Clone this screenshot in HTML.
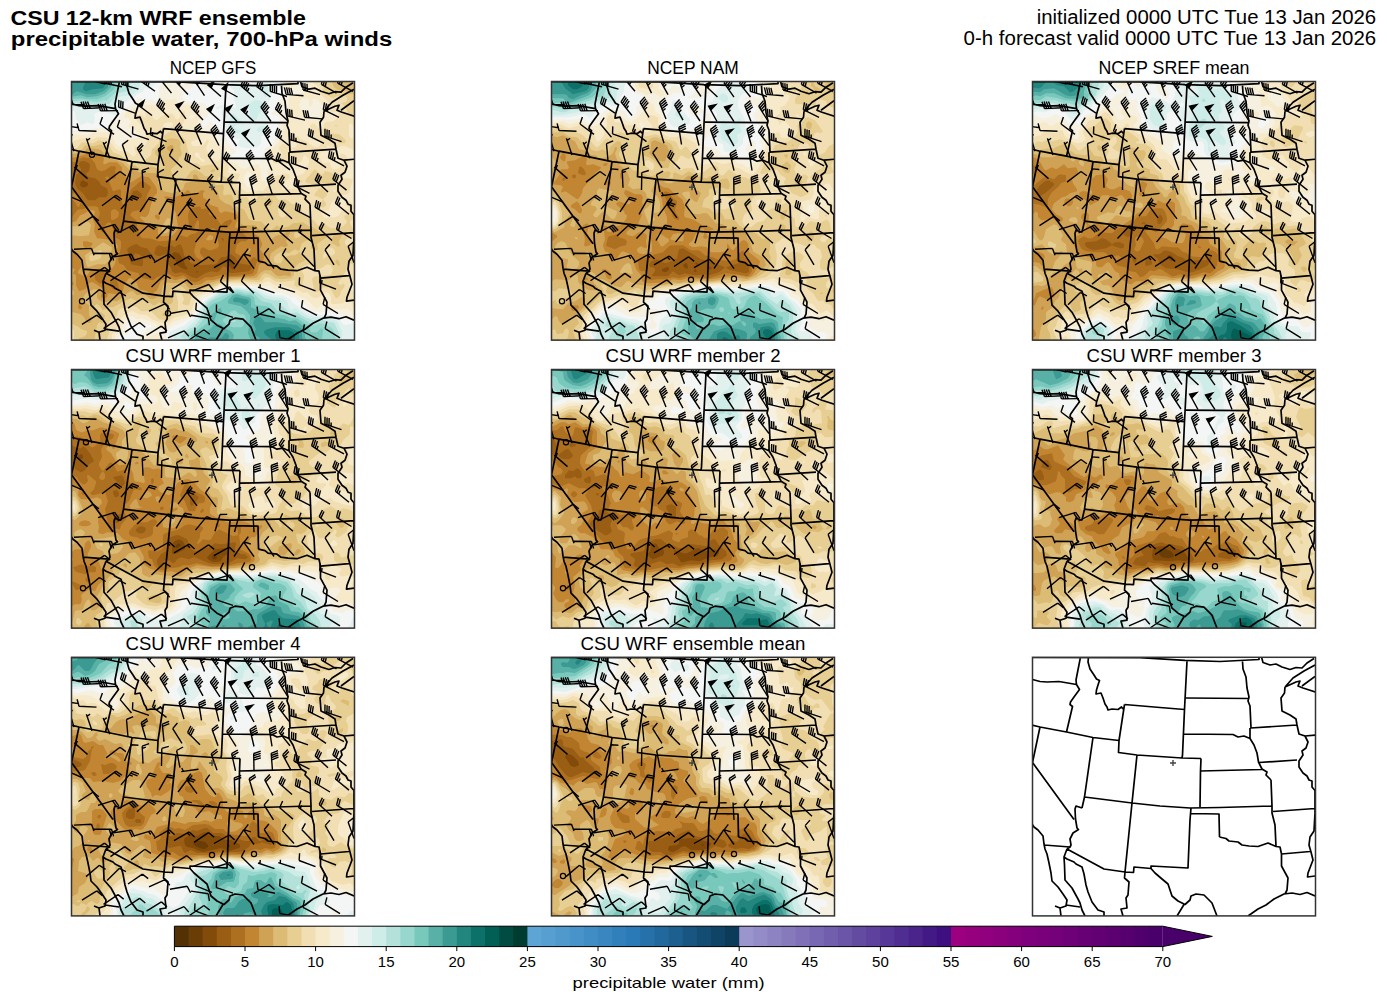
<!DOCTYPE html><html><head><meta charset="utf-8"><style>html,body{margin:0;padding:0;background:#fff;width:1387px;height:1001px;overflow:hidden}svg{position:absolute;left:0;top:0}text{font-family:"Liberation Sans",sans-serif;fill:#000}</style></head><body><svg width="1387" height="1001" viewBox="0 0 1387 1001"><defs><clipPath id="pc"><rect x="0" y="0" width="283" height="259"/></clipPath><path id="st" fill="none" stroke="#000" stroke-width="1.7" stroke-linejoin="round" d="M0.5 22.5L8 24.5L15 25L27 24.5L44.5 27.5M48.5 0L44 23L44.5 27.5M44.5 27.5L47.5 32.5L42 40L38.5 45L38 47.5L40.5 49.5L34.5 75M56.5 0L56 5L58 12L62 18L64.5 22L67.5 23.5L66 28L64.5 33L64 37L69 36L71 41L73 47L75 50L76 53L80 52L86 52.5L89.5 50L91 52M92.5 47.5L87 83.5L86.5 95.5L105 98L150 101L169 101.5M0 68L8 70L34.5 75L61 80.5L87 83.5M8 70L0.5 105.5M0.5 105.5L42 162.5M61 80.5L52.5 140L50 151M52.5 140L100 146L128 149L158 151L188 150.5L240 149M50 151L44 149L43 152L43.5 162L45 171L46.5 172.5L41 176L38 182L39 188L38 190L35 192M0 167L2 170L6 173L11 179L12 187L13 192L15 197L17 206L19 216L20 224L26 230L31 237L35 243L34 249L28 251L23 249M28 251L29 259M12 188L38 190M35 192L72 212L93 215L101.5 215.5L102 210L119 211.5M35 192L32 200L32.5 208L33 223L40 231L46 242L48 246L50 253L53 259M32 200L35 202L42 205L44 207L50 210L52 217L54 228L56 235L60 245L66 253L72 255L72 259M34 248L48 250M100 146L93 215L92.5 221L97 225L96 238L94 241L95 251L89 252L91 259M92.5 47.5L128 50.5L152.5 52.5M0 0.5L108 0.6L153 3.4L188 4.5L227 2.5L227 0M155 4L152.5 52.5L150.5 98L150 101M105 98L100 146M169 101.5L168.5 114L230 112.5M168.5 114L168 150M119 211.5L119 209L156 211L158 163L159 151M159 156.5L187 157L187.5 180M187.5 180L194 181.5L197 184L206 185L210 188L217 189L226 189.5L236 186L244 189.5L248 190M240 149L240 156L243 168L244 189.5L248 190L249.5 197L249.5 209L256 221L255 233L253 237M239 123L240 149M241 154.5L283 151.5M249.5 197L278 194.5M283 133.5L283 156L282 174L278 180L277 188L279 195L281 203L276 216L275.5 220L283 219M216 259L226 252L234 248L242 242L252 237L260 236L268 237.5L275 235.5L283 239M119 211.5L123 216L130 222L136 227L138 233L140 239L146 244L153 247.5L158 243L159 239L164 237L172 238L180 246L185 259M152 247.5L145 259M154 41L217 41.5M152 77L201 77.5L206 80L212 79L218 81.5M218 71L218 81.5L222 88L225 96L226.5 105L230 112L235 115L234 118L239 123M227 105.5L265 103M210.5 4.5L211 12L214 20L215 31L217 40L216 44L218 49L219 71M218.5 71L265 68M253 30L252.5 36L249 41L250 54L258 58L264 62L265 68M265 68L267 77L273 79L276 85L274 91L270 94L271 98L267 104L267 110L271 116L275 119L277 123L280 124L280 130L283 133.5M273 79L283.5 78M253 30L264 25L268 24L266 29L271 31L283.5 35M253 30L261 21L272 14L283 8M270 29L283 19.5M229.5 0L231 5.5L238 8L244 7L250 10L258 12.5L264 10.5L270 11L275 6L282 1.5"/><path id="bb" fill="#000" stroke="#000" stroke-width="1.4" stroke-linejoin="miter" d="M18.0 -0.3L0.8 -3.8M0.8 -3.8L0.1 -11.1M3.0 -3.4L2.2 -10.7M5.1 -2.9L4.4 -10.2M7.3 -2.5L6.5 -9.8M34.5 2.8L17.5 -1.3M17.5 -1.3L16.9 -8.6M19.6 -0.8L19.1 -8.1M21.7 -0.2L21.2 -7.6M23.9 0.3L23.3 -7.1M51.0 5.5L33.8 2.1M33.8 2.1L33.1 -5.2M36.0 2.5L35.2 -4.8M38.1 3.0L37.4 -4.3M40.3 3.4L39.5 -3.9M67.5 8.0L50.7 3.2M50.7 3.2L50.5 -4.1M52.8 3.8L52.6 -3.5M54.9 4.4L54.7 -2.9M57.0 5.0L56.8 -2.3M84.0 10.1L69.8 -0.1M69.8 -0.1L72.1 -7.0M71.6 1.2L73.9 -5.8M73.3 2.5L75.6 -4.5M75.1 3.7L77.4 -3.2M76.9 5.0L78.0 1.5M100.5 11.9L89.4 -1.6M89.4 -1.6L96.2 -4.4L92.2 1.7ZM117.0 13.4L105.0 0.6M105.0 0.6L111.6 -2.6L108.0 3.8ZM133.5 14.5L123.8 -0.0M123.8 -0.0L130.8 -2.1L126.2 3.6ZM150.0 15.3L136.9 3.8M136.9 3.8L143.2 -0.0L140.2 6.7ZM166.5 15.8L151.2 7.3M151.2 7.3L156.5 2.3L155.0 9.4ZM183.0 16.0L169.8 4.5M169.8 4.5L172.8 -2.2M171.5 5.9L174.4 -0.8M173.1 7.4L176.1 0.7M174.8 8.8L177.7 2.1M176.4 10.2L177.9 6.9M199.5 15.8L185.6 5.3M185.6 5.3L188.0 -1.6M187.3 6.6L189.8 -0.3M189.0 7.9L191.5 1.0M190.8 9.2L192.0 5.8M216.0 15.3L199.3 10.2M199.3 10.2L199.2 2.9M201.4 10.9L201.3 3.5M203.5 11.5L203.4 4.2M205.5 12.1L205.5 4.8M232.5 14.5L215.1 13.2M215.1 13.2L213.4 6.1M217.2 13.4L215.6 6.2M219.4 13.5L217.8 6.4M221.6 13.7L219.9 6.6M249.0 13.4L232.1 8.8M232.1 8.8L231.8 1.5M234.2 9.4L233.9 2.1M236.3 10.0L236.0 2.6M265.5 11.9L250.4 3.1M250.4 3.1L252.1 -4.1M252.3 4.2L253.9 -3.0M254.2 5.3L255.8 -1.9M282.0 10.1L266.6 1.9M266.6 1.9L267.9 -5.3M268.5 2.9L269.9 -4.3M270.4 3.9L271.8 -3.3M13.0 23.2L-4.5 23.5M-4.5 23.5L-6.8 16.6M-2.3 23.5L-4.6 16.5M-0.1 23.4L-2.5 16.5M2.1 23.4L-0.3 16.4M30.0 26.5L12.5 27.4M12.5 27.4L10.0 20.5M14.7 27.3L12.1 20.4M16.9 27.2L14.3 20.3M19.1 27.1L16.5 20.2M47.0 29.4L29.5 29.7M29.5 29.7L27.2 22.8M31.7 29.7L29.4 22.7M33.9 29.6L31.6 22.7M36.1 29.6L33.8 22.6M64.0 32.0L47.6 26.0M47.6 26.0L47.9 18.7M49.6 26.8L50.0 19.4M51.7 27.5L52.0 20.2M81.0 34.3L67.0 23.8M67.0 23.8L73.0 19.5L70.5 26.4ZM98.0 36.2L85.7 23.8M85.7 23.8L89.1 17.3M87.2 25.3L90.6 18.8M88.7 26.9L92.2 20.4M90.3 28.4L93.7 21.9M91.8 30.0L93.5 26.7M115.0 37.7L104.7 23.6M104.7 23.6L111.7 21.2L107.3 27.1ZM132.0 38.9L120.1 26.1M120.1 26.1L123.7 19.7M121.6 27.7L125.2 21.3M123.1 29.3L126.7 23.0M124.6 30.9L128.2 24.6M126.0 32.5L127.9 29.3M149.0 39.8L136.1 28.0M136.1 28.0L142.4 24.3L139.3 30.9ZM166.0 40.3L154.1 27.5M154.1 27.5L160.8 24.3L157.1 30.7ZM183.0 40.5L170.3 28.5M170.3 28.5L176.7 24.9L173.4 31.5ZM175.0 33.0L176.6 29.7M200.0 40.3L189.9 26.0M189.9 26.0L194.4 20.2M191.2 27.8L195.6 22.0M192.4 29.6L196.9 23.8M193.7 31.4L198.2 25.6M195.0 33.2L197.2 30.3M217.0 39.8L204.4 27.7M204.4 27.7L207.7 21.1M206.0 29.2L209.2 22.6M207.5 30.7L210.8 24.1M209.1 32.2L210.8 28.9M234.0 38.9L217.0 34.9M217.0 34.9L216.5 27.5M219.1 35.4L218.6 28.1M221.2 35.9L220.7 28.6M251.0 37.7L233.6 36.0M233.6 36.0L232.1 28.9M235.8 36.2L234.3 29.1M237.9 36.5L236.4 29.3M268.0 36.2L252.3 28.4M252.3 28.4L253.5 21.1M254.3 29.3L255.5 22.1M256.3 30.3L257.4 23.1M8.0 46.6L-9.3 44.1M-9.3 44.1L-10.5 36.9M25.5 50.1L8.0 49.3M8.0 49.3L6.1 42.2M43.0 53.2L29.0 42.8M29.0 42.8L31.4 35.9M60.5 56.0L46.3 45.7M46.3 45.7L48.7 38.8M78.0 58.4L61.5 52.6M61.5 52.6L61.8 45.2M95.5 60.4L79.4 53.7M79.4 53.7L80.0 46.4M81.4 54.5L81.7 50.9M113.0 62.1L104.1 47.0M104.1 47.0L109.0 41.5M105.2 48.9L110.1 43.4M106.3 50.8L111.2 45.3M130.5 63.3L123.7 47.2M123.7 47.2L129.3 42.5M124.5 49.2L130.1 44.5M125.4 51.3L131.0 46.5M148.0 64.3L139.9 48.8M139.9 48.8L145.0 43.6M140.9 50.7L146.1 45.5M141.9 52.6L147.1 47.5M142.9 54.6L148.1 49.4M165.5 64.8L155.6 50.4M155.6 50.4L160.2 44.6M156.9 52.2L161.4 46.4M158.1 54.0L162.7 48.2M159.3 55.8L163.9 50.0M160.6 57.6L162.8 54.7M183.0 65.0L171.1 52.2M171.1 52.2L177.7 49.0L174.1 55.4ZM200.5 64.8L191.9 49.6M191.9 49.6L196.9 44.2M193.0 51.5L198.0 46.1M194.1 53.4L199.1 48.0M195.1 55.3L200.2 49.9M196.2 57.2L198.7 54.5M218.0 64.3L204.3 53.4M204.3 53.4L206.9 46.6M206.0 54.8L208.6 47.9M207.7 56.1L210.3 49.3M209.4 57.5L210.7 54.1M235.5 63.3L218.7 58.5M218.7 58.5L218.5 51.1M220.8 59.1L220.6 51.8M222.9 59.7L222.7 52.4M225.0 60.3L224.9 56.6M253.0 62.1L237.3 54.4M237.3 54.4L238.4 47.1M239.2 55.4L240.3 48.1M241.2 56.3L242.3 49.1M270.5 60.4L253.9 54.9M253.9 54.9L254.0 47.6M256.0 55.6L256.1 48.2M258.0 56.3L258.2 48.9M260.1 57.0L260.2 53.3M3.0 70.1L-2.0 53.3M-1.3 55.4L1.7 53.3M21.0 73.8L15.4 57.2M16.1 59.3L19.1 57.1M39.0 77.1L32.1 61.0M32.9 63.0L35.7 60.6M57.0 80.0L51.3 63.4M51.3 63.4L57.2 59.1M75.0 82.5L66.2 67.3M66.2 67.3L71.2 62.0M67.3 69.2L72.3 63.8M68.4 71.1L70.9 68.4M93.0 84.6L87.2 68.1M87.2 68.1L93.0 63.7M87.9 70.2L93.8 65.8M111.0 86.4L98.4 74.3M98.4 74.3L101.6 67.7M129.0 87.8L113.9 78.8M113.9 78.8L115.6 71.7M115.8 79.9L117.5 72.8M117.7 81.1L119.4 73.9M147.0 88.7L137.2 74.2M137.2 74.2L141.8 68.5M138.4 76.0L143.0 70.3M165.0 89.3L152.4 77.1M152.4 77.1L155.7 70.6M154.0 78.7L157.3 72.1M155.6 80.2L158.8 73.6M183.0 89.5L175.0 73.9M175.0 73.9L180.2 68.8M176.0 75.9L181.2 70.7M177.0 77.8L182.2 72.7M178.0 79.8L183.2 74.6M201.0 89.3L194.2 73.2M194.2 73.2L199.8 68.4M195.1 75.2L200.7 70.5M195.9 77.2L201.5 72.5M196.8 79.2L202.4 74.5M219.0 88.7L205.0 78.2M205.0 78.2L207.5 71.3M206.8 79.5L209.3 72.6M208.5 80.8L209.8 77.4M237.0 87.8L220.5 82.0M220.5 82.0L220.7 74.7M222.5 82.7L222.7 75.4M224.6 83.5L224.8 76.1M255.0 86.4L240.6 76.5M240.6 76.5L242.8 69.5M242.4 77.7L244.6 70.7M244.2 78.9L246.4 71.9M246.0 80.2L247.1 76.7M273.0 84.6L257.5 76.5M257.5 76.5L258.8 69.3M259.5 77.5L260.8 70.3M261.4 78.5L262.7 71.3M263.3 79.5L264.0 75.9M16.5 97.4L3.3 85.9M5.0 87.3L6.4 83.9M35.0 100.9L49.0 90.3M49.0 90.3L54.9 94.6M53.5 103.9L60.1 87.7M60.1 87.7L67.4 88.3M72.0 106.6L71.2 89.1M71.2 89.1L78.1 86.6M71.3 91.3L74.8 90.1M90.5 108.9L86.6 91.8M86.6 91.8L92.9 88.1M109.0 110.7L101.6 94.9M101.6 94.9L107.0 89.9M127.5 112.2L110.2 114.6M112.3 114.3L110.8 111.0M146.0 113.2L136.4 98.5M136.4 98.5L141.1 92.9M137.6 100.4L142.3 94.7M164.5 113.8L156.6 98.2M156.6 98.2L161.8 93.1M157.6 100.2L162.8 95.0M158.5 102.1L161.2 99.5M183.0 114.0L178.5 97.1M178.5 97.1L184.7 93.2M179.0 99.2L185.2 95.3M179.6 101.3L185.8 97.4M180.2 103.4L186.4 99.5M201.5 113.8L196.0 97.2M196.0 97.2L201.9 92.9M196.7 99.3L202.6 95.0M197.4 101.3L203.3 97.1M198.0 103.4L204.0 99.1M220.0 113.2L208.2 100.3M208.2 100.3L211.9 93.9M209.7 101.9L213.4 95.5M211.2 103.5L213.0 100.3M238.5 112.2L222.9 104.2M222.9 104.2L224.2 97.0M224.9 105.2L226.1 98.0M226.8 106.2L228.1 98.9M257.0 110.7L244.1 98.9M244.1 98.9L247.2 92.2M245.7 100.4L248.8 93.7M247.3 101.8L250.5 95.2M275.5 108.9L261.8 98.0M261.8 98.0L264.4 91.2M263.5 99.4L266.1 92.5M265.2 100.7L267.8 93.9M12.0 121.0L-4.1 114.1M-4.1 114.1L-3.4 106.8M31.0 124.6L44.9 114.1M44.9 114.1L50.9 118.3M43.2 115.4L49.2 119.6M50.0 127.9L61.1 114.4M61.1 114.4L67.9 117.1M59.7 116.1L66.5 118.8M58.3 117.8L61.7 119.1M69.0 130.7L78.6 116.1M78.6 116.1L85.6 118.1M77.4 117.9L84.4 119.9M88.0 133.1L96.6 117.9M96.6 117.9L103.8 119.4M95.5 119.8L102.7 121.3M107.0 135.0L117.5 121.0M117.5 121.0L124.4 123.4M116.2 122.8L123.1 125.2M126.0 136.6L115.6 122.5M115.6 122.5L119.9 116.6M116.9 124.3L121.2 118.3M145.0 137.6L134.5 123.7M134.5 123.7L138.7 117.7M164.0 138.3L163.3 120.8M163.3 120.8L170.2 118.3M163.4 123.0L170.3 120.5M183.0 138.5L178.1 121.7M178.1 121.7L184.3 117.6M178.7 123.8L184.9 119.7M202.0 138.3L193.7 122.9M193.7 122.9L198.8 117.6M194.7 124.8L199.8 119.6M221.0 137.6L208.0 125.9M208.0 125.9L211.1 119.3M209.6 127.4L212.7 120.7M211.3 128.8L214.3 122.2M240.0 136.6L224.4 128.7M224.4 128.7L225.5 121.5M226.3 129.7L227.5 122.5M228.3 130.7L229.4 123.4M259.0 135.0L244.0 126.0M244.0 126.0L245.7 118.9M245.9 127.2L247.6 120.0M247.7 128.3L249.5 121.2M278.0 133.1L264.4 122.0M264.4 122.0L267.2 115.2M266.1 123.4L268.9 116.6M267.8 124.8L269.2 121.4M7.5 144.5L22.2 135.0M22.2 135.0L27.8 139.7M27.0 148.4L43.7 143.1M43.7 143.1L47.9 149.1M41.6 143.8L45.8 149.8M46.5 151.8L62.1 143.9M62.1 143.9L67.2 149.2M60.2 144.9L65.3 150.2M58.2 145.9L63.3 151.1M66.0 154.8L78.9 142.9M78.9 142.9L85.2 146.6M77.3 144.4L83.6 148.1M85.5 157.3L97.5 144.6M97.5 144.6L104.1 147.8M96.0 146.2L102.6 149.4M105.0 159.3L113.6 144.1M113.6 144.1L120.8 145.6M112.5 146.0L116.1 146.8M124.5 160.9L135.6 147.4M135.6 147.4L142.4 150.2M144.0 162.1L149.0 145.3M149.0 145.3L156.3 145.2M163.5 162.8L168.2 145.9M168.2 145.9L175.6 145.7M183.0 163.0L182.0 145.5M182.2 147.7L185.6 146.4M202.5 162.8L193.1 148.0M193.1 148.0L197.8 142.4M222.0 162.1L208.7 150.7M208.7 150.7L211.6 144.0M241.5 160.9L227.5 150.4M227.5 150.4L230.0 143.5M229.3 151.7L230.5 148.3M261.0 159.3L248.2 147.4M248.2 147.4L251.4 140.8M249.8 148.9L253.0 142.3M280.5 157.3L265.6 148.1M265.6 148.1L267.4 141.0M267.5 149.3L269.3 142.2M3.0 168.1L20.5 167.2M20.5 167.2L23.0 174.1M23.0 172.1L40.5 172.3M40.5 172.3L42.6 179.3M38.3 172.3L40.4 179.3M43.0 175.7L60.3 173.1M60.3 173.1L63.5 179.7M58.1 173.4L61.4 180.0M63.0 178.9L79.8 173.9M79.8 173.9L83.9 179.9M77.7 174.5L79.7 177.5M83.0 181.5L98.2 172.8M98.2 172.8L103.6 177.8M96.3 173.9L99.0 176.4M103.0 183.7L118.2 174.9M118.2 174.9L123.6 179.9M116.3 176.0L119.0 178.5M123.0 185.3L137.5 175.6M137.5 175.6L143.2 180.2M143.0 186.5L158.3 178.0M158.3 178.0L163.6 183.1M163.0 187.3L172.8 172.7M172.8 172.7L179.8 174.8M183.0 187.5L172.9 173.2M172.9 173.2L177.3 167.4M203.0 187.3L193.2 172.7M193.2 172.7L197.8 167.0M223.0 186.5L211.3 173.6M211.3 173.6L215.0 167.2M243.0 185.3L230.9 172.7M230.9 172.7L234.4 166.3M263.0 183.7L254.1 168.6M254.1 168.6L259.0 163.1M283.0 181.5L277.1 165.0M277.1 165.0L282.9 160.6M19.0 195.9L33.5 186.1M33.5 186.1L39.2 190.7M39.5 199.6L53.8 189.6M53.8 189.6L59.6 194.1M60.0 202.9L73.9 192.2M73.9 192.2L79.9 196.4M80.5 205.7L93.2 193.7M93.2 193.7L99.6 197.3M101.0 208.0L115.8 198.7M115.8 198.7L121.4 203.5M121.5 209.7L137.8 203.3M137.8 203.3L142.4 209.1M142.0 211.0L158.7 205.6M158.7 205.6L162.9 211.6M162.5 211.7L149.4 200.2M149.4 200.2L152.4 193.5M183.0 212.0L170.4 199.8M170.4 199.8L173.7 193.3M203.5 211.7L187.0 206.0M189.0 206.7L189.2 203.0M224.0 211.0L207.3 205.7M209.4 206.4L209.4 202.7M244.5 209.7L228.1 203.5M228.1 203.5L228.6 196.2M265.0 208.0L248.7 201.6M248.7 201.6L249.2 194.3M250.7 202.4L251.0 198.8M15.0 219.6L28.4 208.3M28.4 208.3L34.6 212.3M36.0 223.5L48.5 211.3M48.5 211.3L54.9 214.7M57.0 227.0L71.4 217.1M71.4 217.1L77.2 221.6M78.0 229.9L94.0 222.7M94.0 222.7L98.8 228.2M99.0 232.3L116.2 229.2M116.2 229.2L119.6 235.7M120.0 234.1L137.3 236.8M137.3 236.8L138.4 244.0M141.0 235.4L124.8 228.9M124.8 228.9L125.4 221.6M162.0 236.2L145.4 230.7M145.4 230.7L145.5 223.4M183.0 236.5L198.0 227.5M198.0 227.5L203.5 232.4M204.0 236.2L186.9 232.7M186.9 232.7L186.1 225.4M225.0 235.4L208.7 229.1M208.7 229.1L209.2 221.8M246.0 234.1L230.5 226.1M230.5 226.1L231.7 218.9M267.0 232.3L252.1 223.2M252.1 223.2L253.8 216.0M11.0 243.2L25.8 233.9M25.8 233.9L31.4 238.6M32.5 247.4L47.0 237.6M47.0 237.6L52.7 242.1M54.0 251.0L68.6 241.3M68.6 241.3L74.3 246.0M75.5 254.1L90.4 244.9M90.4 244.9L95.9 249.7M97.0 256.6L113.0 249.6M113.0 249.6L117.8 255.1M118.5 258.5L132.9 248.5M132.9 248.5L138.7 253.1M140.0 259.9L123.6 253.7M123.6 253.7L124.0 246.4M226.0 259.9L208.8 256.4M208.8 256.4L208.1 249.1M247.5 258.5L232.0 250.3M232.0 250.3L233.4 243.1M269.0 256.6L254.1 247.4M254.1 247.4L255.9 240.3"/><path id="bn" fill="#000" stroke="#000" stroke-width="1.4" stroke-linejoin="miter" d="M18.0 -0.3L0.8 -3.8M0.8 -3.8L0.1 -11.1M3.0 -3.4L2.2 -10.7M5.1 -2.9L4.4 -10.2M7.3 -2.5L6.5 -9.8M34.5 2.8L17.5 -1.3M17.5 -1.3L16.9 -8.6M19.6 -0.8L19.1 -8.1M21.7 -0.2L21.2 -7.6M23.9 0.3L23.3 -7.1M51.0 5.5L33.8 2.1M33.8 2.1L33.1 -5.2M36.0 2.5L35.2 -4.8M38.1 3.0L37.4 -4.3M40.3 3.4L39.5 -3.9M67.5 8.0L50.7 3.2M50.7 3.2L50.5 -4.1M52.8 3.8L52.6 -3.5M54.9 4.4L54.7 -2.9M57.0 5.0L56.8 -2.3M84.0 10.1L72.7 -3.2M72.7 -3.2L76.6 -9.4M74.1 -1.5L78.0 -7.7M75.5 0.1L79.4 -6.1M76.9 1.8L80.8 -4.4M78.3 3.5L80.3 0.4M100.5 11.9L93.0 -3.9M93.0 -3.9L98.4 -8.9M94.0 -1.9L99.4 -6.9M94.9 0.0L100.3 -4.9M95.8 2.0L101.2 -2.9M96.8 4.0L99.5 1.5M117.0 13.4L108.5 -1.9M108.5 -1.9L113.5 -7.2M109.5 0.0L114.6 -5.3M110.6 1.9L115.7 -3.4M111.7 3.8L116.7 -1.5M112.7 5.7L115.3 3.1M133.5 14.5L127.6 -1.9M127.6 -1.9L133.5 -6.4M128.3 0.1L134.2 -4.3M129.1 2.2L134.9 -2.2M129.8 4.2L135.7 -0.2M130.6 6.3L133.5 4.1M150.0 15.3L140.1 0.9M140.1 0.9L144.6 -4.8M141.3 2.7L145.8 -3.0M142.6 4.5L147.1 -1.2M143.8 6.3L148.3 0.6M145.0 8.1L147.3 5.3M166.5 15.8L153.7 3.9M153.7 3.9L160.1 0.3L156.9 6.9ZM183.0 16.0L173.0 1.6M173.0 1.6L177.5 -4.2M174.2 3.4L178.7 -2.4M175.5 5.2L180.0 -0.6M176.7 7.0L181.2 1.2M178.0 8.8L180.2 5.9M199.5 15.8L188.5 2.2M188.5 2.2L192.6 -3.9M189.9 3.9L194.0 -2.2M191.3 5.6L195.4 -0.5M192.6 7.3L194.7 4.3M216.0 15.3L199.3 10.2M199.3 10.2L199.2 2.9M201.4 10.9L201.3 3.5M203.5 11.5L203.4 4.2M205.5 12.1L205.5 4.8M232.5 14.5L215.1 13.2M215.1 13.2L213.4 6.1M217.2 13.4L215.6 6.2M219.4 13.5L217.8 6.4M221.6 13.7L219.9 6.6M249.0 13.4L232.1 8.8M232.1 8.8L231.8 1.5M234.2 9.4L233.9 2.1M236.3 10.0L236.0 2.6M265.5 11.9L250.4 3.1M250.4 3.1L252.1 -4.1M252.3 4.2L253.9 -3.0M254.2 5.3L255.8 -1.9M282.0 10.1L266.6 1.9M266.6 1.9L267.9 -5.3M268.5 2.9L269.9 -4.3M270.4 3.9L271.8 -3.3M13.0 23.2L-4.5 23.5M-4.5 23.5L-6.8 16.6M-2.3 23.5L-4.6 16.5M-0.1 23.4L-2.5 16.5M2.1 23.4L-0.3 16.4M30.0 26.5L12.5 27.4M12.5 27.4L10.0 20.5M14.7 27.3L12.1 20.4M16.9 27.2L14.3 20.3M19.1 27.1L16.5 20.2M47.0 29.4L29.5 29.7M29.5 29.7L27.2 22.8M31.7 29.7L29.4 22.7M33.9 29.6L31.6 22.7M36.1 29.6L33.8 22.6M64.0 32.0L49.5 22.2M49.5 22.2L51.6 15.2M51.3 23.4L53.4 16.4M53.1 24.7L55.2 17.6M81.0 34.3L70.0 20.7M70.0 20.7L74.0 14.6M71.3 22.4L75.4 16.3M72.7 24.1L76.8 18.0M74.1 25.8L78.2 19.7M75.5 27.5L77.5 24.4M98.0 36.2L89.0 21.1M89.0 21.1L93.9 15.7M90.2 23.0L95.0 17.6M91.3 24.9L96.2 19.4M92.4 26.8L97.3 21.3M93.5 28.7L96.0 25.9M115.0 37.7L108.5 21.5M108.5 21.5L114.1 16.8M109.3 23.5L114.9 18.9M110.1 25.6L115.8 20.9M110.9 27.6L116.6 22.9M111.7 29.6L114.6 27.3M132.0 38.9L123.6 23.6M123.6 23.6L128.6 18.3M124.6 25.5L129.7 20.2M125.7 27.4L130.7 22.1M126.7 29.4L131.8 24.1M127.8 31.3L130.3 28.6M149.0 39.8L139.3 25.2M139.3 25.2L144.0 19.5M140.5 27.0L145.2 21.4M141.7 28.9L146.4 23.2M143.0 30.7L147.6 25.0M144.2 32.5L146.5 29.7M166.0 40.3L157.6 25.0M157.6 25.0L164.8 23.5L159.7 28.8ZM183.0 40.5L173.5 25.8M173.5 25.8L180.6 23.8L175.9 29.5ZM177.1 31.3L179.4 28.5M200.0 40.3L193.7 24.0M193.7 24.0L199.4 19.4M194.5 26.0L200.2 21.5M195.3 28.1L201.0 23.5M196.1 30.1L201.8 25.6M196.8 32.2L199.7 29.9M217.0 39.8L207.7 25.0M207.7 25.0L212.5 19.4M208.9 26.8L213.6 21.3M210.0 28.7L214.8 23.1M211.2 30.5L213.6 27.8M234.0 38.9L217.0 34.9M217.0 34.9L216.5 27.5M219.1 35.4L218.6 28.1M221.2 35.9L220.7 28.6M251.0 37.7L233.6 36.0M233.6 36.0L232.1 28.9M235.8 36.2L234.3 29.1M237.9 36.5L236.4 29.3M268.0 36.2L252.3 28.4M252.3 28.4L253.5 21.1M254.3 29.3L255.5 22.1M256.3 30.3L257.4 23.1M8.0 46.6L-9.3 44.1M-9.3 44.1L-10.5 36.9M25.5 50.1L8.0 49.3M8.0 49.3L6.1 42.2M43.0 53.2L29.0 42.8M29.0 42.8L31.4 35.9M60.5 56.0L49.2 42.6M49.2 42.6L53.2 36.4M78.0 58.4L61.5 52.6M61.5 52.6L61.8 45.2M95.5 60.4L81.5 50.0M81.5 50.0L83.9 43.0M83.2 51.3L84.4 47.8M113.0 62.1L108.0 45.3M108.0 45.3L114.1 41.2M108.6 47.4L114.7 43.3M109.3 49.5L115.3 45.4M130.5 63.3L127.8 46.1M127.8 46.1L134.4 42.8M128.1 48.2L134.7 45.0M128.5 50.4L135.0 47.1M148.0 64.3L143.8 47.3M143.8 47.3L150.1 43.5M144.4 49.4L150.6 45.6M144.9 51.5L151.2 47.7M145.4 53.6L151.7 49.9M165.5 64.8L159.4 48.4M159.4 48.4L165.2 43.9M160.2 50.5L166.0 46.0M160.9 52.5L166.8 48.0M161.7 54.6L167.5 50.1M162.5 56.6L165.4 54.4M183.0 65.0L174.6 49.7M174.6 49.7L181.8 48.2L176.7 53.5ZM200.5 64.8L195.9 47.9M195.9 47.9L202.0 44.0M196.4 50.1L202.6 46.1M197.0 52.2L203.2 48.2M197.6 54.3L203.8 50.3M198.2 56.4L201.3 54.4M218.0 64.3L207.3 50.4M207.3 50.4L211.5 44.4M208.7 52.1L212.9 46.1M210.0 53.9L214.2 47.9M211.3 55.6L213.4 52.6M235.5 63.3L218.7 58.5M218.7 58.5L218.5 51.1M220.8 59.1L220.6 51.8M222.9 59.7L222.7 52.4M225.0 60.3L224.9 56.6M253.0 62.1L237.3 54.4M237.3 54.4L238.4 47.1M239.2 55.4L240.3 48.1M241.2 56.3L242.3 49.1M270.5 60.4L253.9 54.9M253.9 54.9L254.0 47.6M256.0 55.6L256.1 48.2M258.0 56.3L258.2 48.9M260.1 57.0L260.2 53.3M3.0 70.1L-2.0 53.3M-1.3 55.4L1.7 53.3M21.0 73.8L15.4 57.2M16.1 59.3L19.1 57.1M39.0 77.1L32.1 61.0M32.9 63.0L35.7 60.6M57.0 80.0L55.5 62.5M55.5 62.5L62.2 59.7M75.0 82.5L70.2 65.7M70.2 65.7L76.3 61.6M70.8 67.8L76.9 63.7M71.4 69.9L74.4 67.9M93.0 84.6L91.3 67.2M91.3 67.2L98.1 64.4M91.5 69.4L98.3 66.6M111.0 86.4L101.7 71.6M101.7 71.6L106.4 66.0M129.0 87.8L116.6 75.5M116.6 75.5L119.9 68.9M118.1 77.0L121.5 70.5M119.7 78.5L123.0 72.0M147.0 88.7L141.0 72.3M141.0 72.3L146.8 67.8M141.7 74.3L147.6 69.9M165.0 89.3L155.7 74.5M155.7 74.5L160.5 68.9M156.9 76.3L161.7 70.8M158.0 78.2L162.8 72.6M183.0 89.5L179.0 72.5M179.0 72.5L185.3 68.7M179.5 74.6L185.8 70.9M180.0 76.7L186.3 73.0M180.5 78.9L186.8 75.1M201.0 89.3L198.3 72.0M198.3 72.0L204.9 68.8M198.7 74.2L205.2 70.9M199.0 76.3L205.6 73.1M199.3 78.5L205.9 75.3M219.0 88.7L208.0 75.1M208.0 75.1L212.1 69.0M209.4 76.8L213.5 70.7M210.8 78.5L212.8 75.5M237.0 87.8L220.5 82.0M220.5 82.0L220.7 74.7M222.5 82.7L222.7 75.4M224.6 83.5L224.8 76.1M255.0 86.4L240.6 76.5M240.6 76.5L242.8 69.5M242.4 77.7L244.6 70.7M244.2 78.9L246.4 71.9M246.0 80.2L247.1 76.7M273.0 84.6L257.5 76.5M257.5 76.5L258.8 69.3M259.5 77.5L260.8 70.3M261.4 78.5L262.7 71.3M263.3 79.5L264.0 75.9M16.5 97.4L3.3 85.9M5.0 87.3L6.4 83.9M35.0 100.9L49.0 90.3M49.0 90.3L54.9 94.6M53.5 103.9L60.1 87.7M60.1 87.7L67.4 88.3M72.0 106.6L71.2 89.1M71.2 89.1L78.1 86.6M71.3 91.3L74.8 90.1M90.5 108.9L90.8 91.4M90.8 91.4L97.8 89.3M109.0 110.7L105.6 93.5M105.6 93.5L112.1 90.0M127.5 112.2L110.2 114.6M112.3 114.3L110.8 111.0M146.0 113.2L140.2 96.7M140.2 96.7L146.1 92.3M141.0 98.7L146.8 94.3M164.5 113.8L160.6 96.7M160.6 96.7L166.9 93.0M161.1 98.9L167.4 95.2M161.5 101.0L164.7 99.2M183.0 114.0L182.7 96.5M182.7 96.5L189.7 94.2M182.7 98.7L189.7 96.4M182.8 100.9L189.7 98.6M182.8 103.1L189.8 100.8M201.5 113.8L200.2 96.3M200.2 96.3L207.0 93.6M200.3 98.5L207.1 95.8M200.5 100.7L207.3 98.0M200.7 102.9L207.5 100.2M220.0 113.2L211.7 97.8M211.7 97.8L216.8 92.5M212.7 99.7L217.8 94.5M213.8 101.6L216.3 99.0M238.5 112.2L222.9 104.2M222.9 104.2L224.2 97.0M224.9 105.2L226.1 98.0M226.8 106.2L228.1 98.9M257.0 110.7L244.1 98.9M244.1 98.9L247.2 92.2M245.7 100.4L248.8 93.7M247.3 101.8L250.5 95.2M275.5 108.9L261.8 98.0M261.8 98.0L264.4 91.2M263.5 99.4L266.1 92.5M265.2 100.7L267.8 93.9M12.0 121.0L-4.1 114.1M-4.1 114.1L-3.4 106.8M31.0 124.6L44.9 114.1M44.9 114.1L50.9 118.3M43.2 115.4L49.2 119.6M50.0 127.9L61.1 114.4M61.1 114.4L67.9 117.1M59.7 116.1L66.5 118.8M58.3 117.8L61.7 119.1M69.0 130.7L78.6 116.1M78.6 116.1L85.6 118.1M77.4 117.9L84.4 119.9M88.0 133.1L96.6 117.9M96.6 117.9L103.8 119.4M95.5 119.8L102.7 121.3M107.0 135.0L117.5 121.0M117.5 121.0L124.4 123.4M116.2 122.8L123.1 125.2M126.0 136.6L115.6 122.5M115.6 122.5L119.9 116.6M116.9 124.3L121.2 118.3M145.0 137.6L134.5 123.7M134.5 123.7L138.7 117.7M164.0 138.3L163.3 120.8M163.3 120.8L170.2 118.3M163.4 123.0L170.3 120.5M183.0 138.5L178.1 121.7M178.1 121.7L184.3 117.6M178.7 123.8L184.9 119.7M202.0 138.3L193.7 122.9M193.7 122.9L198.8 117.6M194.7 124.8L199.8 119.6M221.0 137.6L208.0 125.9M208.0 125.9L211.1 119.3M209.6 127.4L212.7 120.7M211.3 128.8L214.3 122.2M240.0 136.6L224.4 128.7M224.4 128.7L225.5 121.5M226.3 129.7L227.5 122.5M228.3 130.7L229.4 123.4M259.0 135.0L244.0 126.0M244.0 126.0L245.7 118.9M245.9 127.2L247.6 120.0M247.7 128.3L249.5 121.2M278.0 133.1L264.4 122.0M264.4 122.0L267.2 115.2M266.1 123.4L268.9 116.6M267.8 124.8L269.2 121.4M7.5 144.5L22.2 135.0M22.2 135.0L27.8 139.7M27.0 148.4L43.7 143.1M43.7 143.1L47.9 149.1M41.6 143.8L45.8 149.8M46.5 151.8L62.1 143.9M62.1 143.9L67.2 149.2M60.2 144.9L65.3 150.2M58.2 145.9L63.3 151.1M66.0 154.8L78.9 142.9M78.9 142.9L85.2 146.6M77.3 144.4L83.6 148.1M85.5 157.3L97.5 144.6M97.5 144.6L104.1 147.8M96.0 146.2L102.6 149.4M105.0 159.3L113.6 144.1M113.6 144.1L120.8 145.6M112.5 146.0L116.1 146.8M124.5 160.9L135.6 147.4M135.6 147.4L142.4 150.2M144.0 162.1L149.0 145.3M149.0 145.3L156.3 145.2M163.5 162.8L168.2 145.9M168.2 145.9L175.6 145.7M183.0 163.0L182.0 145.5M182.2 147.7L185.6 146.4M202.5 162.8L193.1 148.0M193.1 148.0L197.8 142.4M222.0 162.1L208.7 150.7M208.7 150.7L211.6 144.0M241.5 160.9L227.5 150.4M227.5 150.4L230.0 143.5M229.3 151.7L230.5 148.3M261.0 159.3L248.2 147.4M248.2 147.4L251.4 140.8M249.8 148.9L253.0 142.3M280.5 157.3L265.6 148.1M265.6 148.1L267.4 141.0M267.5 149.3L269.3 142.2M3.0 168.1L20.5 167.2M20.5 167.2L23.0 174.1M23.0 172.1L40.5 172.3M40.5 172.3L42.6 179.3M38.3 172.3L40.4 179.3M43.0 175.7L60.3 173.1M60.3 173.1L63.5 179.7M58.1 173.4L61.4 180.0M63.0 178.9L79.8 173.9M79.8 173.9L83.9 179.9M77.7 174.5L79.7 177.5M83.0 181.5L98.2 172.8M98.2 172.8L103.6 177.8M96.3 173.9L99.0 176.4M103.0 183.7L118.2 174.9M118.2 174.9L123.6 179.9M116.3 176.0L119.0 178.5M123.0 185.3L137.5 175.6M137.5 175.6L143.2 180.2M143.0 186.5L158.3 178.0M158.3 178.0L163.6 183.1M163.0 187.3L172.8 172.7M172.8 172.7L179.8 174.8M183.0 187.5L172.9 173.2M172.9 173.2L177.3 167.4M203.0 187.3L193.2 172.7M193.2 172.7L197.8 167.0M223.0 186.5L211.3 173.6M211.3 173.6L215.0 167.2M243.0 185.3L230.9 172.7M230.9 172.7L234.4 166.3M263.0 183.7L254.1 168.6M254.1 168.6L259.0 163.1M283.0 181.5L277.1 165.0M277.1 165.0L282.9 160.6M19.0 195.9L33.5 186.1M33.5 186.1L39.2 190.7M39.5 199.6L53.8 189.6M53.8 189.6L59.6 194.1M60.0 202.9L73.9 192.2M73.9 192.2L79.9 196.4M80.5 205.7L93.2 193.7M93.2 193.7L99.6 197.3M101.0 208.0L115.8 198.7M115.8 198.7L121.4 203.5M121.5 209.7L137.8 203.3M137.8 203.3L142.4 209.1M142.0 211.0L158.7 205.6M158.7 205.6L162.9 211.6M162.5 211.7L149.4 200.2M149.4 200.2L152.4 193.5M183.0 212.0L170.4 199.8M170.4 199.8L173.7 193.3M203.5 211.7L187.0 206.0M189.0 206.7L189.2 203.0M224.0 211.0L207.3 205.7M209.4 206.4L209.4 202.7M244.5 209.7L228.1 203.5M228.1 203.5L228.6 196.2M265.0 208.0L248.7 201.6M248.7 201.6L249.2 194.3M250.7 202.4L251.0 198.8M15.0 219.6L28.4 208.3M28.4 208.3L34.6 212.3M36.0 223.5L48.5 211.3M48.5 211.3L54.9 214.7M57.0 227.0L71.4 217.1M71.4 217.1L77.2 221.6M78.0 229.9L94.0 222.7M94.0 222.7L98.8 228.2M99.0 232.3L116.2 229.2M116.2 229.2L119.6 235.7M120.0 234.1L137.3 236.8M137.3 236.8L138.4 244.0M141.0 235.4L124.8 228.9M124.8 228.9L125.4 221.6M162.0 236.2L145.4 230.7M145.4 230.7L145.5 223.4M183.0 236.5L198.0 227.5M198.0 227.5L203.5 232.4M204.0 236.2L186.9 232.7M186.9 232.7L186.1 225.4M225.0 235.4L208.7 229.1M208.7 229.1L209.2 221.8M246.0 234.1L230.5 226.1M230.5 226.1L231.7 218.9M267.0 232.3L252.1 223.2M252.1 223.2L253.8 216.0M11.0 243.2L25.8 233.9M25.8 233.9L31.4 238.6M32.5 247.4L47.0 237.6M47.0 237.6L52.7 242.1M54.0 251.0L68.6 241.3M68.6 241.3L74.3 246.0M75.5 254.1L90.4 244.9M90.4 244.9L95.9 249.7M97.0 256.6L113.0 249.6M113.0 249.6L117.8 255.1M118.5 258.5L132.9 248.5M132.9 248.5L138.7 253.1M140.0 259.9L123.6 253.7M123.6 253.7L124.0 246.4M226.0 259.9L208.8 256.4M208.8 256.4L208.1 249.1M247.5 258.5L232.0 250.3M232.0 250.3L233.4 243.1M269.0 256.6L254.1 247.4M254.1 247.4L255.9 240.3"/></defs><text x="10.4" y="24.8" font-size="20" font-weight="bold" textLength="295.5" lengthAdjust="spacingAndGlyphs">CSU 12-km WRF ensemble</text><text x="10.8" y="46.3" font-size="20" font-weight="bold" textLength="381.5" lengthAdjust="spacingAndGlyphs">precipitable water, 700-hPa winds</text><text x="1036.7" y="23.6" font-size="19.4" textLength="339.5" lengthAdjust="spacingAndGlyphs">initialized 0000 UTC Tue 13 Jan 2026</text><text x="963.6" y="44.7" font-size="19.4" textLength="412.6" lengthAdjust="spacingAndGlyphs">0-h forecast valid 0000 UTC Tue 13 Jan 2026</text><g transform="translate(71 81.2)"><g clip-path="url(#pc)" fill-rule="evenodd"><rect x="-2" y="-2" width="287" height="263" fill="#824b09"/><path fill="#995d13" d="M-2-2l288 0 0 264-288 0zM10 100l-1 4 2 2 3 0 3-2 0-2-3-2-2-1zM101 172l1 4 3 4 1 4 7 4 4 0-1-2-2-2-1-4-5-8-4-1zM159 178l-3 2 0 2 5 6 3 0-2-8zM125 190l1 2 1-2z"/><path fill="#ad7021" d="M-2-2l288 0 0 264-288 0 0-137 2 0 0-1-2-1 0-35 2-2 0-2-2-1zM10 80l-2 2 0 2 2 4 0 2-5 4 0 2-1 6 2 5 6 5 4 6 2 1 6 0 4-3 6 0 2-1 1-3-1-5-6-3-2-4-4-3-6-1-2-2-1-2 3-2 1-6-1-2-4-2zM62 110l-2 6 2 1 4-1 4 1 1-3-1-2-4-3zM150 157l2 3 0 1 1-3-1-1zM64 163l-6 3-2 2 3 12 1 3 10 2 2-1 0-6 2-1 4 0 3-1 1-2-4-4-2-3-6-1-4-3zM108 163l-4 3-4-2-6 2-6-2-3 2-1 4-1 2 2 2 3 1 6-2 2 1 0 2-1 4 0 2 5 4 1 4 3 2 6-1 4 1 7 4 5 1 8-5 6-2 6 1 2-1 4-5 3 1 3 5 2 1 18-2 2-2 0-4-12-2-4-6-4-3-2 1-4 2-4 0-4 6-2 1-14 1-10-2-7-8-1-6-2-4zM64 172l4 1 4 3-6 3-3-3 0-2z"/><path fill="#c28633" d="M-2-2l288 0 0 264-288 0 0-125 3-1 5-7 2-1 4 0 6-3 6 0 3 1 2 6-2 6 2 10 1 2 4 2 1-2-2-4 3-4 2-1 2 1 2 6 1 8 5 2 2 2 0 6-3 12 1 4 5 2 3 5 12 3 0 2 4 3 10 2 4-3 10-4 8 4 2 0 6-2 2 1 6 5 4 1 4-1 6-4 7 0 11-3 8 2 20-2 2-1 1-2 3-10 0-2-2-2-2 0-4 4-2 0-4-4-7-4-1-2 2-7 4-3 5 0 2-2-1-2-4-4-6-2-10 1-4-1-3-2 1-4-5-8-1-1-5-1-1-2 1-4-3-1-6 1 0-2-2-1-8 2-2 3-1 4 1 12 2 3 3-3 3-7 2 1 0 8-3 4-5 1-4 3-6-2-6 5-16 1-10-3-6 0-2-1-4-10 0-6-7-6 1-2 2-2 6-1 4 0 2-2 2-13 3-6 1-2-2-2-4-3-4-1-2 1-3 3-5 4-6 14-2 2-2-6 0-9-2-1-6 2-4-10-2-1-2-3 2-1 4 3 4-1 1-1-1-6 1-4-1-1-4 0-6 4-4 1-4-2-2-6-4-5-8-1-2 1-6 4-6-1zM154 140l-4 4 4 3 2 0 4-5 1-2-1-2zM29 190l-3 2-2 2 0 4 4 4 4 0 2-2 0-8-2-2zM42 195l-3 5 0 4 3 4 4 1 2-1-1-6-3-7zM-1 98l2 8-1 2-2-1 0-10zM-2 113l6-1 4 4 2 4-2 6-2-1-1-3-5-5-2-1zM34 121l0 1-1 0zM40 130l2-2 2 0 3 2 1 2-1 4-5 3-2-1zM142 147l2 1 1 2 3 14-1 2-1 1-6 2-2 0-6-3-2 1-1 3 0 2 5 6-2 1-2 0-5-3-2-6 3-11 2-4 4-3 2-3z"/><path fill="#cfa256" d="M-2-2l288 0 0 264-288 0 0-56 4-2 1-2-3-3-2 0 0-12 4 0 2 1-2 4 3 2 0 10 3 6 6-2 2-2 2-4 2-1 2 0 11 7-1 2-2 4 0 2 2 1 2 0 2-1 1-4 9 1 4-1 2-2 1-6 5-7 2 0 5 3 3 8 8 2 4 4 6-5 4-9 6-4 8 3 8-2 2 1 6 6 2 0 8-1 6-4 6 0 10-3 8 0 22-1 2-1 2-2 2-8 4-4 1-4-1-4-3-4 2-4 0-2-3-7-12-6-12-3 3-10-1-3-2-1-10-2-4 2-2-2-1-4-7-2-2-2-2-3-4-3 0-4 2-2-2-1-2 0-4 3-4 1-2 0-2-4-2 0-2 2-10 5-2 0-8-1-1 1 8 8 4 8 2 14 0 2-5 6-12 1-2-1-1-2 0-4-1-3-9-1-8-8 1-1 4 1 2-1 2-3 2-9 2-4 0-3 4-4 0-4-2-4-6-8-8-1-10 6-2-1-7-10 0-4-3-3-2-2-4 0-4 0-4 2-2-1 1-4-1-3-2-1-8-3-18 5-6 1zM137 108l1 1 0-1zM84 134l0 2 2 2 2 1 1-3-1-2-2-1zM8 222l-1 4 1 2 2 0 1-2zM18 129l4 0 2 1-2 8 2 6-1 6 3 7 9 1 9 3 2 2 1 3-3 6 1 6-1 4-2 4-4 2-8-1-8 2-3 1-3 4-2 1-7-3 0-2 3-4 0-4 0-2-4-5-2-5-2-1-4 1 0-28 7-2 4-6 5-2zM12 160l0 4 2 3 6-2 2-3-6-2zM138 154l2 0 2 1 0 3-2 1-4 0-1-1zM178 167l2 1-2 4-2 1-2-1 0-2z"/><path fill="#dcbc75" d="M-2-2l288 0 0 264-288 0 0-30 4-1 8 2 3 3 2 4 3 2 2-1 1-3-3-4 0-10-4-3-2-5 3-4 8-4 3 0 0 8 1 2 5 3 2 0 6-2 6 1 6-4 4-4 4-2 2 0 4 4 8-1 4 4 4 1 8-4 2-10 2-2 2-1 6 1 10-1 2 1 4 5 4 0 8-1 8-4 14-4 20-1 12 0 2-1 4-5 4-2 6 0 5 5 3 1 6-1 4 1 2-1 0-2-2-3-4 0-6-3-6-1-2-1-1-2 0-6 1-4 4-3 6-4 4 1 2-1 1-1-2-4 4-8 0-2-3 0-4 3-2 1-4 0-6 4-2 0-5-8-5-2-4-4-2 0-10 0-2-2 0-6-1-4-7-5-2-3-6-2-5-4-3-8-4-4-4-6-8-1-2-1-2-4-2-1-2 1 0 4-2 2-6 2-2 6-10 4-9-2-2-2-4-6 0-6-2-4-17-1-4-2-6-1-6-6-6-3-8-2-8-8-2-1-10-1-2 0-2 3-5 2-11 1zM99 64l-3 2 0 2 4 3 2 0 1-3-1-4zM126 102l0 1-1-1zM96 137l2 0 2 2 2 5-4 6-3 2-3 0-1-2 0-4zM13 140l5 1 2 3-2 10-10 1-6-1-4 4 0-13 12 0zM32 161l9 5-1 6 0 6-6 5-8 0-6 2-2 1-2-1-1-3-1-8zM-2 209l4 0 1 3-1 2-4 0z"/><path fill="#e7cf94" d="M-2-2l262 0 2 6 2 3 4 2 6 1 6 3 2 0 2-1 0-8 2-4 0-2 0 174-2 2 0 2 2 1 0 85-263 0 3-18 2-3 4 1 2-8-4-3-6-1-1-4 1-2 2-1 2 1 4 5 6-3 4 0 11-6 7-3 6 3 2 0 4-2 2 0 8 6 2 0 4-3 4 2 6 0 2 0 2-3 0-2-4-6 1-2 3-4 4-1 4 0 2 1 4 4 2 1 12-3 22-8 20-2 14 1 3-1 2-4 3-2 4 1 6 4 6 1 10-1 3-3 0-6 1-2 4-4 5-2 1-2-5-6-1-2 3-8 5-3 4 0 2 3-2 3 0 2 2 2 2 0 3-1-1-4 1-2 9-6 0-2-8-4-6-4-6-2-4-3-10 1-4 3-8 2-4-3-6 5-2-1-8-8-6 0-6-2-5-10-5-1-4-3-3-10-3-1-5 1-1-2 1-6-1-3-6 1-2-1-2-6-2-2-6 0-3-3-5-3-2-1-4 2-6 8-4 3-2-1-3-2-5-8 0-2 7-6 1-6 2-1 0-1 1-2-2-6 1-4-1-2-2-2-7-1-4 1-2 4-8 6-2 2 0 2 2 3 4 0 1 1 0 4 3 6-2 3-6-2-6-2-4 3-4 1-3-1-5-4-4 1-2-1-4-4-8-4-7-2-5-8-4-3-8 2-8-1-3 4-3 2-4 1-6-1zM141 88l-2 2 3 1 2-1 0-2zM199 118l-2 4 0 2 1 1 2-1 2-4-1-2zM174 126l0 1 1-1zM265 152l-4 4-1 4 1 2 7 4 1-2-1-4 3-6-2-2zM266 178l-2 2 1 2 3 3 1-1-1-4zM92 232l-1 2 3 1 2-3-2-1zM265-2l3 0 6 0-6 2zM224 151l2 0 4 1 1 0-1 2-2 2-4 1-1-3zM26 170l4-1 1 1-1 6-2 2-8 2-2-2 0-2 1-2zM218 172l6-4 2 1 2 1-1 2-3 2-4 0-7 2-3 6-4 0-3-2 0-4 3-3 4-2zM-2 241l10 5 2 2 4 1 2 1 0 2-2 3-6 2-1 5-9 0z"/><path fill="#f1dfb3" d="M-2-2l252 0 2 1 1 3-1 8 1 2 9 5 4-2 8 0 2 1 0 3-2 2-4 1 4 3 2 5 2 3 2 1 6-1 0 98-12 3-1 2 3 4-1 2-3 3-6 2-6 0-6-4-7 1-2-2-1-2-13-8-1-6-2-3-6 0-2-1-2-2-4-2-6 1-6-7-2 0-6 4-4-2-2 0-3 4-3 2-3 0-3-4-6 0-2-6-8-4 2-3 0-4-1-1-5-1-6-4-2-7-2-1-6-2-10 2-4-3-6 0-2-3 0-7-2-6-1-6-3-4-6-2-2-4-2 0-4 1-10 7 0 4-7 6-1 6-6 5-2 4-5-3-7-1-4-2-4-1-4-3-6-2-4-7-8-5-2 0-6 3-10-1-2 1-4 5-2 0-6-2zM263 44l1 1 2 0 1-1zM259 52l-1 2 2 2 6 1 1 3 2 2 5 0 1-2-1-2-6-5zM244 88l-9 10-1 2 2 2 6 1 4 2 4-3 4 1 8 0 3-3-1-6-2-2-6-2-2 0-2 3-2 0zM229 100l1 1 2-1-2-1zM206 101l0 1 1 0zM248 107l-4 5-1 2 9 4 4-4 0-2-4-5zM232 116l0 2 2-2zM252 118l-4 6 1 2 1 0 3 0 2-2 0-2zM148 95l2 1 0 2-2 1-1-1zM208 126l4 2 3 4 0 2-2 2-3 0-2-2-1-6zM279 140l3-2 4 1 0 8-4 0-1-1-2-4zM276 150l2 0 0 1-2 0zM276 157l2 0 4 0 0 1 0 4-4 3-2 0-2-3 0-2zM284 166l2-2 0 3zM256 167l2-1 4 1 2 3 0 2-2 2-6 1-4 3 0-4zM278 182l4 1 2 5 2 1 0 73-258 0 2-2 4 0 2-2 2-6-1-6 1-5 2-3 6-3 1-5 3-3 6 0 4-3 6 2 4 4 10 0 8 8 8 1 2-1 4-6 4-2 1-2 0-8-2-8 1-2 2 0 2 1 3 7-2 4 3 2 2 0 2 0 3-10 3-2 14-4 14-7 20-1 16 1 3-1 3-4 2 0 2 0 6 4 6 1 14-2-1 5 3 2 2 0 3-2 2-8 0-2-3-6 2-3 6-2 8 5 4-1 6-4 4 1 2 4-2 5-2 1-14 1-2 1-1 2 2 10 1 2 2 1 6-5 6 0 2 2 4 8 2 1 3-3 1-4 3-4 1-2-2-2-2 2-3-2 8-12 1-6zM-2 246l4 2 1 2 0 12-2 0-3-2z"/><path fill="#f6eacb" d="M-2-2l219 0 3 2 2 0 1-2 18 0 1 3 6 5 0 2 0 4 7 6 4 8 0 4 3 1 5-1 1 2-3 6-3 2-8 1-2 7-4-1-4-4-2-1-3 2 1 8-1 4 1 2 8 2 2 2-1 2-1 1-2 1-4-1-4-3-2-2-6-2-4-4-1 4 1 6-2 2-4 1-8-5-4 4 0 2 3 4 0 2-1 1-6-1-2 4 0 3 1 1 7 0 8 1 10-1 3-2 1-5 2-1 4 4 0 4-3 4-1 4-1 2-7 3-3 3 2 4 4 6-1 1-6-2-8 2-3-1 0-2 1-4 2-2 4-2 1-2-1-3-4-1-10 3-4 9-4 1-4 5-4-1-6 2-6 0-2-1-7-6-1-4 3-6-1-2-10 0-1-2 1-4-3-6-5-2-4 2-2-1-4-3-5-8 1-4 2-4-2-2-2 4-2 2-8 1-3-1-1-2 1-2 3-1 5-3 0-2-5-4-6 1-7-5 0-2 3-6 0-8-2 0-2 2-2 6-3 0-3-5-2-1-10 3-4 4-3-1-2-4-3-3-2 0-2 1 1 2-1 2-4-3-4 1-1 2 1 4 2 2 4 2 2 4 2 12-1 2-1 2-4 2-6-1-1 1 2 6-1 3-2 0-6-5-6 0-5-2-9-11-2-1-8 0-4 2-10-1-10 3-4-1zM76 36l0 1-2-1zM285 38l1 0 0 3-1-1zM94 42l2-1 4 0 2 1 0 2-2 2-6 2-4 4-1-2 3-2 0-4zM278 43l2-1 2 2 2 4 0 4-2 5-2 0-2-3zM256 64l10 3 4-2 4 0 7 3 5 3 0 37-3 2 3 3 0 14-2-1-4-5-2-2-2 1-2 4 3 2 1 2-6 0-2 2-2 4-4 2-4 0-6 1-2-2-1-3 3-2 4-1 2-7 2-2 10-6 4-1 2-1 4-14-4-1-6 0-2-3 6-4 1-2 0-10-2-4-5-2-1 2 3 8-4 5-3 1-3 0-2-2-1-4-1-1-6 1-2-3-2-5 2-3 6-2zM126 71l2 1 1 4 4 2 1 2-2 1-2-1-2-3-4-2 0-3zM262 109l2-1 1 2-1 1-2-1zM283 194l3-1 0 19-6-4-2-4 2-3 3-1 1-2zM196 200l2 0 6 4 8 0 17 6 3 2 4-1 4 4 4 2 4-1 5-4 3-1 2 1 2 4 0 6 2 1 10-1 4-3 4 0 1 1 1 6 2 2 2-1 0 35-245 0 0-4 0-4 2-4 4-4 1-6 5-6 7-4 2 0 6 3 8 1 5 4 7 3 8 1 3-2 5-4 6-1 6-2 5-5 4-12 2-2 13-5 8-5 6-2 16 0 20 1z"/><path fill="#f5f0e0" d="M-2-2l116 0 0 2 2 1 2-1 1-2 93 0 2 7 2 2 2 0 4-2 2-1 3-6 10 0-1 12-18 6-1 16-2 4 0 4-3 4 0 8-3 4-2 6-10 8-1 2 2 8-2 12 3 4 0 2-1 1-4 1-2 0-2-2 0-8-2-6-2-1-6 1-6 4-4-1-5-5-5-2-6-6 0-2 2-4-2-3-6-1-2-1-6-11-4-2-6-1-4-3 0-2 4-10 0-2-4-6-4-2-14-1-4-6-4 2-6-1-4 4-4 2-14 0-16 6-3 6 1 1 2-1 2 1 2 3-3 6 5 1 7 7-1 3-12 1-3 2 0 4-3 2-4-2-2-2-2-8-2-3-16 0-6 3-8 0-6-1-6 2zM232 17l4 0 2 1 0 7 2 0 1-1 1-2-1-4 3-1 2 1 6 6 0 2-3 6-1 6-10 0-2-2-2-6-4-2-2-4 2-6zM120 33l2 0 2 1-1 2-3 2-2-2zM286 86l0-2 0 3zM176 90l4 2 2 4 0 8-2 3-4-1-3-6 0-4zM154 204l26 0 12 1 6-1 6 4 8 0 14 5 4 3 4 1 10 9 2 1 2-1 2-3 2 0 3 3 3 1 14 1 4-1 4 3 1 4 5 1 0 27-206 0 2-2 6 0 2-1 0-3-2-3-2-1-14 6 0 4-29 0 1-4 1-4 6-6 1-7 6-6 2 0 2 0 4 3 6-1 12 5 4 5 6-1 10-6 10-3 6-3 10-19 2-1 8-2 8-6z"/><path fill="#f4f5f5" d="M-2-2l4 0 95 0-9 8 0 8-2 6-2 0-4-2-6 2-4-3-3-1-4 6-9 5-8 12-4-1-2 1-2 7-2 2-6-2-20 4-6-1-6 2 0-10 2-3 0-2-2-2zM123-2l4 0 5 2 2 8 4-2 3-8 9 0 0 8 2 1 4-5 0-4 54 0 0 7 3 5 0 4-6 6 0 6-3 3-4 3 2 2 4 0 2 1 1 3-2 6 1 4-4 5 0 7-4 4-6 3-2 7-2 2-14 0-6 3-8-1-1-2 0-2 5-4-6-4-3-6-7-4-2-6-2-2-4-2 0-4-2-2-2 1-4 5-2 0-1-2 1-4 6-8 0-2-4-8-18-2-5-4 3-7 8-3zM152 206l14-1 14 0 12 3 6 0 4 3 10 1 8 4 4 0 6 6 5 2 3 4 3 2 7 1 12-1 6 3 4 1 6 5 10-1 0 24-190 0 0-4-2-6 1-2 7-5 10-4 9-5 3-4 3-6 5-8 10-5 6-6zM56 243l4-1 12 2 4-1 5 1-1 2-4 1-2 4-6 3-1 2 0 6-21 0 2-6 1-2 3-1 4 1 2-2-3-6z"/><path fill="#e2f0ee" d="M-2-2l4 0 86 0-1 2-5 4-2 4-6-1-2 3-6 3-4 4-9 5-5 10-2 2-2 0-12-4-6 1-2 1-1 2 1 4-1 4-1 1-6-2-6 3-5-6-1-8-6 0zM162-2l6 0 6 4 8 1 2-1 2-4 21 0-1 8-4 4-2 6-3 6-2 8 0 2 3 6-2 12-2 3-4 2 0 7-1 2-3 2-10 1-6-1-4-2 3-6-9-2-4-4-1-6-2-4 2-4-1-2-3-2-1-2 2-4-2-2-4 2-1-2 7-2 8 0 4 3 1-1-2-8 0-8-1-2-3-2 0-4zM170 30l0 2 2 0 0-2zM118 13l2 0 0 1-2 1zM164 206l20 1 18 7 10 0 7 4 3 4 16 10 8 2 14 0 8 4 4 5 2 1 12-3 0 21-185 0-3-8 0-2 2-2 14-6 4-4 4-2 2-2 5-10 5-7 8-5 8-6 4-1zM62 260l0 1-2-1z"/><path fill="#ceece8" d="M-2-2l71 0 0 2-1 8-2 2-6 4-10 1-6 5-4 7-2 1-6-2-4 1-8 1-6-2-4 1-6-2-6 2zM193-2l3 0 1 0-3 1zM189 4l5-3 3 3 0 8-1 3-2 1-5-10zM168 6l2 1 0 1-2 1zM184 19l4 0 4 3 1 2-1 3-5 7-2 6-1 1-2 1-2-4-2-12 1-4zM162 32l11 10-1 1-4 0-4 1-1 2 5 3 6 0 0 3-4-1-6 1-3-2-3-8 2-8zM188 46l4-2 1 2-1 3-4 2-2-1 0-2zM176 58l2 1 1 1-3 1zM160 208l6-1 18 2 4 1 6 4 8 2 10 1 4 3 2 7 2 2 4-2 14 8 6 1 8 0 10 2 4 2 5 10 0 4 0 8-165 0-3-4 0-4 2-2 9-4 10-8 3-4 5-12 3-4 13-9zM284 245l2 0 0 6-3-1-1-2zM284 262l2-2 0 2z"/><path fill="#b4e2db" d="M-2-2l62 0-1 6 3 4-14 4-10 11-6-1-6 3-22-3-6 1zM158 210l8-2 10 2 8 0 10 7 8 2 6 0 2 1-2 4 4 1 6 6 2 1 6-1 8 5 8 3 8-1 8 3 4 0 2 2 4 9 0 10-151 0-3-4-5-2 8-8 5-2 4-4 3-4 5-14 2-3 12-8z"/><path fill="#98d7cd" d="M-2-2l56 0 0 4-1 2-5 4-12 11-4 0-6 2-16-2-12 2zM164 210l4 0 6 2 8 0 9 8 9 2 6 7 6 1 8 4 6 0 12 7 4 3 2 0 4-2 2 0 10 4 2 2 4 14-147 0-2-6 0-4 3-2 4-2 7-8 4-8 1-8 4-4 8-4zM162 237l-2 3 2 1 3-1-1-2z"/><path fill="#79c8bc" d="M-2-2l40 0 5 4 1 4-1 2-9 7-8 3-10 0-6-1-12 1zM164 212l4 0 6 2 6 0 3 2 1 7 2 1 10 1 10 8 8 1 6 3 6 0 6 4 5 3 3 7 6 0 4-4 2 1 0 2-1 8-3 1-6 0-1 3-119 0-2-8 16-12 0-4 2-6 0-6 2-2 3-2 6-2 11-7zM160 230l-5 6-3 2 0 2 4 4 6 2 8 0 2-1 3-7-1-4-2-1-4 0-4-4zM238 252l0 1 1-1z"/><path fill="#58b0a7" d="M-2-2l38 0 4 6 0 2-6 6-8 3-10 1-6-2-12 2zM162 214l4-1 6 2 6 1 2 2 0 8 20 9 8 2 6 1 4 2 6-1 2 1 8 6 0 10 4 6-57 0-4-10 1-8 1-6 0-4-3-4-6-5-13-3 0-2 1-2zM148 227l2 0 1 5-5 0-3 8 1 2 6 1 4 4 6 3 3 4-1 4-3 4-35 0 0-4 0-2 6-5 6-1 5-4 3-4-2 0-2-2-1-4 3-4 4-2z"/><path fill="#3b9b93" d="M-2-2l36 0 3 6 0 2-5 4-8 3-8 0-10-3-2 1-2 2-4 1zM164 216l2 0 4 1 6 1 2 2-1 2-3 2-6-3-4 0-2-1 0-2zM186 235l4 1 4 5 4 0 8 0 20 3 5 4 0 8 3 6-44 0-2-6-4-2-1-2 2-4-3-6 2-5zM154 252l2 0 2 2 0 2-3 6-17 0-2-2 0-2 3-2 3 0 6 1 3-1zM130 257l3 1 0 2-3 0-1-2z"/><path fill="#23867e" d="M4-2l1 2-1 0zM9-2l22 0 3 6-2 3-10 1-7 2-3-2 0-2 2-4zM-2 8l1 2-1 2zM204 246l6 0 8 0 9 4 1 2 0 4 1 6-27 0-2-4-5-4-2-2 0-2 3-2z"/><path fill="#0c7169" d="M24-2l2 1 2 3-2 0-2-2zM208 249l10 0 4 2 2 3 0 8-16 0-3-4-1-4 2-4z"/><path fill="#015f56" d="M216 256l4-1 1 1-1 6-7 0 0-4z"/><use href="#st"/><use href="#bb"/><circle cx="21" cy="73.5" r="2.6" fill="none" stroke="#000" stroke-width="1.2"/><circle cx="11" cy="220" r="2.6" fill="none" stroke="#000" stroke-width="1.2"/><circle cx="97" cy="232" r="2.6" fill="none" stroke="#000" stroke-width="1.2"/></g><rect x="0.5" y="0.3" width="283" height="258.6" fill="none" stroke="#333" stroke-width="1.5"/><path d="M138 106h6M141 103v6" stroke="#444" stroke-width="1.4"/></g><text x="213" y="74.2" font-size="18.4" text-anchor="middle" textLength="86.5" lengthAdjust="spacingAndGlyphs">NCEP GFS</text><g transform="translate(551 81.2)"><g clip-path="url(#pc)" fill-rule="evenodd"><rect x="-2" y="-2" width="287" height="263" fill="#824b09"/><path fill="#995d13" d="M-2-2l288 0 0 264-288 0zM134 182l-2 2 1 2 3 2 1-2-1-4zM146 181l-2 1 2 2 1-2zM115 186l-4 2 0 2 3 1 3-1 1-2 0-2zM156 186l2 2 3 0-1-2-2-1-2 0zM144 187l-1 3 1 1 2-1z"/><path fill="#ad7021" d="M-2-2l288 0 0 264-288 0zM128 168l-2 9-8 4-4 1-8-4-6 2-2 4 1 2 3 0 2 2 0 2-3 4 1 1 14 0 2-1 4-4 6 4 6-2 10 2 10-1 4 1 10-3 6-5-12-5-12-3-18-11zM187 182l-12 4 2 2 3 1 14 3 2 0 2-2 0-4-2-3-4-2z"/><path fill="#c28633" d="M-2-2l288 0 0 264-288 0zM28 86l-1 6 5 2 2 0 1-2-2-4-3-3zM14 94l-3 4 1 2 2-1 2-3zM21 94l0 2 1 1 2 0 1-1 0-2-1-1zM114 110l-2 2 1 2 3 6 0 6 5 6 1 4 2 2 4 1 0-3-3-4-1-4 2-6 0-2-4-3-4-6zM63 154l-5 1-1 1-2 8 1 1 8 3 6-3 5-1 1-4-2-2-6-2-2-3zM120 164l-2 1-6 6-8 2-4 2-4 1-8 3-1 1 1 8 2 2 4 0 2 1 0 7 4 1 6-1 8 0 8-2 6 1 8-2 8 1 14 1 16-5 12 1 10 2 2-1 3-4-1-10-2-2-5-2 1-4-2-3-4 3-3 6-7 2-12-2-4-2-8-2-6-5-8 0-8-5z"/><path fill="#cfa256" d="M-2-2l288 0 0 264-288 0 0-65 1-1-1-1 0-30 2-1 1-4 5-4 0-2-8-4 0-47 12 1 2 2-2 4 0 1 2 0 2-1 2 1 10 7 0 2 0-2 2-1 3-5 1-5 6-7 4-3 2-5 5-4 1-2-8-3-6 1-1-2 1-4-2-3-2 0-8 4-8 1 0 2 2 4-1 2-7 0-2 6-4 6-2 1-4-5zM12 71l-3 5 1 2 2 2 2 0 1-4-1-4zM53 82l-1 2 2 1 2-1 1-2zM69 92l0 4 1 2 2-1 0-3 0-2-2-1zM58 99l-5 3 1 1 2 1 3 0 1-2 0-2zM108 103l-1 5 4 10 1 8 4 10 0 6-1 2-1 1-8 0-5 3-2 8 2 6 0 8-3 2-6 1-4-1-2-2 0-2 2-2 2-1 4 2 2-1-1-6 1-6-2-2-6-1-6 4-5-1-2-2 1-2 4-3 7-3 1-4 2-4 1-2-2-4 3-6-1-4 1-4-2-3-6 0-8-4-2 0-1 3 3 4 4 2 1 2-1 1-2 2-2 0-8-3-3 2 1 2 7 6 1 3 2 1-1 4-5 6-9 2 0 2-1 3-4-1 0-2 1-2-1-1-4-1-2 2 0 2 3 2 1 8-2 6 1 4 1 2 5 2 3 5 2 1 2-1 4-6 2-1 10 4 0 4 3 10 5 6 1 6 7 2 18-1 6-3 8 1 6-2 24 1 18-3 8-1 10 2 4-1 3-3 5-8 1-4-2-2-9-7-1-9-3-3-2 0-2 1-8 9-2-1-2-4-2-2 0 6-2 2-4 1-10 0-4-5-6-1-8 1-4-2 0-2 4-3 2-5 4-5 4-2 2 3-2 6 2 2 3-2-2-4 2-2 6-2-5-3-6 1-2-3-8-5-8-2-1-2 1-8-2-6-1-2-8-6-5-5-6-1zM26 120l-6 4 0 2 4 2 4 4 2 0 1-2 0-2-3-6zM32 144l-1 2 3 12-1 6 1 1 2 0 3-1 1-2-1-4-3-6 2-8-2-2zM176 155l0 3 0 1 1-1zM51 188l0 2 3 2 2 5 2 1 2 0 1-2-1-4-5-4zM33 196l0 2 1 1 2 0 1-1-1-2zM23 224l-3 2 0 2 2 2 4-1 2-3-1-2zM126 152l4 0 3 2-1 6-6 0-7-2 3-5zM106 154l2-2 2 1 8 5 0 2-6 5-2 0-3-5-1-4z"/><path fill="#dcbc75" d="M-2-2l288 0 0 6-2 0-1 2 1 2 2 0 0 254-288 0 0-17 2-3 1-4 3-3 2 0 2 5 2 2 7-2 2-4 5-2 9-8 1-8-1-2-3 0-6 4-7 2-5 6-2 0-8-1-4-2 0-23 6-4 14 1 6-6 2 0 1 3 0 4 1 2 3 2 3 3 4 2 8 0 1-1 0-2-4-4-2-6-4-4 0-2 1-1 2 1 4 3 4 5 4 0 12 7 6 1 6-6 2 0 6 3 16 2 16-2 6-2 6 1 8-2 14-1 10 1 24-4 12 2 9-4 10-10-1-4-2-4-10-6-3-10-3-4-1-4-3-2-10-4-4 2-2 0-4-5-7-1-9-10-4 0-4 1-8-1-2-2-1-10-5-6-1-2 1-1 6-1 1 2 0 4 4 4 3 1 4-9-2-2-6-2 1-4 2-4 0-2-3-2-4-2-8 6-4 0-6 2-4 0-2-1-2-3-6 0-6 12 2 2 4 3 2 3 1 4 0 6-1 3-6 1-1 2 3 4-4 4-2 1-5-13 1-2 6-5 0-3-4-4-1-4-3-3-4-2-6 1-5-4 2-6-3-8-7-6-4-8-1-4 2-4 0-2-2 0-2 6-4 3-10 3-3-4-5 0-6-5-6-1-4-8-12-6-6 2-4-1-4 2zM101 60l-1 2 0 6-2 4 4 4 8 4 4 0 4-10-2-6-12-5zM-2 73l5 5 2 4-3 5-4 1zM48 107l14 3-6 7 0 7 1 2 9 4 0 2-2 5-2 1-2-1-6-6-2-1-6 6-2 0-2-2 1-2 3-4-1-2-1-1-4-1 0-2 2-3 4-3 0-6zM-2 109l6 2 6 5 2 8 3 4 5 4-5 6-2 8-9 5-4-2-2-2zM22 137l2 0 1 3-1 5-2 1-3-2zM23 156l3 0 1 2-2 0zM10 160l4 1 7 13 7 6 0 4-2 3-6 1-4-1 0-3 1-4 0-2-9-2-1-2-3-6 0-2 2-4zM36 170l2 1 2 3-2 1-3-1-1-2zM78 182l2 2 1 6 1 2-2 1-4-2-7 1 0-2 4-6 3-2z"/><path fill="#e7cf94" d="M-2-2l269 0 1 3 4 2-1-5 8 0-1 2-5 4 1 2 2 3 9 5 1 1-4 5 1 2 3 2 0 180-3 2-2 4 1 1 4 1 0 50-260 0-4-12 2-4 4-4-2-6 4-4 22-20 1-2-3-6 2-1 3 1 1 2-1 4 1 2 2 1 2 0 6-3 8 1 10-4 4 0 4 3 16-5 42-5 10 1 24-3 8 2 6-1 8-3 12-8 1-4 0-4 1-4-2-4 1-6 0-6-1-4-2 0-4 2-7-6-13-5-4-3-4-5-2-1-8 0-3-6-3-1-4 1-6-5-7-1 2-8 5-4 0-6 4-1 8-1 6 2 2 0 1-4-1-4-2-3-6 1-4 3-6-6-2 0-2 2-10-2-8-5-2 1-4 3-2 0-6-3-2 1 0 4-2 1-2-1 2-4-2-2-2 0-16 5-8-3-4-2-6-1-2-2-2-3-6-3-4-7 0-2 3-6-1-5-2-1-2 0-5 4-2 2-1 4-2 1-4-3-6 2-4-1-2-1-2-5-6-1-6-6-8-1-6-4-14 0zM260 0l0 5 2 1 1 4 4 2 3 0 1-2-3-3-4-2-2-5zM256 9l-2 3 2 2 2-2zM255 42l0 2 0 2 3 2 2 0 1-4 0-2-3-2zM103 56l-3 1-3 3-2 8-4 4 0 2 7 2 6 4 6 7 6 0 2-1 2-10 3-4 0-2-2-6-2-2-7-3-6-3zM240 64l2 1 1-1-1-1zM233 74l1 2 2 1 1-3-1-1-2 0zM236 80l-5 4 0 4 3 3 4 1 1-2 1-6zM245 100l-1 2 4 2 2 0 1-2 0-2-1-1zM236 128l-4 2-3 4 1 4 2 1 2-3 2-6zM228 144l-1 4 3 2 2 0 3-4-1-2-2-1-2-1zM257 152l-1 6 2 2 4-2 1-2 0-2-1-3-2-1zM241 178l-5 1-2 3 1 6-1 4 2 2 2 0 3-2-2-6 4-6zM269 212l1 1 2-1-2-1zM-2 78l1 2-1 3zM0 116l2-1 5 3 4 14 0 6-1 4-3 4-3 2-2 0-4-5 0-23zM8 207l11 1 2 4 1 2-1 2-7 1-4 5-2 1-2-1-2-4-2 2-4 2 0-13 6 1zM4 248l2 5 6-1 2-4 2-1 2 3-1 6-6 6-13 0 0-12z"/><path fill="#f1dfb3" d="M-2-2l257 0-11 20 0 2 0 2 2 1 12 0 6 2 1-1 0-6 5 0 5 2 1 4 10 4 0 34-7 2-2 2-3 5-6 3 0 2 4 4 1 4-3 4-4 1-7 7 7 4 2-1 4-6 6 0 6-2 2 1 0 34-3 2-1 4 1 2 3 1 0 11-2-1-1 1 0 2 3 1 0 9-8-1-2 1-2 3-2 0-2-1-1-2 1-2 6-3 4-3-1-8-3-4-8 4-8-2-2 1-4 4-8 1-2-2 0-6-4-4 0-2 2-6-1-2-5-2-3 0-3 2-4 0-4 3-8 3 2 6-4 4-6 1-6 5-6-1-3-5 2-6 3-3 5-1-1-8 1-4 7-6 2-2-1-6-3-5-2-1-6 0-4-2-6-1-10-7-6 6-2 0-2-2-1-6-3-2-5 2-7 5-4 1-2 0-4-5-2 0-6 0-4 2-2-1-4-2-1-2 1-3 2-1 4-6 8 4 3-4-1-3-4-5-2-1-4 4-2-2-2-5-2-2-10-2-6-4-4-1-8 2-6 0-4-5-2-1-4 4-2 1-8-3-8 2-2 6-4-2-2 1-5 6-3 2-2-1-4-5-4-2-4-4-8-4-6 0-10-4-10 2zM242 8l2 3 1-1-1-3zM255 36l-3 4-6 4 1 6-2 4-7 6-14 4-3 6-1 6-1 2-5 3-5 11 3 1 14-5 4 6 4 2 1 2-2 2 0 2 8 10 9 4 8-4-2-4-1-4 1-6 2-2-4-3-6 2-2-1-3-6 2-4 0-2-3-2-1-2 1-2 3-2 1-6 4-6 4 0 2 0 4 5 2-1 1-4-1-6 2-4 2-1 4 1 2-2-8-11-6-3zM226 118l-1 2 1 4 2 0 3-4-1-2zM274 134l2 2 0 1 0-3-2-1zM84 59l1 1-1 0zM286 73l0 17-2 0-2-1-2-5zM94 80l2-1 2 0 4 3 1 2 0 2-1 3-2 0-6-5-1-2zM84 82l2 1 1 1-3 1-1-1zM164 112l7 0 5 4 4 1 3 7-1 6 0-2-2-2-6 2-10 0-1-2-1-8 1-4zM2 121l2-1 2 3 3 9-1 8-2 4-2 2-2 0-2-2-2-6 0-12 1-2zM223 140l1 0 0 1zM230 158l2-1 4 0 6 4 8 2 4 2 2 0 6-2 2 1 2 3 3 1 1 2 1 6-2 4 0 6 1 2 2 1 4 0 10-6 0 8-7 3-3 3-6-1-8 1-2-1-4-5-4-2-3-3 0-4 4-6-1-2-2-2-8-2-6 3-4 5-1 4 0 6-3 6 4 3 8 1 6 3 4-1 2-3 2-1 2 2-1 6 2 4 5 4 4 6 2 2 4-1 2 3 4 1 2 1 4 6 2 1 0 31-255 0-4-8-1-4 4-3 1-3 1-4 0-4 1-2 4-4 5-3 6-6 6-4 6 0 8-3 8 0 6-3 2-1 4 3 4 0 16-6 14-2 14-1 14-3 10 1 8-1 8 1 8-2 6 1 14-2 6-2 5-1 5-4 5-8 1-10-2-10 1-2 3-2zM262 182l0 2 1-2zM276 164l4 0 3 4-1 1-5-1-1-2zM283 170l3-1 0 4zM276 200l2-1 2 1 1 2-3 5-2 0-1-3z"/><path fill="#f6eacb" d="M-2-2l88 0 2 8 10 2 4-2 0-4-6 0-1-4 133 0 0 2 2 2 6 4 0 3-2 0-1 1 0 2 0 2 3-1 2 1 1 2-5 8-5 2 1 4-1 2-3 2-1 2 3 6 0 3 1-3 3-2 2 0 7 8 1 2-1 2-4 4-3 1-4-1-2-5-2 0-2 2-3 9-5 7-9 19-5 5-2 0-7-3-3-2-6-2-4-5-8 2-8-3-8 3-6 0-4-4-2-3 2-10 0-2-1-2-13-7-10 1-4 0-4-2-5-4-1-2-1-6 0-6-5-2-4 0-2 2 0 2 5 6 0 4-1 2-6 1-4-2-6-5-8 0-8-3-4 0-2-6-2-2-2 1-2 4 0 6-2 4-1 6-5 6-2 0-4-9-4 1-3-4-7-4-10 3-8-4-12 1zM258 28l2 0 1 2 0 2-3 0-1-2zM270 32l1 2-1 1-1-1zM246 33l2 1-1 2-1 0-1-2zM284 34l2-1 0 5-2 0-1-2zM254 70l1 2 0 2-1 1-2-3zM258 78l2-1 4 3 0 2-4 4-3-6zM286 81l0 1 0 1 0-1zM216 101l2 3-2 2-2-1 0-1 0-2zM222 101l4 0 2 2 0 3-2 3-6-5zM274 103l4-1 5 8 3 3 0 11-4 0-4-4-1 2 1 6-2 1-6-1-2 1 0 3 0 4 0 2-4 0-6-2-2 0-4 4-2-1-1-3 3-8 0-2-2-3-6-3 8 0 8-2 3-6-1-6 2-1 8 0zM218 110l6 1 1 1-1 2-2 1-4-1-1-2zM206 119l2-1 2 1 0 3-2 2-2-1-1-1zM2 124l2 0 3 6 0 10-3 4-2 0-3-6 1-11zM200 136l3 0 0 2-3 1zM216 199l6-2 10 4 10 2 8 7 2 8 2 2 8 3 6 8 2 1 6-3 6 6 4 1 0 26-251 0-1-3-3-5-1-2 8-20 6-3 4-5 6-3 10-3 5 0 7 3 4 5 2 0 4-1 4-8 10-4 8-4 28-3 16-4 8 1 8-1 8 2 6-1 8 0 16-2 4-2z"/><path fill="#f5f0e0" d="M-2-2l86 0 0 8 2 3 10 5 4-2 4 0 6 4 2-1 2-3-2-2-4-2-1-2 1-2 6-6 36 0 2 1 3-1 56 0 0 4 1 2 6 4 3 0-3 2-4 8-3 4 2 4 0 4-1 3-2 1-1 2 1 3 9 9 1 4-2 3-3 3-1 2 1 4-1 2-2 5-3 3-2 6-5 3-2 3-4 0-4-3-6-1-4-7-2 0-8 3-6-3-6-2-2 1-3 4-3 1-3-3 0-12-1-5-6-3-3-2-5-2-14 0-6-3-4-5 0-8-1-2-5-4-1-6-7-5-3 3 0 6-1 2-6 7-6 4-4-1-6-6-4 0-6-3-2 0-2 1-4 10-10 3-6-1-6-4-12 3-6-3-10 1-4 0zM155 6l1 2 1-2-1-1zM214 33l4 2 1 3 0 2-5-1-2-1 0-4zM90 41l3 3 1 2-2 1-3-3-1-2zM270 120l0 2-2 0 1-2zM258 124l4-1 2 1-1 6-1 2-4-1-1-1-1-4zM2 127l2 0 2 5-1 6-1 3-2 0-1-3zM188 205l34-5 6 4 10 2 2 1 2 6 6 1 2 6 1 2 12 10 5 6 4 2 2-1 2-3 2 0 4 4 4 0 0 17-4-3-2 1-4 7-239 0 0-4-2-6 0-2 4-14 2-2 3-1 4-6 4-2 10-3 4 0 4 3 4 2 4 4 2 1 9-2 2-2 0-6 1-2 8-3 6-5 2-1 28-4 16-4 8 1 8-1 10 2z"/><path fill="#f4f5f5" d="M-2-2l82 0-1 4 1 4 4 6 6 2 1 2 0 2-3 6-3 2 1 4-1 2-5 5-2 0-1-1-3-6-2-1-14-1-5 2-3 4-6 6-4 2-2 0-5-4-3-1-12 2-6-1-14 1zM121-2l22 0 3 2 2 2 1 2-1 2-4 4-4 5-2 0-2 1 2 1 8-1 4 1 3-3 5-2 10-14 28 0 2 1 2-1 7 0-3 8 0 4 6 3-1 3-3 1-4-2-8 1 0 2 4 5 5 1 3 2 0 3-3 3 0 4 6 10 1 4 4 0 2 1 0 1-8 8 3 4-1 3-2 2-4-1 0-2 1-4-2-2-3-2-6 10 2 3 3 1 0 2-11 3-2-3-4-2-10 2-3-2-2-4-13-3-1-5 5-6 2-4 0-16-2-2-2 0-2 4-4 4-2 4-4 4-8 1-6-1-6 1-8-3-2-2-2-14-3-4 0-4 13-10 2 0 4 0 4-2 0-2-3-2-5-2-2 0-4 4-3-2 1-2 4-1zM142 24l-5 4 1 2 4 5 6-1 5-4-4-4-5-3zM188 207l24-4 6 0 8 4 7 1 3 2 4 6 6 3 2 3 4 4 1 2 0 6 0 2 4 2 1 2-1 4 1 2 10 5 4 0 2 0 2 3 0 2-2 3-4 1-4-2-2 1-1 3-224 0 1-6-2-6 0-4 4-7 4-4 3-5 3-2 10-1 16 8 18 1 3 2 1 2-2 6 2 2 2 0 2-1 2-3-1-2-3-4 1-2 2-2 6-2 0-2-5-2-8-1-2-3 0-2 8-4 4-4 12-2 5-2 21-3 6-2 8 0 8 0 10 2z"/><path fill="#e2f0ee" d="M-2-2l76 0 1 4-2 4 0 4-4 6-1 6-2 2-4 1-6-2-2 1-8 4-6 8-2 0-4-3-2 0-14 3-4 0-14 0-2 0zM128-2l4 0 0 2-2 1zM171-2l13 0 2 2 1-2 5 0 1 2 3 3 3 1-1 4-8 6-3 6 0 6 7 12 0 6 2 8-4 5 0 5-2 2-6 5-8 2-3-1-1-7-7-3 0-8-1-6 2-12 0-2-2-2-8-6 1-2 5-2 3-10 4-4zM86 18l0 1-1-1zM122 19l2 0 2 1 6 10 7 8 0 2-1 3-4 1-10 2-4-2-1-2-3-8 4-6 1-6zM202 46l0-2 2 2zM152 206l10 1 6-1 14 2 8 0 12-2 12-1 4 1 6 5 4-1 4 0 6 7 6 4 6 7-1 8 2 6-3 6 0 1 2 1 6 0 3 2 2 2 0 8-159 0 0-3-2 0-2 3-57 0 2-6-3-6 1-4 7-8 4-7 6 1 20 6 6 0 8 3 1 1 0 6 5 5 4 2 5-3 1-1 0-7 2-6 9-6-1-4-4-6 0-4 2-2 6-1 4-2 8-3 12-2z"/><path fill="#ceece8" d="M-2-2l64 0 4 12-1 8-1 2-2 1-9-1-5 2-6 4-10 2-6 3-10 2-8 1-10-1zM174-2l4 0 2 4-2 2-4-3zM170 13l2-1 4 2 1 2 0 2-1 3-4 0-4-3 0-3zM124 32l2-2 2 2 5 4 0 2-1 1-8-5zM188 37l2 1 0 2-2 4 3 6-5 4 1 6-1 2-4 2-2 0-9-6-1-2-1-10 1-4 2-3 2 1 2 3 4 1 6-4zM152 208l18 0 12 2 26-3 8 1 2 2 2 4 2 2 2 0 6-3 2 1 4 4 5 4 5 8-1 4 0 8-1 8 5 6 2 6-143 0 1-2 4-2 1-2 0-4-3-6 1-2 7-2 4-8 0-4-4-6 0-4 2-2 13-6 12-2zM54 236l4-1 6 2 6 1 8 3 8 1 2 2 1 6 3 4-1 8-49 0 4-8-1-6 0-2 3-4z"/><path fill="#b4e2db" d="M-2-2l60 0 1 4 0 6 2 6-1 2-12 3-6 3-12 3-16 6-4 0-6-2-6 0zM176 48l2 2 0 6-2-1-2-3 0-2zM152 209l16 1 14 2 26-2 2 0 6 6 10 7 4-5 2 1 7 5 3 6 0 8-2 12 1 4 5 4 0 2-5 2-118 0-4-6 0-6 4-6 5-12-4-8-1-2 11-8zM58 240l4 2 8-2 8 4 4 0 2 2 4 10 0 6-22 0-6-2-2-2 0-2 3-6 0-2-1-2-4 0-2-2 2-4z"/><path fill="#98d7cd" d="M-2-2l58 0 0 6-3 10-1 1-6 1-6 3-10 3-14 6-4 0-6-2-4 0-4-2zM150 212l10-1 16 2 7 3 3 6 2 1 2-1-1-4 0-2 13-4 6 0 18 17 4 2 6-1 2 2 0 6-4 6 2 10-1 8-105 0-4-6-1-6 4-12 4-4-1-4-2-4 0-4 3-4 3-3zM68 244l2-1 2 1 3 6-3 4-4 2-2 0-1-2 2-8z"/><path fill="#79c8bc" d="M-2-2l4 0 51 0-1 8-4 4-7 6-25 9-2 0-4-4-8 1-4-2zM142 216l18-4 6 1 10 3 2 2 2 8 2 2 6 0 2 0 3-2 3-7 3-3 5-2 2 1 9 7 11 11 6 3-1 10 2 10-1 6-94 0 0-4-4-4-4-2 0-2 6-14-2-12 2-4zM169 226l-1 2 1 2 1 1 3-1 0-2-1-2zM207 230l1 0 2 0-2-1zM177 232l1 1 1-1-1-1zM168 236l0 2 2 2 2-2-2-3z"/><path fill="#58b0a7" d="M0-2l43 0 3 8-8 8-20 8-2-1-4-4-14 0 0-18zM160 214l4 0 3 2 1 2-1 4-3 5-2 1-6-1-8 3 0 2 4 4 1 2-1 3-6 0-2 3 2 4 16-5 6 2 8-2 6 1 6-4 2 0 2 4 2 1 1-1 0-2-3-2-2 0-1-4 3-4 6-2 4 4 8 4 10-1 6 3 1 2 1 10 2 4-1 6-85 0-1-4-4-4-2-4 0-4 2-8-1-8 3-4 0-4 3-4 4-1 6 0z"/><path fill="#3b9b93" d="M3-2l36 0 2 8-2 4-3 2-6 2-8 4-4-1-2-3-2-1-6 0-10 0 0-5 2-2zM160 216l3 0 2 2-1 4-2 2-2 0-3-2 0-4zM148 220l2 2 0 1-2 0-1-1zM202 242l2-1 4 2 12-2 3 1 1 2 2 6 1 8-1 4-27 0 0-6 5-4 1-2-1-3-2-1zM163 250l13-4 12 2 6 2 2 2 0 4-4 6-35 0 1-4z"/><path fill="#23867e" d="M9-2l26 0 3 6 0 2-2 3-2 1-12 3-8-6zM210 246l8-1 4 2 2 5 0 6-1 4-14 0-2-4 1-2 1-8zM172 250l4 1 6 5 4-2 2 0 1 2-1 6-22 0 0-9 2-2z"/><path fill="#0c7169" d="M17 2l2-4 4 0 3 3 4 1 2 2-2 2-4 2-4 0-5-4zM214 248l4 0 3 2 1 4-2 4-2 2-2-1-4-7 0-2zM174 256l8 4 2 2-14 0 2-6z"/><use href="#st"/><use href="#bn"/><circle cx="140" cy="198.5" r="2.6" fill="none" stroke="#000" stroke-width="1.2"/><circle cx="183" cy="197.5" r="2.6" fill="none" stroke="#000" stroke-width="1.2"/><circle cx="11" cy="220" r="2.6" fill="none" stroke="#000" stroke-width="1.2"/></g><rect x="0.5" y="0.3" width="283" height="258.6" fill="none" stroke="#333" stroke-width="1.5"/><path d="M138 106h6M141 103v6" stroke="#444" stroke-width="1.4"/></g><text x="693" y="74.2" font-size="18.4" text-anchor="middle" textLength="91.5" lengthAdjust="spacingAndGlyphs">NCEP NAM</text><g transform="translate(1032 81.2)"><g clip-path="url(#pc)" fill-rule="evenodd"><rect x="-2" y="-2" width="287" height="263" fill="#824b09"/><path fill="#995d13" d="M-2-2l288 0 0 264-288 0zM136 174l-1 2 3 3 2 1 2-2-1-2-2-2z"/><path fill="#ad7021" d="M-2-2l288 0 0 264-288 0zM13 100l-5 4-3 4 0 4 1 2 2 1 5-3 9-8 0-2-4-2-2-1zM128 133l-3 5 1 5 3-1 2-4-1-3zM109 142l3 1 2-1-2-1zM99 146l-5 2-2 4 0 2 4 2 2-1 3-5 0-2zM70 157l-6 3-10 1-1 1 0 2 3 3 6 2 12-2 6-3 8 3 2 0 2-1 0-3-4-2-4 0-3 1-1 2-1-2-5-4zM131 170l-3 3-6 0-1 1 5 4 3 6 5 3 12 1 10 3 4 0 6-2 10-5 4-8-2 0-4 3-10 0-6 1-2 0-6-4-4-1-6-4-6-2zM101 176l-1 2 2 4 2-1 1-3-1-2zM114 178l-1 4 1 3 6-2 0-3-2-2z"/><path fill="#c28633" d="M-2-2l288 0 0 264-288 0 0-146 2 0 1 2 1 5 4 0 8 3 2-2 0-6 2-4 2-3 6-5 3-4 5-2 0-4 0-2-6-1-2 1-2 2-2 2-6-2-4 0-10 8-4-1 0-15 0 2 2 3 3-1 3-4 0-2-2-2-4 0-2-6zM119 128l-5 7-8 0-6 7-8 4-6 1-6 5-12-1-8 6-4 0-4-2-2 1-3 2-1 2 2 5 2 3 4 2 8 1 10 0 2 1 4 4 8-2 3 2 0 2-5 4 1 2 8 2 5 4 6 1 4 5 4-1 6-6 4 1 4-2 3 0 11 7 2 0 6-2 6 2 4 0 14-4 6 1 4-3 3-5 1-10-2-3-4-2-4 0-2 1-1 4-1 2-2 0-12-1-3-3-5-2-4-4-6 0-10-1-4 3-2 0-1-2-1-4-9-12 3-2 2 0 6 3 2-1 9-10 0-4-2-6-3-3-6 0zM166 164l0 2 2 1 2 0zM104 156l2-1 4 1 2 4-4 9-2 1-2 0-2-2 2-4-1-6z"/><path fill="#cfa256" d="M-2-2l288 0 0 264-288 0 0-7 4 1 2-2 0-2-2-4-4-2 0-21 5-1 3-7 2-2 2 1 4 2 4 0 4-2 1-2-3-8-2 0-14 6-2 6-4 4 0-42 10 2 2 3 1-1-1-2 0-2 3-4-1-3-6-3-4 1-4 3 0-30 2-1 0-3-2-1 0-6 2 1 4-4 2 2 0 4 4 3 2 0 8-2 6 4 2 0 2-1 1-2-1-2-6-3-4-5 1-4 1-2 8-6 4-1 4-3 7-2 0-2-4-6-1-4 2-2 3-2 1-4-2-4-8 1-4-4-6 4-2 1-4-2-6 3-2-1-3-6-5-5-6-2zM64 94l-7 6 0 6 1 2 2 2 0 3-2 0-2-2-2-1-4 0-3 2 1 4 8 4 2 4 8-4 4-6 6 0 6 3 6-3 2 0 4 5 2 0 3-1 1-1 0-3-2-4-6-2-2-2-2-1-6 3-4 0-3-2-1-2 2-6-3-4-1-1zM110 100l-3 2 2 6-2 4 1 3 2 0 3-3 0-4 2-4 0-2zM33 118l-1 4 4 3 2 0 3-3 0-2-1-2-4-1zM126 119l-2 3-8 4-4 4-7 2-5 6-8 5-2 1-4-2-2 0-4 2-2 3-4-1-4-3-4-1-2 0-4 3-2-1-2-2 1-8-1-2-4 0-2 1-1 3 2 4 4 4-2 4-3 4-7 4-2 6 2 4 2 4 5 4 6 2 6 0 2 1 0 7 2 2 4 0 4-4 2-1 2 1 5 8 4 2 1 5 10 6 2 0 2-2 2-1 6 0 4-1 4-4 2-1 14 1 6 2 8-1 12 1 10-3 6 2 5-2 5-4 6-3 1-3-3-6 0-8-12-7-2-6-6-2-6-5-4-6-9-2-5 4 7 6 1 2-2 6-2 2-10-1-6-4-5-1 0-2 3-4 4 0 6-6 0-4 1-4 0-12 0-2-3-2-8 2-4-2zM10 225l-1 3 1 1 2-3zM95 194l5 1 0 3-5-2z"/><path fill="#dcbc75" d="M-2-2l288 0 0 264-280 0 3-16 5-8 0-6 1-2 6-4 2-6 4-4 1-5 5-7 2-6 1-1 2 1 4 2 3-2-5-4 0-2 2-2 2-2 2 1 2 4 2-1 1-2-1-3-4 1-2-4 0-4-2-2-10 6-6 7-4 0-6 7-1 4-2 2-3 1-4-1-8 1 0-21 6 1 8 6 8-2 3-9 3-3 5-7-3 0-1 2-3 1-4 0-4-3-4-5-2-2-12 4 0-19 4 2 4 7 2 2 2 0 2-3 2-8 8-5 3 1 5 8 1 2-2 4 1 2 4 3 1 9 1 1 6 0 6 5 10 2 2 2-1 12 3 5 2 1 2-1 0-5 2-1 4-1 4-3 3 7-1 1-10 3 1 2 2 2 5 0 2 1 7 13 3 2 6-5 7-1 2-4 5-6 8-1 4-5 2-1 12 1 6 1 6-1 16 0 6-2 8 2 8-3 14-8 8 1 3-2 0-2-1-2-2-1-2 0-6 3-2-2-2-6 2-4 0-4-6-9-2-2-6 0-8-11-6-1-3-3-9-4-2-3-5-1 1-4-3-10-3-4 0-6-2-1-5 3-2 4-3 0-2-4-6-6-4-7-8-4-4 1-5 4-1 6-6-2-4-4-6-2-1-2 2-4-1-2-4-2-2-4-2 0-2 2-8 2-1 0 2-4-1-2-2-2-14-1-1 1 1 1 0 3-2 1-3-3 0-2 3-2-6-1-2 3-2 0-3-4-7-4-2 0-3 2-5 2-6 0-4 0-6-3-6 0zM256 158l-3 2 1 2 4 2 4 0 4-4-4 0zM104 122l4-1 2 1 1 2 0 2-3 1-8-2 0-1zM88 124l6 6 4 0 2 2 0 2-2 2-4 0-10-2-6 6-4 2-6-2-3-2 0-2 1-1 10-4 6 1 3-6zM44 126l3 0-1 2-1 0zM40 136l4 0 2 4-2 2-4-1-3-1 0-2zM-2 229l4 1-4 3zM-1 238l-1 2 0-4zM-2 260l1 2-1 0z"/><path fill="#e7cf94" d="M-2-2l288 0 0 9-2 1-1 2 0 2 3 2 0 164-2 2 0 2 2 2 0 78-267 0-1-10-3-6 2-4 1-2 4-2 3-6 7-7 6-2 2 5 2 3 4-1 3-2-1-6 1-2 4-2 1-2 0-2-2-2-2-2-6 1-2-5 2-2 8-4 2 0 3 4 2 6 5 4 4 0 3-4 3-1 2 1 3 6 5 6 4 2 4-1 6-4 6-1 6-8 10-3 6-5 8-2 28 0 6-2 8 1 13-3 11-5 9-1 6-6 1-6 1-2 3-1 8 1 2-2 4-10 0-2-2-1-5 1-5-3-4 0-7 7 0 10-1 2-3 0-5-2 0-4 2-3 1-7 0-2-3-2-6 1-2-1-2-2 0-6-2-2-2-1-4 3-2 0-3-6-3-3-6-2-7-1-3-2-2-8-4-6-2-6-4-4 0-8-2-2-4 1-5 5-3 1-6-5-2-4 1-4-2-2-7-2 0-4-6-2-4 2-2-2-2-4 2-2 4 0 2-2 2-6-1-2-1-1-4 0-8-3-2 1-1 3 1 14-2 2-2 1-2-1-6-4-4-1-8 0-2-1-2-4-2-1-4 0-2-1-4-6-2 2 0 2-2 2-10-1-6-4-4-5-2-1-2 0-8 4-6 0-18 4zM69 54l-1 2 0 2 2 2 2-1 1-3-1-2zM65 66l1 3 2 1 1 0 1-2-2-4-2 0zM228 146l-1 2 1 1 2-1 2 2 0 4 2 1 4-2 1 1 1 8 8 1 9 7 4 6-1 6 2 2 2 0 2-2 3-6 1-2-3-6 1-2 4-2 2-2-2-4-8-11-2 0-4 1-6 1-8-2-4 3-2 0-4-5zM269 186l0 2 2 2 1 1 2-1 1-2-1-2-2-1zM-2 152l6 8-1 2-5 2zM18 160l6 3 0 2-2 3-2 0-4-4 0-3zM-2 191l8 0 5 5 0 4-13 2z"/><path fill="#f1dfb3" d="M-2-2l256 0 0 6 6 2 2-2 3-6 18 0-1 3-6 1-1 2 1 2 2 2 0 3-9 7-3 4 1 2 5 4 2 4 4 3 1 7 3 1 4-2 0 19-1 0 0 2 1 1 0 95-2 2-2 1-2-1-2-2 0-2 3-2 0-2-1-1-2-1-4 2-2 0-3-2-5-6-8 1-4-5-10 3-8-3-4 0-4 2-5 4-1 6-8 5-2 0-3-3 1-7-2-1-2 1-4 4-2 0-5-7-5-3-4-3-4 0-6-2-10-1-1-1 0-2 1-6-6-4-1-2-2-6-3-4 0-6-3-6-3-2-8 4-4 0-2-1-2-7-6-4-5-8-1-4 2-4 0-5-6-4-10-1 0-1 3-1 0-2-5-4-6-4-2 0-4 3-8-2-3-3 0-6-5-5-4 1-8 7-6 2-1 3 4 4 1 6-12 9-2 0-4-5-10-5-4-1-8 2-6-1-4 2-4-1-2 1-2 3-4 2zM262 44l-4 4-2 6-8 4 0 2 5 6 1 0 4-2 4-1 2-1 4-9 3-5 0-2-1-1-6-1zM238 60l0 3 2 3 2 0 1-2-1-4-2-1zM271 60l1 2 3 0 0-2zM259 74l1 2 2 0 1-2-1-1-2 0zM226 116l-2 2 1 6 1 1 2-1 0-4 4-2 1-2-3-1zM282 18l4 0 0 14-4 1-2-1-1-6 1-6zM82 55l2 1 1 4-1 2-4 4 2 2 4 2 3 4-2 2-3 2-8 0-2-2 3-6-1-4 0-2 2-5zM282 170l2-2 2 2 0 4-3-2zM240 172l12 0 4 3 1 3-1 6 6 4 1 2 0 4-3 2-2 4 2 2 4 3 4-6 4 0 4 2 5-1 2-4-2-6 1-2 4-1 0 75-256 0-4-3-4-7-1-4 3-3 2-7 8-8 2 0 4 4 16-2 5-6 1-5 2-1 8 6 22 3 6-6 6-2 6-7 10-4 8-7 16-2 8 0 14-1 8 1 14-3 12-5 10 0 9-3 2-2 0-4 2-2 3-2 4 0 2-2 2-4zM232 186l-4 1-2 1 4 1 1-1zM266 205l-1 3 1 3 3-1 0-2-1-1zM-1 198l3-1 2 1z"/><path fill="#f6eacb" d="M-2-2l235 0 1 5 2 0 2-1 3-4 8 0-1 4 1 4 9 12 5 12 1 1 1-1 3 0 2 4-2 1-3-1-3-2-4 0-2 1-2 3-5 2-2 8-7 4-4 5-5 3-1 2-1 4 2 4-1 6 6 4 4 1 4-1 4-4 3 0 2 4 4 4 0 4 7 5 2-1 2-2 2-7 2-1 10 13 4 1 0 49-2-1-4-6-2-1-8 2-4 4-7-1-1-2 2-5 1-9-5-4-4 1-4-1-4 1-4-1-1-2 0-2 3-4 0-2-2-2-2 0-4 2-3 0-2-2 0-4-3-1-9 3 0 2 3 2 0 1-2 4-2 1-4-4 0-2-3 0 3 6 4 1 4 5 0 6 4 6 0 2-2 2-4-1-6 4-12 1-10-5-8-8-2 0-2 4-2 0-4-1-2-2 1-6-2-4-3-2-6-1-4-8-4-17-2-2-7-2-9-10-6 0-2-1-2-3 0-6-2-4-9-8-15-8-2-6-2 1-4 4-2 0-7-7-3-7-4-2-2 0-8 7-6 1-2 1-5 10 0 2 3 6-4 3-4 1-4-1-8-5-2-2-1-4-1-1-2 0-4 3-12-2-3 4-5 1-4 2-2 4zM196 96l0 3 2-1zM242 96l-2 2 0 2 8 2 1 2-3 6 0 4 2 3 4 0 1-3 1-6 2-4 4-4 0-2-2-2-4 2-4-1-4-2zM188 108l-4 2 1 2 3 2 2 0 0-5zM269 132l1 1 0-1 0-1zM278 50l5 0 2 2-1 2-6 2-4-2 0-2zM234 128l2 0 7 8-1 2-10-3-6-3 2-2zM222 194l4-1 12 3 4 0 6 2 3 0 3-2-1 4 0 6 0 4 0 4 5 2 4 6 4 0 6 3 2-2 2-3 0-2-4-4 2-3 8-3 4-1 0 55-250 0-1-6-1-1-4 1-2-2 2-14 6-2 14 1 8-4 4-6 4-2 11 5 5 4 4-1 4 3 8-3 4-7 6-5 4-5 12-7 8-6 14-3 8 1 14-1 8 1 14-2 14-5 8 1z"/><path fill="#f5f0e0" d="M-2-2l89 0 1 4 4 2 2 0 2-2 1-4 133 0-2 10-2 2 3 8 0 6 1 2 4-2 4 1 6 7 0 2-2 4 1 4-1 2-8 8-6 0-2 2-4 6-2 7-6 0-2 2-1 3 2 6-3 6 1 4 5 6 4 0 6 0 2 2-1 2-7 2-2 0-4-5-8 1-5-4-1-2-2-2-4 0-3 2-1 10-1 2-5 3-2 0-4-4-2-1-2 2-2 4 6 6 0 1-5 3-3 0-4-4-2-5-4-3-4-6 0-8 4-3 2-3-3-8-5-1-4 5-2 0-8-3-10-9 0-4 3-4-1-2-6 1-4-3-14-6-6-4 0-2 3-4 0-4-1-1-6-2-1-1-2-8-1-2 0 2-4 4-1 2 0 2 4 4-1 2-4 1-2 0-2-3-1-4-3-4-4-2-4 1-8 7-8 2-2 1-3 9-4 4 0 6-2 2-3-1-6-5-2-6-4-4-4-1-2 1-2 2-4 1-4-4-2 0-9 3-1 2 0-6-1-2-3-2zM221 6l-2 2 1 1 4 0 1-1-1-2zM218 32l0 3 4 2 3-1 2-2 0-2-3-2zM238 8l4-1 4 1 4 8 4 4-2 4-2 1-4 1-10-8-1-2 0-2zM238 85l4 1 1 2-3 2-2-1-1-1zM276 92l1 2-1 2-2-2zM204 101l2-1 2 2 0 2-4 2-2-2zM276 102l4 1 6-1 0 32-6-2-3-2 1-8-2-3-14-1-2-2-2-4 1-2 1-1 6 2 4 0 4 2 2 0 2-5-2-4zM196 109l4 0 7 7 0 2 1 6 4 8-2 5-4 0-6-1-2-2 0-2-8-1-1-1 0-2 5 0 2-2 5-4 1-2-2-3-4-1-1-4zM180 114l4 2 2 2 0 2-2 3-3-1-2-8zM212 199l8-1 8 5 8 0 6-2 3 1 2 2-2 4 0 2 6 10 1 5 6 4 4-2 4 0 4 5 2 1 7-3 0-6 2-6 1-6 4-2 0 52-248 0 1-6-3-8 2-4 6 1 4 0 5-5 7-3 6-5 2 0 4 3 4 1 8 8 16-4 6-6 1-6 5-5 21-17 13-3 8 1 14-1 8 1 12-1 16-5z"/><path fill="#f4f5f5" d="M-2-2l85 0-1 6 1 2 10 4-3 2-6 2-4 4-8 0-7 6-1 6-2 2-6 1-4 2-4 9-6-2-4 1-6-6-8-4-4 1-2 2-8 1-2-1-4-2-6-1zM112-2l12 0 0 6 3 8 2 2 5 3 2-1 1-2-1-4-4-6-3-6 72 0-1 4 4 0 6 8 4 6 1 8 1 2-6 6 0 2 1 4-1 2-4 2-5 6 0 2 1 2 8-2 2 2 3 6-1 3-6 7-1 6-3 8-10 2-8 0-6-4-18-9-8-1-4-1-4 5-2 0-2-1-1-3 0-8 1-2 2-1 4 4 2-1 0-4-1-2-3 0-2 1-6-6-2 0-10 2-6-1-4-2-2-2-1-4-4-4 0-6-4-6 1-8-2-2-6 1-3-3 1-8 4-5 2 0 4 3 2-1zM220-2l4 0 4 0-2 3-2 0-2-1zM230 37l6-1 1 2 0 4-7 5-2 0-2-3 1-4zM284 111l2 4 0 12-3-1-1-4 0-8zM194 202l12-1 12 0 4 2 4 3 4 1 9 3 8 10 4 16 1 1 4-2 6 0 2 3 8 8 2 0 2 0 4-4 2 0 4 2 0 8-2 2-1 2 3 6-195 0-1-7-2-3-2 1-7 9-34 0-2-10 2-2 5-3 6-6 10-5 10 5 6 7 4 3 6 1 4 0 4-4 1-4 7-8 4-8 4-3 8-9 10-9 12-3 22 0 8 2 12-1z"/><path fill="#e2f0ee" d="M-2-2l76 0 3 4 1 4-10 11-5 3-5 7-6 2-5 9-3 1-6-1-6-8-2-1-8-1-10 3-6-1-4 1-4-1zM116-2l5 0-1 5-2 1-2-2zM144-2l41 0 1 2 4-2 2 1 2 1 2 8 2 2 6 1 1 1 1 2 0 4 5 6-1 2-6 4-3 4-1 4 0 4-3 8 1 4 6 6-1 2-3 2-2 2 0 6 1 4 0 2-2 2-5 1-4 0-6-4-6-2-2-1-2-4 0-6-2-4-6 1-8-2-4-7-2-1-4-1-1-2 0-2 3-2-1-6-5-8-4 0-3 2-1 12-1 2-2 2-3 1-8-1-2-2-5-8-3-14 2-2 4-2 4-4 4 1 6 1 8 5 2-1 3-8 0-4 3-1 1-3-1-2-2-1-4 1-1-2zM148 22l-2 2 2 2 2 0 2-2 0-2-2-1zM116 9l2 0 1 1-1 4-2-2zM194 204l14-1 10 1 2 1 4 4 13 3 7 10 1 6 0 8 2 4 5 3 8 2 6 0 4 6 8 0 1 1-1 4-6 6-176 0 0-4 8-6 6-6 3-14 12-14 9-9 12-4 22 1 8 1 12-1zM56 243l10-4 4 1 8 6 3 6-1 4-5 6-27 0 0-6 2-6z"/><path fill="#ceece8" d="M-2-2l73 0 1 6-6 11-8 8-6 1-2 2-4 6-2 1-5-1-7-5-8-2-22 3-4-1zM151 2l2-4 12 0 1 4 2 1 2-1 1-4 7 0 1 8 1 1 4 1 6-2 2 2 2 4 4 2 2 3 1 5-3 2-4-1-2-4-3-1-1 2 2 10-1 2-3 2 1 4 6 8-1 2-4 2 0 2 5 6 1 2 0 2-2 2-2 0-6-4-4 0-3 4 2 4 0 2-1 1-2-2 0-7-2-4-6-2-8 0-3-2 0-10 5-12 0-2-3-4 0-6-3-6 6 1 4-3 1-2-3-5-2-1-4 0-4 6-2-2-1-4zM130 22l3 2 1 2-3 4 1 6-2 8-2 2-2-1-4-1-4-6 0-10 2-4 6-1zM186 69l1 1-2 0zM196 206l12-1 10 3 6 3 10 3 2 2 0 8 5 6 1 8 4 5 8 5 1 2-2 4 1 4 4 3 3 1-156 0-1-4 8-8 4-8-1-6 1-4 10-12 10-10 10-3 22 0 8 2 14-1zM66 242l4 1 6 4 1 3 0 4-5 8-21 0 0-8 1-4 6-5z"/><path fill="#b4e2db" d="M-2-2l69 0 0 4-3 12-6 6-8 3-4 4-2 1-6-3-16-3-6 0-6 2-6 1-6-2zM170 18l2-1 2 3-2 1-2-1zM163 42l9-5 2 1 0 4-6 5-2-1-3-2zM146 208l16 0 14 2 8 0 6 1 6-3 10-1 4 1 8 4 8 3 5 3 1 6 5 8 2 8 9 12 4 10-137 0-2-6 0-2 3-7 4-3 1-2-3-6 1-4 7-9 6-5 4-6zM62 245l6 0 4 3 0 2-4 12-15 0 0-6 1-4 3-4z"/><path fill="#98d7cd" d="M-2-2l4 0 61 0-3 5-1 5 2 4-3 6-2 1-12 5-6-2-6 0-8-3-8 0-10 3-4 0-4-1zM144 210l4-1 8 1 6 0 14 2 6 0 6 2 4-1 6-4 4 0 10 3 6 4 6 1 2 1 2 2 1 6 4 6 5 11 4 5 0 4 3 2 1 4-1 2-3 2-119 0 0-4-2-6 1-2 5-8 1-4-1-4-2-4 0-2 2-2 5-3 5-9zM64 248l3 0 1 2-2 3-2 1-4-2 0-2zM58 259l3 1 1 2-6 0z"/><path fill="#79c8bc" d="M-2-2l58 0 0 6-1 6 2 4-1 2-2 2-10 2-12-1-6-2-12-2-6 4-10-1zM144 211l4-1 8 2 8 0 10 3 6-1 3 2 1 4-4 4-12 6-3 2-1 2 1 2 3 2 4 5 2-2 1-5 1-2 11-8 0-2-1-2-2-2 3-2 11-5 2 0 2 2 6-1 4 1 6 8 1 5 5 3 6 2 2 2 5 13 1 14-109 0-3-10 0-2 4-6 1-10 4-4 4-14zM213 228l1 2 2-2-2-1z"/><path fill="#58b0a7" d="M-2-2l55 0 1 6-2 6 0 4-1 2-1 1-6 1-10-1-12-5-8 0-6 3-4-1-6 2zM144 214l2-2 4 0 8 3 7-1 3 2 2 8-2 2-7 2-6 4 0 2 3 12 2-2 4 1 4 5 2 0 2 0 13-18 3-3 6-3 2-3 2-1 4 2 2 2 0 4 4 2 5 4 7 1 4 2 4-2 1 1 3 4 2 6 0 2-4 6 4 6-65 0-1-6-2-1-4 1-1 6-23 0-1-6-3-4 1-4-2-4 0-4 1-3 4-5 1-8 2-6z"/><path fill="#3b9b93" d="M-2-2l53 0 0 6-5 10-8 1-4-1-12-7-10 1-4 3-10-1zM146 215l2 0 4 1 1 2-1 4 0 2-8 3-1-3 0-2 1-4zM158 219l4 0 2 1 0 2-8 2-4 0 2 0zM192 232l6-1 14 8 8 2 2 1 7 8-3 6 1 2 3 4-59 0 1-6 4-5 2-6 6-6 6-3 0-2zM144 234l2 1 2 3-1 4-3 2-2 0-2-2-1-2 1-4zM141 250l9-3 3 7 3 2 0 6-15 0 0-10z"/><path fill="#23867e" d="M-2-2l30 0 2 2 2-2 17 0 0 2-2 6-7 5-2 0-6-6-6-1-6-3-6 0-6 6-2 0-8-1zM196 237l2-1 4 1 8 4 8 3 2 2 3 6 0 6 2 4-52 0 3-4 5-4 0-2 0-4 1-2 2-1 4 1 1 0 2-4zM146 260l2 1 0 1-3 0z"/><path fill="#0c7169" d="M0-2l0 1-2 1 0-2zM198 240l2 0 8 4 12 8 1 4-2 6-27 0 2-2 1-2-1-2-2 0-2 4-3-2-1-2 2-2 4-1 2-2 1-3 0-6zM178 262l2-2 2 1 0 1z"/><path fill="#015f56" d="M202 247l16 7 0 2-1 6-12 0-4-2-1-1-1-5 1-4z"/><use href="#st"/><use href="#bn"/></g><rect x="0.5" y="0.3" width="283" height="258.6" fill="none" stroke="#333" stroke-width="1.5"/><path d="M138 106h6M141 103v6" stroke="#444" stroke-width="1.4"/></g><text x="1174" y="74.2" font-size="18.4" text-anchor="middle" textLength="151" lengthAdjust="spacingAndGlyphs">NCEP SREF mean</text><g transform="translate(71 369.2)"><g clip-path="url(#pc)" fill-rule="evenodd"><rect x="-2" y="-2" width="287" height="263" fill="#6a3d07"/><path fill="#824b09" d="M-2-2l288 0 0 264-288 0zM105 176l-1 2 2 1 4-3-2-2zM142 186l-1 2 1 2 3 0 1-2-1-2-1-1z"/><path fill="#995d13" d="M-2-2l288 0 0 264-288 0 0-173 3-3-3-6zM7 86l0 2 2 2 2 0 1-2 0-2-2-1zM103 172l-1 2-1 6 0 4 1 1 4-1 8-4 0-4-2-4-4-2zM144 180l-8 8 1 2 5 3 8-1 2-4 4-3 0-3-2-3z"/><path fill="#ad7021" d="M-2-2l288 0 0 264-288 0 0-166 4-1 2 5 6 3 4-2 4-6 5-3-4-8-5-6-2-1-2 2-4 0-8-5zM50 106l-8 2 7 8 3 1 2-3-2-7zM42 122l0 2 2 4 2 0 2-2 0-2-2-3-2 0zM119 126l0 8 1 3 2-1 3-4 2-2 1-2-4-3-2 0zM48 145l-6 5 0 3 4 1 3-2 2-2 1-2-2-3zM67 158l-2 2 0 2 3 2 4 0 2-2 1-2-1-2-4-1zM105 166l-6 2-2 2-1 4 1 6-2 2-5 3-4 6 0 3 2 4 3 0 2-6 1-1 4 0 4 3 2-1 2-3 4-2 8 2 4-2 2 0 14 6 6 1 14-1 8-5 8 1 2-1 1-1-3-3-4 0-5-3-1-2 1-6-1-1-14 2-6-1-6 4-14 4-2-1-4-5-1-4-1-2-8-4z"/><path fill="#c28633" d="M-2-2l288 0 0 264-288 0 0-28 2-2-2-3 0-121 6-1 2 1 2 4 4 3 2 0 3-3-1-6 2 0 7 6 0 2-2 6-4 4 1 1 2 1 8-2 4-2 1 4 2 6-3 8 2 10 2 7 2 2 2 0 7 1 1-4 5-6 1-2-3-6 0-6 5-4 4-10 2-2 6 1 1-1-1-2-8-2-3-2-3-5-2-9-6 2-2 0-3-6-3-3-2 1-6 8-2-2-2-4 0-2 3-6-1-8 4-6 8-5 1-3-1-1-8-2-4 1-1 2 0 6-1 2-6 4-2 0-2-2 0-4-2-2-10-3-4 1-4-3zM84 106l2 1 0-1zM84 108l0 1 0-3zM80 110l0 4 2 1 1-3 0-2-1-1zM114 114l-5 12 1 2 4 4 2 6 2 4 6 0 2-6 2-2 4 0 2-2 0-4-2-2-12-6-3-6zM10 124l2 2 3-2-3-2zM89 138l0 2 1 1 3-1-1-3zM132 139l-3 3 1 2 3-2zM81 150l-5 3-8 0-5 3-5 6 0 3 2 2 6 1 4 2 10-3 2-3 0-6 4-4 0-2-2-2zM145 154l-1 2 2 2 2 0 1-2-1-2-2-1zM114 156l-6 4-14 4-2 2 0 12-1 2-5 2-8-1-1 1 1 7 3 1 2 6 4 4 5 1 6-2 10-1 4-2 6 0 8-2 14 3 19-1 7-2 10-1 3-1 1-2-1-4-2-2-8-4 0-8-1-6 2-3 0-5-1-2-2 0-1 2 1 6 0 2-5 1-14-7-4 3-4 7-2 1-6-1-4 4-2 1 0-1 3-6 0-4 3-4 0-2-2-1-4 0-8-2zM10 195l-8 3 2 4 2 1 8 2 4-2 6 0 1-1 0-4-3-2-6 1zM16 208l-2 2 1 2 1 1 2-1 1-2zM1 214l3 6 2 1 5-3-1-2-6-3-2-1zM30 104l2-2 2 3 0 4-2 2-3-1-1-2z"/><path fill="#cfa256" d="M-2-2l288 0 0 264-288 0 0-13 2-3 0-3-2-3 1-2 5-3 4 0 2-1 1-4-1-4 2-2 6-4 6 2 3-6 4-4 1-8-6-16-8 2-2 0 1-6 3-6 0-3-2-4-2 1-2 2-1 6-9 0-5 4 3 6-1 2-3 3 0-73 4-5 6 1-1 8 3 4 2 0 6 0 8-2 4 2 1 4-4 4 2 6-2 8 1 6-1 4 1 2 4 1 4-2 11 1 5 6 5 2 2 6 1 1 6-2 2 1 5 10-1 6 2 2 4 3 12 4 10-1 8 2 5-4 5-1 8-3 16 2 20-1 18-3 3-2 1-2-1-4-7-10-2-1 0-2 2 0 2-1 2-4 4 0 2-3 1-3 4-4 0-2-1 0-8 3-4-5-8-2-14 1-15-7-2-2 0-2 0-4 2-4-3-3-3-7-6-4-5-6-6-4-4 0-8 4-2 4-3 6-3 2-8-3-3-3 1-3 5-3-3-6 0-7-2-2-6 1-4-2-4 0-2 2 0 2 2 11-2 1-2-1-6-1-1-2-1-6-3-6-3-3-8 1-2-2-6-10-5-4 1-2 2-1 2 0 1 1 1 2 2-1 0-3 4-10 0-2-6-3-12-3-8 3-6 0-4 2-2 0-4-2-1-1-1-4-1-2-5-1zM102 66l-1 2 1 2 6 4 2 0 5-4 1-2-10-2zM64 94l0 1 2 0 2-1-2-2zM10 152l-2 2 0 2 4 1 4 0 3-1 1-2-2-2-4-1zM0 114l0 1-2 1 0-4zM76 122l2 0 2 2 1 2-1 1-4 2-5-1 0-2zM84 128l2-1 2 0 2 3 0 2-2 1-2 0zM62 132l2-2 2 0 2 7 4 1-10 2-2 0-1-2 0-2zM100 134l4-1 3 1 1 3 4 2 1 5-2 8-3 4-6 3-4 0-6-1-1-10 9-5 4-1 3-2-1-2-6 2-1-4zM-1 204l1 2-2 1 0-4zM-2 217l2 3-1 2-1 1z"/><path fill="#dcbc75" d="M-2-2l288 0 0 264-260 0-5-2-3-6-2 0-4 5-4 2-6-3-1-4 3-12 2-1 4 0 2-1 2-6 2-3 2-1 1 2 1 2-1 4 1 3 4 0 4-3 0-2-3-6 0-2 3-4 8-14 5-6 1-2-1-4 1-2 10-6 6-6 6-1 4 5 1 2 0 4 2 6 0 4 2 2 5 2 2 0 1-2 3-1 6 1 20 1 6-5 10-3 6 1 8 0 22-1 18-3 4-1 4-3 1-2-2-4 2-6-1-8 0-2 4-7 4-3 4-4 0-2-2-1-6-2-8 2-12-6-8 2-6-1-2-1-8-1-2-2 0-2 1-12-1-2-4 0-2-1-5-9 4-6 0-2-6-6-1-4-3-4 0-4-1-3-2-1-2 2-6 1 0 3 2 5 4 1 1 2 1 4-2 2-4-4-2-1-10 6-13-1-1-2 0-8-1-2-10 0-10-12-11-5-2-1-3 2 0 6-1 4-3 2-5 0-2-2-1-4 0-2 5-4 1-2 0-6 4-6-3-5-8-4-12-4-8-5-2 0-6 5-4 1-6-4-8-1zM99 60l-3 2-1 2 1 6-2 4 4 8 2 1 4 0 5-5 9-4 4 0 4-2 0-2-1-2-9-6-8-1-4-2zM134 72l1 2 2 0 0-2zM114 86l0 2 2 1 2-1-2-4zM105 90l1 5 4 0 2-1 0-2-1-2-5-1zM218 174l-10 3-1 3 1 5 2 1 4 0 3-4 3-2 1-4-1-2zM226 180l-3 4 1 2 2 0 4-4-1-2zM53 194l-1 2 2 2 2 0 0-3-2-1zM2 122l2 0 8 18-1 4-7 7-2-1-4-2 0-17 2-7zM100 148l2 0 2 2 0 2-2 2-2 1-2-1 0-4zM6 161l4-1 3 2 1 2-4 5-12 9 0-9 4 2 1-1 1-2-1-4zM38 168l6-1 2 1 2 4 4 4 0 2-3 4-3 2-6 1-2 1-1 4-3 0-2-2 1-4-1-2-6-3-3-7 1-2 10-1z"/><path fill="#e7cf94" d="M-2-2l279 0-1 6-2 1-4 1-2 2 0 6 0 2 10-6 8-3 0 255-258 0-4-14 2-3 4-2 2-3 0-4-2-6 0-2 4-6 4-1-1-5 1-4 9-6 3-5 4 2 7 1 3 6 4 0 2 2 0 2 2 2 4 3 2 0 4-5 4-2 8-2 16 0 12-6 8-1 6-1 18-2 27-2 13-3 4-5 6 0 10 2 12-2 5-2 3-4 0-2-2-5-5-3-2-8 1-2 4 1 5-3 1-2 0-2-1-2-6-2-1-2 0-4-2-1-6 1-6-3-1 1-3 8 1 2-1 2-2 0 0-2-6-7-2-1-16 1-6-2-6-4-4 0-10-4-2 0-4 2-2-1 2-12-5-8-5-2-1-2 1-8-5-4-2-10-6-12 1-2 4-2 2 0 4 3 2 0 3-7-1-4-14-3-12-8-6-1-6-4-8 2-4 2-4-1-1 1-2 2 3 4 1 4-7 6 1 2 5 4 4 5 6 4 1 5-1 2-2-1-10-9-8-1-4-4-10-7-1-2 0-2 2-4 1-6 3-4-3-5-2 1-8 10-8-6-4-2-10-2-8-6-4-1-8 3-4-2-14 0zM264 22l0 2 2 1 0-2zM74 60l0 4 2 3 4-5 0-2-4-2zM259 64l1 2 2 1 2-1 1-2-3-2-2 0zM227 70l1 4-1 2 0 2 5 1 1-3-1-4-2-2-2-1zM250 74l0 3 2 1 4-2 2-2-2-1-2-1zM218 108l0 4 2 2 2 1 3-1 3-2 1-4-1-1-6-1-2 0zM270 149l-5 5 4 4 1 1 2-1 3-4 0-2-3-3zM89 220l0 2 3 2 1-2-1-2zM84 225l-8 3 1 4 9 2 2 0 2-1 1-3-1-3zM2 127l2 1 3 4 2 8-3 5-2 2-2 0-2-2-2-4 0-6zM218 151l5 3 1 2-1 2-3 2-4-1-3-3zM206 166l5 2 1 2-4 1-12 9-2-1-1-7 1-3zM28 174l3 0 1 2-2 1-1-1zM6 249l2 0 3 3-1 3-2 1-3-2 0-2z"/><path fill="#f1dfb3" d="M-2-2l273 0-2 4-4 2-2 2-1 5-4 5 0 2 1 4 0 4-3 6 0 2 6 4 2 0 1-2-1-4 4-2 10-12 2 6 6 1 0 21-2 1-1 1-5 8-6-2-4 4-2 0-4-1-4-7-2-1-2 1-3 2-3 5-4 1-10 8-12-2-4-3-2 0-1 1 2 8-1 10 2-1 2 2 2 3-6 8 0 6-6 1-2 2-4 13 1 2 6 4 0 12-3 4-2 6-2 2-10 2-10 0-6-2-4-5-4-3-8 1-2-1-2-4-2-7-4-5-1-4 1-2 4-7 2-1-6-2-2-2 0-2-2-2-6-3-4-7 0-1 6-2 3-3 1-8 0-4-2-3-4-3-10 0-4-2-4-5-10-2-8-4-10 0-6-1-8 4-4-4-10-3-3 1-7 6-2 1-6-2-12-3-3-2-1-4-2-2-12 2-6-2-10 0-6-1zM280 57l6 1 0 88-3-2-1-2-5-2-5-1-4 2-2 0-6-4-8 3-2 2-2 4-4 2-8-1-8-6-8 1-4-2-2-2 1-2 3-1 6-1 2-4 6-2 4-6-3-6 0-4 3-3 8-5 2-4-6-3-2-3 0-2 10-8 8-1 5-5 7-1 1-1 4-6 5-4 1-2 0-6zM264 92l-3 6 1 1 2 1 3-2 1-2zM2 131l3 1 2 6-1 4-2 2-2-1-3-5 1-4zM282 155l4-5 0 21-2 1 2 2 0 88-255 0-2-12 4-6 3-10 6-1 4-4 4-3 2-3 2-1 4 0 4-2 2 1 2 1-1 6 7 6 4 2 10 1 8-3 5-8 0-6-2-6 1-1 14-1 10-5 6-1 10-3 16-2 24-1 12-2 6-2 4-3 14 3 12-3 6 2 6-3 12 0 2-2 0-4-3-2-7 0-2-2-3-6-1-8 1-2 5-4 2 0 3 6 1 1 2 0 8-2 6-7 2 2-2 4 2 2 2 0 4-3 2-1 2-2 1-4zM263 184l0 6 1 2 2 1 4 1 6-1 4 3 2-1 0-9-2 0-8 2-2 0-2-4-2-1zM246 154l2 2-2 2-2-2z"/><path fill="#f6eacb" d="M-2-2l245 0-5 6-1 4 1 1 2 1 4-5 4 1 0 2-3 4-1 6 0 2 3 4 1 4-2 6-6 3-2 3 0 2 2 3 5 1 2 2 0 2-3 2-8-2-2-1-4-5-2-2-2 0-2 4-2 6-10 1-5 3 1 9 4 3 1 2-1 2-5 4-3 6-6 4 0 2 2 2 8 1 2 1 0 2-5 4-2 8-4 4-1 4-2 3-2 1-10 1-8-7-6-1-2-1 0-6-5-4-7-8-2 0-4 2-5-2-1-2 5-6 2-8-1-10-1-2-13-7-15-5-3-3-8 0-18-4-6 1-14-5-14 10-4 0-14-3-6-9-4 0-6 2-10-2-6 1-10-1zM87 8l1 1 1-1-1-1zM229 10l1 4 2 2 3 0 0-4-1-1-4-2zM226 20l-3 2 0 2 1 3 2 1 3-2-1-5zM274 30l2 1 1 1-1 2-2 3-2 0 0-3zM234 57l2 1-2 4-2-1 0-1zM286 75l0 42-4-1-4-2-2 0-4 2-2 0-3-6 1-4 1-2 3-1 8 1 2 0 3-2 1-2-2-3-4-1-3-2 2-8-3-6 1-2 7-1zM250 106l9 2 1 2-2 4 0 2 6 4 6 1 10 2 4 8 2 1 0 5-10-1-10-3-3-1-3-3-2 0-6 3-5 0-3 4-2 1-2-1-2 0-2 4-4-1-1-3 0-2 5-2 2-3 4-3 1-4 1-2 2-1 4 2 5-5 0-2-7 0-3-2 2-4zM160 112l8 1 2 2 2 5 0 3-4 1-3 2 1 4-2 1-2-5-6-6-1-2 1-2zM186 127l4 0 2 0 2 7 6-3 2 0 2 3 0 4-2 1-8 2-2 1-4 1-6 0-3-3-2-4 1-2zM2 135l2 0 0 1 0 5-2-1-1-2zM284 162l2-2 0 7-2-1-1-2zM262 171l2 0 2 3 0 2-4 1-2-1 0-2zM246 177l2 1-2 1-1-1zM260 196l4 0 7 4-2 2-1 2 2 3 2 0 6-1 4 2 1 2-2 6 0 2 5 2 0 6-4 2 0 2 4 2 0 30-252 0-1-12 5-8 4-1 2-1 2-4 2-1 6 0 8-1 10 4 12 3 6-2 8 0 3-3 3-8 0-8 2-4 10-2 6-4 14-5 18-3 26-1 10-1 12-4 10 3 8-2 12 1 6-2 10 2 4 2 2 0zM257 204l-3 2 0 2 1 2 3 1 2-5-1-2z"/><path fill="#f5f0e0" d="M-2-2l104 0 2 2 2-2 123 0-5 8-2 10-6 6 1 4 4 6 0 2 0 2-5 0-6-3-2 7-1 8-3 3-5 3 0 2 4 6 1 7-2 3-9 6 0 6 0 10 1 4 6 2 0 2-4 1-2 7-2 2-6 1-2-3-10-4 0-6-1-2-5-5-6-1-2-2-5-8 0-6-2-10-3-4-8-4-4-4-6-2-4-4-6-3-14 1-5-2 1-2 4 0 3-2 1-4-2-2-6-1-2 0-2 6-2 1-6-2-3-8 2-10 3-4 8-2 1-2-1-3-6 1-4-6-4-2-6 3-4 0-1 3 1 4-1 4 2 8 1 2 4 0 2 1 1 3 0 2-3 3-2 0-12 0-5 7-5 4-4 1-6-1-2-1-2-3-5-2-3-3-2-1-12 2-8-2-8 1-10 0zM212 2l-2 2 2 2 1-2zM122 34l0 6 2 3 2-3 0-6-2-1zM214 39l2 0 3 3-1 3-2 2-3-1-2-2 1-2zM190 202l12-3 8 2 8-1 6 2 10-1 12 2 2 2 2 5 4 4 2 4 2 1 8-1 3 2 0 2-1 2-4 5-1 3 1 3 10-2 8 3 4 3 0 23-248 0-3-8 1-4 2-3 6-3 6-5 10-2 18 4 4 2 8-2 8 1 4-2 3-4 4-12 3-4 11-8 11-5 14-4 30 0z"/><path fill="#f4f5f5" d="M-2-2l65 0 1 4 6 9-1 7 5 4 1 4 0 2-3 2-3-2-5-13-2 2-1 5-3 4-2 2-2-2-2 0-8 10-6-3-4-1-10 3-8-2-10 2-8 0zM90-2l8 0 1 4-1 2-2 0zM120-2l86 0 0 4 2 8 1 6-4 6-1 8 0 6-4 9-4-3-2 1-3 3-2 8 1 4-1 2-5 2-4 3-4 1-1 2 3 4 2 10 3 4-1 6-2 2-4 0-2-2 0-8-2-6-2-1-6 2-2-1-2-2-2-4-1-6-3-6-6-2-2-2 1-6-2-4-1-2-2 0-4 3-3-1-1-2 3-4 1-6-2-8-6-3-2 0-4 2-2 0-2-3 2-4-1-2-3-1-6 6-10 2-3-1 1-2 6-4 2-2 0-6 2-2 2 0 2 3 2 1 2-2 3-4zM141 4l0 4 4 4 1 4 2 1 4-2 0-3-6-8-2-2zM96 27l1 3-1 1-2-1zM54 31l9 5 0 2-1 2-4 1-5-3 0-4zM188 71l3 1-3 2-2 0zM183 102l6 0 1 3-2 0-4-1zM180 204l20-3 10 2 8 0 8 2 8 0 3 1 3 4 10 5 2 3-1 4 1 3 2 1 4 1 2 1-1 8 3 6 10 2 4-3 4 0 6 3 0 18-244 0-3-8 0-4 2-2 9-5 10-3 8 1 14 5 6-1 6 2 11-5 5-4 1-6 5-6 0-4 2-2 6-6 12-7 14-3 12 0z"/><path fill="#e2f0ee" d="M-2-2l63 0-1 4 1 6-3 6 0 4-2 2-6 2-6 6-6 1-6 0-6 2-8-2-10 1-4 1-6 0zM128-2l7 0-1 3-2 1-2-1zM162-2l4 0 2 1 2-1 28 0 4 4 1 4-1 10-1 4 1 6-2 8-6 3-4 5-4 3-1 1-1 7-6 3-2 3-2 1-2 0-4-6-15-4-9-14-3-10 1-3 14-4 8 0 1-1 0-4-5-6 3-6zM180 206l22-3 8 2 8 0 12 6 10 9 6 3 4 7 5 2 0 6 4 6 1 1 6 1 3 2 0 4-1 6-4 4-174 0-2-1-2 1-2 0-2-1-2 0 0 1-26 0-2-2-7-4-2-2 1-3 8-4 12-4 4 0 12 6 6 0 4 3 4 0 2-1 4-3 10-5 4-3 3-6 4-12 4-6 11-8 12-2 14-1zM282 248l4-1 0 9-2 0-1 2 2 4-17 0 2-2 4 0 2-1 3-3 2-6z"/><path fill="#ceece8" d="M-2-2l4 0 56 0-3 16-3 4-10 7-4 2-8 0-4 1-10-3-18 2zM171 4l6-6 7 0 2 4 3 2 2 4 3 3 1 3 0 2-4 6-7 8-2-1-3-3-1-2 4-6 0-6-4-2-4 2-2 0-1-2zM194 2l2 0 3 2 0 2-1 2-4-1-4-3zM158 22l2 0 3 2 6 10 1 6-2 4-2 1-2-1-1-4-1-1-8-2-2-3 0-4-1-4zM188 34l1 2-1 2-2-2zM176 37l4 11-1 2-5 3-3-3 0-10zM192 206l12-1 6 2 8 1 6 6 4 2 2 4 8 3 6 5 1 4 5 4-3 4 1 3 2 2 4 0 6 5 2 0 0 2-4 6-1 4-147 0-1-6 2-4 1-6 2-2 8-6 2-8-1-4 1-2 5-8 5-5 14-4 8 0 6-1 18 2zM64 246l4 0 2 2 1 2 1 12-15 0-2-4-5-4 2-3zM98 258l2 0 1 4-5 0 0-2z"/><path fill="#b4e2db" d="M-2-2l56 0-1 12-2 4-3 4-4 4-6 2-14 1-10-3-16 2zM160 208l20 2 10-3 14 0 14 4 5 7 3 6 6 4 2 2 2 8 1 2 7 5 5 7 1 6 2 4-136 0 6-4 0-2-2-4-4-3 0-2 6-3 4-6 2-6-1-6 0-2 4-4 2-6 5-3 8-2 8 0zM60 251l6 0 0 5 2 2 1 4-8 0-1-6-1-4z"/><path fill="#98d7cd" d="M-2-2l53 0-1 12-5 8-9 4-12 1-10-6-16 3zM146 210l16-1 6 2 6 1 4 1 14-4 14 1 10 3 5 7 2 8 7 5 8 13 2 5 4 3 3 8-120 0-3-14 4-8 4-6-2-6 0-4 4-4 2-5 2-2zM175 224l-4 2 3 2 4 1 5-3 1-2-4-1z"/><path fill="#79c8bc" d="M-2-2l10 0 2 2 2 0 1-2 35 0 0 2-1 8-4 8-9 4-6 0-4 0-8-6-4-1-4 0-4 2-6-3zM148 212l14-1 2 1 4 4 3 2 1 2-4 3-4 5-1 4 3 2 2 1 6-3 12 4 2 0 3-4-2-4 1-4-8-6 0-2 1-2 5-3 4-1 12 4 4 0 5 2 2 2 1 2-4 6 0 4 9 4 2 4 5 0 2 2 6 7 2 7 4 2 3 6-113 0-1-8-3-3-1-3 3-6 5-6 1-2-3-6 0-2 3-4 2-6z"/><path fill="#58b0a7" d="M17-2l3 0 27 0-3 10-3 6-5 3-8 1-6-2-6-8-3-2 3-4zM148 214l11 0 5 6-1 2-4 4-1 3-4 2-2 3 1 2 1 1 8 2 4 3 8 0 2 0 6-2 6 0 7-4 5-9 4-1 2 1 2 5 9 4 3 6 8 1 4 3 2 2 1 6 1 2 4 2 3 4-108 0 4-10 0-4-4-4 0-2 3-6-1-8 2-8 1-2zM154 243l-4 3 0 2 2 2 4 0 2-1 1-1-2-4zM190 213l4 1 4 2 0 4-2 1-8-4-1-1 1-1z"/><path fill="#3b9b93" d="M20-2l2 0 23 0-3 10-3 4-3 2-10 1-4-2-2-3-1-6zM150 216l5 0 1 2-4 6-4 1-4-3 1-2zM202 236l8 2 1 4 2 2 15 3 3 3 3 8 0 4-58 0 0-2 2-3 8-3 0-8 2-2zM168 253l2 1 2 2 0 2-2 2-2-2-1-4zM151 256l3 0 1 0-3 2zM140 257l4-1 2 2 1 4-10 0z"/><path fill="#23867e" d="M22-2l16 0 1 4 0 4-1 2-12 2-2-1-2-5zM194 244l8-3 2 0 4 5 4 3 14 1 4 8 0 4-49 0 1-1 10-2 2-3 0-2-3-6 0-2zM200 251l-5 3 3 5 2-2 2-5zM142 260l2 2-5 0 1-1z"/><path fill="#0c7169" d="M24-2l10 0 0 2-2 3-4 0-3-1zM208 254l4 2 0 2-2 3-2 1-2-4zM220 258l4-1 1 1 0 2-1 1-3-1z"/><use href="#st"/><use href="#bn"/><circle cx="181" cy="198" r="2.6" fill="none" stroke="#000" stroke-width="1.2"/><circle cx="12" cy="219" r="2.6" fill="none" stroke="#000" stroke-width="1.2"/><circle cx="15" cy="73" r="2.6" fill="none" stroke="#000" stroke-width="1.2"/></g><rect x="0.5" y="0.3" width="283" height="258.6" fill="none" stroke="#333" stroke-width="1.5"/><path d="M138 106h6M141 103v6" stroke="#444" stroke-width="1.4"/></g><text x="213" y="362.2" font-size="18.4" text-anchor="middle" textLength="175" lengthAdjust="spacingAndGlyphs">CSU WRF member 1</text><g transform="translate(551 369.2)"><g clip-path="url(#pc)" fill-rule="evenodd"><rect x="-2" y="-2" width="287" height="263" fill="#824b09"/><path fill="#995d13" d="M-2-2l288 0 0 264-288 0zM104 174l-4 2-1 6-2 2 0 2 3 3 2 1 10-4 1-2 0-2-1-2-4-1-2-4zM146 179l-10 5-4 0-8-3-1 1 7 11 2 0 8-2 9 1 9-4 8-1 2-3 0-2-4-2-8 2-4-1-4-2z"/><path fill="#ad7021" d="M-2-2l288 0 0 264-288 0 0-179 4 3 2 0 3-2 0-2-1-6-3-6 0-2-2-2-3-1zM19 74l-1 2 2 2 4-1 1-1-1-2-2-1zM15 80l-6 4-2 2 3 3 4 1 4 0 3-2 1-2-4-6zM26 99l-4 3-4-1-4 5 0 3 6 0 4-2 2 2 4 0 1-3-1-4-2-2zM38 107l-5 3 0 2 3 2 3 0 1-2 0-4zM54 110l-2 0 2 1zM42 116l-1 2 1 1 2-1zM45 124l0 2 3 0 0-2zM116 136l-1 2 3 6 0 4 2 2 2 0 3-2 0-10-2-2-3-1zM48 141l-1 7-7 4-1 2 0 2 15 10 2 0 3-2 2-2-2-6 3-8-1-2-9-6zM104 170l-8 4-2 2 0 4-2 2-12 2-1 2 3 2 2 2-1 6 1 1 2 1 8-1 14-5 2 0 6 3 6-1 6 3 8-2 12 0 12-4 11-1 5-4-1-4-7-6-4-6-2 0-2 1-2 5-2 1-14-2-2 0-6 4-2 0-4 0-6-3-6-1-6-5z"/><path fill="#c28633" d="M-2-2l288 0 0 264-288 0 0-159 1-1 0-2-1-1 0-8 4 1 3 2 2 4 3 1 2 3-2 3-8 2-3 7 11 3 8-3 10 5 6 0 2 1 1 2-3 4 1 2 5 8 2 8-6 10 1 4 6 4 7 9 16 9 2 4 4 3 1 3-1 6 2 3 6 0 6 2 10 0 16-3 16 1 8-2 12-1 16-3 14-1 3-2 0-2-1-6-5-6-1-4 0-4 3-2 0-4-2-2-3-2-10 3-5 7-3 1-4-3-2 0-4-5-4-1-3 2 0 6-7 2-2 3-4-1-3-2 1-6-4-3-12 5-6 1-10 3-2 1-8 9-4 0-3-8 1-8-2-2-5-2-2-6 3-1 4 5 4 0 4 3 2 0 1-3-2-6 0-2 3-1 0-2-4-3-4 0-6 2-2-1-4-3-4-1-2-1 0-2 2-4-1-2-2-6-3-2-3-6 1-1 2 0 4 3 2-1 1-3-2-6-5-5-2 0-6 2-2 0-1-5-3-2-6 2-3-4-2-4 0-4 1-4 11-10 0-4 0-4 1-6-2-2-8 0-6-2-2 0-2 8-2 2-6-6-2-5-2 0-4 4-2 0-6 0zM106 118l-2 2-2 6-3 4 0 2 1 3 2 2 4 0 2 3 4 2 2 2 1 8 3 3 2 0 6-3 6 3 2-1 0-4-4-6-1-2 2-6 0-2-3-2-6-1-2-1 0-2 3-4-1-2-8-5-4 0zM22 122l-2 2 0 2 2 2 2 0 2-2 0-2-2-2zM124 164l2 2 1-2zM15 218l1 3 2-1 1-2-1-2-2 0z"/><path fill="#cfa256" d="M-2-2l288 0 0 264-288 0 0-41 1-3-1-9 2 1 1 4 3 4 0 2-2 4 3 6 3 3 2 0 2 0 3-3 3 0 0 2-4 2-1 2 1 2 2 2 3 0 1-1 4-7 0-4-2-4 2-8-2-8 7-6 1-2-1-4 4-6-1-4-2-1-4 1-4 4-2-2-2 0-4 2-6 8-2 1-2-1 1-10-5-6-2 1 0-59 2-4 2-1 8 3 6-3 1 1-1 6 2 4 6 3 8-1 2 1 2 3 1 4-6 4 2 6-3 6-3 2-1 2 1 2 3 2 4 0 8 4 8 12 8 0 4 2 2 5 5 3 0 8 3 3 6 1 8 2 4-1 10 0 12-2 16 0 8-2 12-1 18-3 18-1 3-2-3-8 4-6-2-5-3-3-1-4-2-6-8-9-5 1-5 3-10-1-4-2-2 0-4 3-2-1 0-2 3-4 1-12-5-10-4-4 2-4-2-2-5-3-16-1-4-3-2 0-4 4-4 0-2-1 1-4-1-2-4-3-4-2-8 4-8-2-2 4-2 1-3-6-3-2-2-3-2-1-2-1-4 3-2 0-8-1-6-2-2 0-2-1 3-10 9-6 0-16-2-2-4-3-8 1-8-5-6 2-4-2-4 0-8 4-4 0zM98 68l-1 2 0 2 7 5 1-1-1-8-2-1zM66 92l2 2 1-2-1-1zM111 102l1 3 4 0 2-1-4-3-2 0zM88 115l1 1-1 0-1 0zM130 118l3 2 0 2-3 0-2-2zM64 121l5 1 2 2-1 7-4 2-2 0-3-5 0-4zM90 121l2 0 3 3 0 4-1 3-2 1-2 0-2-6 0-2zM90 138l2 0 6 5 4 6 6-4 2 1 2 4-2 4-2 1-4-2-4 4-2 0-6-5-2-4-1-8zM14 202l2-1 1 1 0 2-1 1-2-1z"/><path fill="#dcbc75" d="M-2-2l284 0 0 2 2 2 2 0 0 260-284 0-1-4-3-3 0-14 6 2 6-1 10 2 6-5 4-1 2-8 4-6-1-2-1-1-5-3-1-6 1-4 7-8 6-1 5-3 1-2 0-2 2-1 1 1-1 2 4 2 2 0 6-3 2 1 2 6 0 6 4-1 6-1 8 3 8-2 10 1 10-3 16 0 10-3 30-3 18 0 4-1 3-4 0-2-5-4 0-2 4-4-2-8 0-6-4-3-1-3 4-4-1-2-14-5-12 0-4-2-6 0-1-1-5-24-4-6-7-6 0-6-1-2-4-1-4 4-4-4-5-3-1-2 1-6-3-2-2 0-2 2-2 4-6 5-2 0-2-2-4-7-4 2-6 6-2-1-6-4-2-7-1-6-1-3-2 1-5 8-3 2-6 2-4 4-8-1-2-3 0-4 2-1 4-1 7-12-1-5-4-3-1-4-1-1-8-4-8 0-12-9-3 0-5 3-8 3-2 1-4-2zM91 62l-3 6 0 4 2 4 2 2 7 4 11 0 3-2 1-8-4-1-4-7-8-1-4-3zM115 70l1 1 1-1-1 0zM122 84l-1 2 2 8 3 4 2 1 4-7 0-3-6-6-2 0zM195 154l-1 2 2 4-2 6 4 1 3-1 2-2 3-4 3-6-1-2-6 1-4-1zM262 156l-1 2 1 1 2 1 2-2-2-2zM48 206l0 2 2 3 3-1 0-2-1-2-2 0zM4 122l6 6-1 8 4 6 0 2-5 7-4 3-2-1-2-2-2-8 0-13 3-6 1-2zM24 148l2 2 0 2-2 2-2 1-2-1 0-3 2-3zM-2 156l12 0 3 2 2 2-1 2-5 6-1 4 2 2 6 0 4-8 2-1 2 0 3 3 4 10-1 1-6-3-6 0-8 8-2 0-1-2-1-8-8 0zM56 186l2 0 1 2-1 1-4-1z"/><path fill="#e7cf94" d="M-2-2l281 0-1 3-4 3 0 2 2 2 6-2 4 1 0 46-7-3-1-3-2 0 0 1 1 2-1 8 1 2 3 1 6 1 0 75-3 3-1 2 1 2 3 3 0 115-267 0-1-5-2 0-4 1-2 0-3-2-3-5 0 1-6 1 0-9 5 4 1 2 2 0 3-2 3-1 6 2 4-2 4-4 6-1 3-2 2-8 6-8-3-11-2-3-4 2 0-2 4 0 2-1 2 0 8 6 4 0 6 3 6-2 6-7 2-1 10 1 8-2 6 2 10 0 6-2 12-2 12-3 16-2 16-2 18 1 4-1 6-5 4-2 2 0 6 3 6 1 6-2 4 0 10 3 8-3 1-1 0-2-11-8-12 1-6-3-4-1-2 2-4 7-2-1-2-3-5-4-3-4 0-3 10-5 8-9 4-2 4-5 2 1 3 5 3 1 4-1 2-1 6 0 4-1 1 2 7 6 4 1 4-3 8 1 4-3 5 0 4-2-1-3-2 0-4 5-2-1-3-5 0-4-5 0-2-1-2-7-2-2-4 2-2 2 0 6-4 3-4 0-6-6-4-1-4 5-6-1-4 1-4-2-8-1-10 1-6 2-6-1-8-4-14 0-10-10-7-18-8-10 0-6-4-16-7-6-2-1-6 0-1-1 0-2 4-6 0-4-9-1-3-5-3-2-4-1-4 1-10-2-1-6-1-2-8-1-2 1 1 6-1 6 0 2 4 4 2 11 1 1 5 2 2 4 0 2-4 3-8 1-3-4 1-8-2-3-16-6-2-7-2-2-26-13-6-4-6 0-9 5-5 2-6-2zM249 72l-3 2-1 2 2 2 3 0 5-4-1-2zM2 126l2-1 3 3 2 14-1 4-2 2-2 1-2-1-4-8 0-7zM-2 160l4 2 0 2-2 4-2 1z"/><path fill="#f1dfb3" d="M-2-2l265 0-6 6 0 4 3 8 1 2 3 2 4 0 3 4 5 2 4-3 3-3 1-7 2-1 0 34-4-5-8-1 2-6-2-4-5 2-2 2-1 3-4 2-1 3 1 2 4-4 2 0 2 2 1 12-7 1-6 0-12 3-1 2-1 7-6 3 0 6-2 4-1 4 3 6 6 1 14-9 7-2 1-2 1-6-2-6 1-2 4 0 4 4 2 0 10-1 0 1-4 0-1 6 0 2 1 2 4 2 0 54-4 0-4-1-12-2-4 5-8 0-4 4-4-1-6 2-8-4-4-1-2 2-3 6-3 1-2 0-2-1-2-2 0-12-3-6-3-1-4 1 1 10 3 8-1 2-5 2-10 2-6-1-8-4-6-1-6 1-2-3-1-4 1-4 0-2-4-4-2-1-2 1-2-1-2-9-3-6-2-10 3-4 0-2-2 0-4 1-2 0-2-3 0-4 4-3 1-3-5-8 0-6-2-2-4-2-4-7-4 0-5 3-3 0-12-7-4 0-4 1-2-1-2-1-3-6-3-2-10 0-7 4 0 2 1 1 2 3-2 8 2 4 0 2-4 1-2-1-2-4-8-8-12-3-8-5-4-4-7-4-9 0-12 6-8-1zM252 20l-1 2 1 1 1-1zM244 28l0 8-4 6 4 4 4 1 8-11 0-2-8-5zM230 110l0 5 2 2 6 1 4 5 2 0 4-3 0-2-8-3-8-5zM272-2l2 0 1 0-1 1zM4 128l2 4 1 8-1 4-2 2-2-1-4-7 0-2 4-7zM266 140l1 0 1 2-2 1zM228 165l2-1 6 3 1 1-2 4 1 2 4-1 6-6 2-1 6 4 3 6 4 4 2 4 1 1 4-1 4-2 14 1 0 16-2 1-2 4 0 1 4 1 0 3-4-1-1 2 0 2 5 7 0 43-263 0-1-6 1-4 5-5 8-5 2-2 2-6 9-6 1-2-1-6 1-1 2 0 3 1-1 4 2 2 8 0 4 0 2-1 6-8 6-1 3-4 5-2 2 0 6 3 10 0 6-3 6 0 18-6 14-3 18-1 18 1 4-1 8-5 8 2 10 0 6-2 3 1 7 5 10 1 8 6 6 1 3-5-1-7-2-2-4 1-2-2-2-7-10-5-6-5-10 2-3-1-1-2 0-2 4-4zM260 214l0 5 2 0 3-1 0-2-1-1-2-1zM280 165l6 0 0 14-4-1-3-4-1-6 1-2zM202 173l4 1 1 2-3 3-4-1 0-2 0-2zM268 177l3 1-1 2-4-2z"/><path fill="#f6eacb" d="M-2-2l105 0 1 1 3-1 115 0 4 4 2-1 0-3 16 0 0 4-2 2-4 0-2 2 0 2 2 1 6-1 2 1 1 3 1 4-2 2-2 0-8-1-1 1 3 2 0 2-4 6 0 2 3 2 1 2-3 6 0 2 9 10-4 6-6 4-2 7-6 2-4 4-3 1-5 8-4 2-1 2-2 6 3 6-1 4 0 2 3 3 2-1 2 1 0 2-2 1-2-1-1 1-3 6-10 4-3 2-1 2 6 5 0 4-4 7-2 2-6 1-8-5-8-3-1-1 0-4-7-8-2-4-6-2-2-8 2-2 8 4 4 0 2-10 4 0 1 0 0-2-3 0-2 2-4-2-8 0 3-4 1-2-12-10-3-8 2-6-3-7-2-2-8-2-3-5-3-2-10 3-6 0-2-2-2-4-6-2-4-3-6-1-6-4-2 0-14 4-8 1-4 3-10 5-4-1-3-3-7-9-8-3-10 1-14 6-6-1zM94 4l-2 2-1 2 3 3 2 0 4-3 0-2-2-2zM228 8l-2 1-4 5 0 4 0 1 2 2 6-3 2-2-1-6zM109 26l-1 2 2 2 5-4-1-1-2-1zM186 120l-2 2 3 0zM258 23l2-1 3 2 0 2-3 1-2-1zM228 83l2 2 1 3 0 2-1 1-8-3 1-2zM274 84l8 1 4 1 0 6-9 2-3-8zM252 92l2 0 0 1-2 1zM264 91l2-1 3 2 0 2-1 6 5 2 13 10-1 10 1 10-14-3-3-1-5-5-2 0-3 1-1 2 2 4 0 2-6-1-6 4-2 0-2-1 1-4 1-2 6-3 2-3 0-2-3-8 7-7 4-2 1-1-3-6 0-2zM262 110l1 2 1 0 1-2-1-1zM216 96l2 2-2 2-2-2zM222 125l2-1 2 2 1 4-1 1-3-1-1-2zM4 132l1 4-1 6-2-1-2-3 0-2 2-4zM284 187l2-1 0 8-3-2zM268 189l2 0 10 5 1 2 0 2-3 4-2 1-4-1-4 1-4-3 0-4zM192 202l8-4 8 3 6-2 12 1 8 5 8 1 6 6 5 2 3 8 4 2 2 1 8-3 4-3 2-1 2 1 6 5 2 1 0 37-246 0 0-2-2-2-3 4-5 0-2-4-1-2 0-2 5-6 8-6 4-7 8-3 4 0 4-2 8 1 6-1 10 6 2 0 6-4 2 0 4 2 2 0 2-2 1-4-1-2-3-2 0-2 15-8 8-2 10-5 10-3 12-2 16-1 18 2zM90 213l3 1 0 2-1 2-2 0-1-2 0-2z"/><path fill="#f5f0e0" d="M-2-2l86 0 0 4-4 3-1 3 1 3 2 1 5 0 1 2 0 2-4 4-1 4-6 2-1 2 0 4-4 7-4 1-6-3-2 1-2 6-4 2-5 0-1-4-1-2-4-2-1-4-2-2-8 2-14 0-14 6-6-1zM113-2l98 0 1 6 2 3 3-3-3-6 4 0 3 8-3 8-1 10-3 4-1 4 3 2 2 0 2-4 2-1 7 5 0 2-4 4 1 8 2 5 4-1 1 2-1 2-2 3-6 2-4 6-2-1-4-6-6 0-1 2 1 6-10 6-4 6-4 4-2 8-2 1-6-2-10 1-2-2-1-2-5-4-4-6-4 0-2-2 0-8-2-4 0-6-10-2-10-9-8 3-6 1-1-1-1-6-2-2-6 1-2-1-2-3-1-1 9-3 4-3 7-2 3-6 1-2-2-4-1-5-2 1-8 6-14 0 0-2 2-4 6-7 8-5 2 0 0 2 2 2 2-1 0-4-2 0-2 1-2-1zM198 90l4 0 1 2 3 8 0 10-2 3-5 3-5 1-2-1-5-6 0-6-1-3-2-2-2 0-1-1 3-2 2 1 3-1zM278 114l8 2-2 0-2 2-4 5-2 0-2-3zM174 117l1 1-1 1-2-1zM180 128l4 0 4 4 5 2 0 2-3 3-2 0-2-3-6-3-1-3zM198 201l8 2 8-1 14 3 6 4 6 0 2 3 5 12 5 2 18 13 4 0 4-3 8 0 0 26-244 0 2-8-3-6 0-2 4-6 3-3 4-1 6 1 4-3 2 0 10 1 10 4 8-2 8 1 4-2 2-4 0-8 1-2 15-7 11-7 9-3 12-2 16-1 18 2 4 0z"/><path fill="#f4f5f5" d="M-2-2l4 0 78 0-4 10 0 6-5 2-2 4-5 2-4 3-12 5-8-1-10 3-14-1-4 3-8 3-6-2zM127-2l77 0 5 8-1 6 1 6-4 6 1 10 4 8 2 6-2 2-8-1-1-3 0-6-1-2-2 0-3 2-1 4-1 8-3 4 0 2 2 2 2-1 2-2 2 1 2 2 0 2-4 10-6 7-4 0-10-5-2 2-2 5-6 0-2-1-1-2 1-4 6-2 1-2-1-1-2-1-8-2-2-2-2-6-4-6-1-2 1-4-2-4-2-2-5 2-3 0-3-4-1-4-1-2-7-4 0-2 2-3 2 0 6 2 4 0 1-1-3-6-2-1-6 0-1-1 0-4 2-4 5-4 0-1-6 0-3-1zM147 30l-2 4 3 3 2 0 0-7zM122 37l2 0 8 3 1 2-1 1-10 2-2-1 0-4zM218 50l2-2 2 2 0 3-2 0-2-1zM166 204l22 2 4 0 6-2 30 3 2 3 2 4 5 2 3 3 4 9 2 1 4 1 9 6 3 4 1 2-3 6 2 3 10 0 4-1 2-2 2-6 6-2 0 22-183 0-3-3-2-1-4 2-4-1-2 1-1 2-42 0 2-8-2-6 0-2 3-5 2-1 8 0 6-2 8 0 4 1 6 2 14-1 10 3 4 2 2-1 1-2-1-4 2-6-1-4 1-2 6-3 3-5 6-6 13-6 12-2z"/><path fill="#e2f0ee" d="M-2-2l74 0 3 4 0 2-1 3-2 3-8 0-4 4-4 7-6 5-12 1-10 2-12-1-14 5-4 0zM148-2l46 0 0 2 4 4 1 8-4 8 2 6-2 4-1 6-3 4 0 10-6 6 0 2 6 8 0 2-1 1-8 3-10-8-6-1-4-2-5-7-1-2 2-6-1-8-3-6 0-3 3-5-1-6 2-1 4 0 2-1 2-10-4-5-2-1-4 1-6 2-1-1zM152 206l16-1 22 3 8-2 12 2 4 1 6-1 4 1 2 1 3 6 7 4 6 12 2 1 6 1 2 2 0 2-2 4 0 2 6 3 2 5 4 4 0 2-1 4-152 0-1-3-3-3-3-7 2 0 6 3 2 0 2-3 3-5 0-6 7-10 2-8 4-6 11-6zM60 243l6-2 4 0 10 4 6 0 6-1 2 0 2 2-4 7-6 0-2 2-2 3-1 4-29 0-1-4-3-10 4-5 2-1zM284 245l2 0 0 17-16 0 4-6 2-1 6 0 4-3-3-4z"/><path fill="#ceece8" d="M-2-2l64 0 0 8-1 2-4 6-3 5-4 3-6 2-20 3-10-1-16 4zM180-2l11 0-1 4-3 8-5 1-2 0-1-1-2-6 0-2zM180 15l2 0 1 1 1 4 3 6-5 6-1 4 7 10-1 4-3 2-4 0-4 2-6 0-6 2-2-1-2-3 3-6-2-6 1-3 10-14 5-3zM150 208l18-2 10 2 12 2 10-1 8 1 6 3 6-3 2 1 6 8 6 3 10 16 2 6 6 8 3 6 0 4-142 0 3-6 4-10 1-8 6-8 1-8 2-4 2-3 8-5zM68 244l4 1 7 5 1 2-1 2-5 8-14 0-4-4-1-2-3-6 1-2 3-2 8 1zM284 260l2-1 0 3-3 0z"/><path fill="#b4e2db" d="M-2-2l61 0 0 8-1 3-4 4-3 5-8 4-9 2-6 0-6 1-6-1-8 2-6-1-4 2zM168 39l4 1 2 2 0 2-6 1-1-3 0-2zM175 44l3-1 3 1-1 2-2 0zM166 208l12 2 6 0 10 2 8 0 6 2 6 3 6-3 2 0 3 6-2 6 1 1 6-2 2 0 2 2 5 7 1 8 6 8 3 8 1 4-133 0 7-16 1-8 5-6 1-8 3-6 6-6 4-2zM60 251l4 0 4 3 4-1 0 3-2 5-3 1-3-4-5-2-1-2 1-2z"/><path fill="#98d7cd" d="M-2-2l59 0 0 4-2 6-7 7-8 5-6 2-12 1-8-2-6 3-3-2-3-5-4-1zM166 210l4 0 6 4 8-2 12 4 6-1 4 1 2 2 0 6 6 8 8 1 7-3 3 1 3 3 1 2-4 2 1 2 10 14 4 8-124 0 1-7 5-5-2-6 1-4 5-6 1-8 7-12 2-2 3-1 16 0zM168 228l-4 1 0 2 2 0 2-1z"/><path fill="#79c8bc" d="M-2-2l56 0 1 4-4 6-5 5-12 6-10 1-10-2-3-2-3-2-2-5-2-2-4 0-2 1zM144 214l4-1 12 0 6-1 4 2 1 4-2 2-3 3-6 2-4 5 2 4 2 2 10-2 3-2 3-9 2-1 6 0 3-4 1-1 8 3 6-1 1 9 5 6 6 4 8 0 6 3 2 3 0 5 6 3 2 6 5 4-115 0-1-4 1-2 5-4 1-2-1-2-2-4 0-2 5-4 1-2 1-10 3-4 1-6z"/><path fill="#58b0a7" d="M-2-2l4 0-2 2-2 0zM5-2l3 0 41 0 0 6-3 4-9 6-7 3-8-1-7-4-2-2-1-7-6-2zM146 215l2 0 4 0 1 1 1 2-5 12 0 4 1 4 4 0 6 2 10-3 9-3 2-2 1-4 6-4 4-1 2 1 2 2 1 6 3 3 12 6 8 1 4 1 1 1 0 6 1 2 7 2 1 2 0 6-99 0-1-2 2-2 4 0 4-4 0-6 3-2 1-2-1-2-1 0-4 2-2 3-2-1-2-2 4-3 1-3 1-4-1-6 3-4 0-6z"/><path fill="#3b9b93" d="M15-2l3 0 26 0-2 4-5 8-7 3-4 1-4-1-5-5-2-8zM182 237l2-1 2 0 4 3 10 2 4 0 8 3 6 0 2 2 4 7 6 3 1 2 0 4-79 0 2-10 5-8 9-2 6-3zM148 257l1 1 0 2-1 2-4 0 2-4z"/><path fill="#23867e" d="M20-2l2 0 18 0-2 5-12 7-3 0-1-2-2-6zM194 244l2 0 4 1 6-1 12 4 4 6 4 4 1 2-1 2-24 0-4-2-6 1-6-3-2 1-1 3-24 0-1-6 2-3 2 1 2 5 2 2 6 1 8-4 4 0 2-4 6-6z"/><path fill="#0c7169" d="M26-2l2 0 9 0-1 2-2 2-4 1-3-3zM196 249l10 0 4 2 4-1 2 0 2 4-1 8-5 0-2-5-2-1-4 0-12 0-1-2z"/><use href="#st"/><use href="#bn"/><circle cx="181" cy="198" r="2.6" fill="none" stroke="#000" stroke-width="1.2"/><circle cx="12" cy="219" r="2.6" fill="none" stroke="#000" stroke-width="1.2"/><circle cx="15" cy="73" r="2.6" fill="none" stroke="#000" stroke-width="1.2"/></g><rect x="0.5" y="0.3" width="283" height="258.6" fill="none" stroke="#333" stroke-width="1.5"/><path d="M138 106h6M141 103v6" stroke="#444" stroke-width="1.4"/></g><text x="693" y="362.2" font-size="18.4" text-anchor="middle" textLength="175" lengthAdjust="spacingAndGlyphs">CSU WRF member 2</text><g transform="translate(1032 369.2)"><g clip-path="url(#pc)" fill-rule="evenodd"><rect x="-2" y="-2" width="287" height="263" fill="#6a3d07"/><path fill="#824b09" d="M-2-2l288 0 0 264-288 0zM128 180l-1 2 0 2 1 2 2 2 6 1 5-1 1-2-3-4-5-2z"/><path fill="#995d13" d="M-2-2l288 0 0 264-288 0zM123 178l-2 2-1 6 1 4 1 1 18 1 6-1 8 1 3-2-4-6-3-3-16-4-6 0z"/><path fill="#ad7021" d="M-2-2l288 0 0 264-288 0zM11 92l-2 6 9 3 2-3-4-7-2 0zM8 100l-6 4-1 2 1 2 6 3 2 0 2-1 0-2-2-6zM125 174l-11 4-4 2-1 2 3 4-8 3-2 3-1 2 1 1 2 1 8 1 2-1 2-3 2 0 4 1 6 0 6 2 12-2 8 0 7-2 1-2-3-6-9-7-6-1-4-1-6 0-4-2zM193 180l-3 3-3 1-1 2 0 2 12 2 3-2 3-4 0-2-2-2-6-2z"/><path fill="#c28633" d="M-2-2l288 0 0 264-288 0 0-153 12 7 4 0 10-4 1-4 1-6 1 0 1 1 1 3 4 4 0 10 1 2 2 1 2 0 4-3 6 0 6-6 0-2-12-5-7-9-13-6-2-8-10 2-5 2-3 2 0 4-4 6zM92 110l0 2 2 4 2 0 2-1 1-3-1-2zM114 136l-2 4 6 3 4 4 4-1 4 6 2 1 2-1 0-4 2-2 5-2 2-2 0-2-3-1-6 1-7 2-5-4-6-2zM73 148l-5 3-6 1-2 3-6 2-1 1 0 2 3 2 6 0 4 3 6 0 9-13 0-2-3-2zM128 164l-2 2-3 4-3 2-14 4-4 2 0 6 0 2-2 2-6 3 1 7 1 2 6 0 6-1 4 0 6-2 8-1 10 2 32-5 10 1 12-2 8 0 6-2 4-4 1-2-3-7-6-2-4-3-4 1-4 3-2-1-2 1-4 3-8 1-4 3-2-1-2-2-8-2-6-9-4 0-4-2-4 0-4-4-2 0zM90 188l2 2 1 0-1-3-2 0z"/><path fill="#cfa256" d="M-2-2l288 0 0 264-288 0 0-91 2-1-2-1 0-56 7 3 9 8 4 1 6-2 4 0 6 5 0 4 4 1 4-2 2-6 8-3 6-6 6-1 4-5 3 0-1-4-2-1-4 3-2 0-2-1-2-3-6 4-3-2-7-5-4-5-5-4-2-2 2-4-7-10-10 4-4 0-4-3-6 4-4-1zM88 108l-8 7-2 1-4-1-1 3 7 5 4 5 0 4-2 4 2 6 0 3-4-3-2 0-10 5-8-1-6 4-2 1-4-2-3 1 3 10 6 5 6 2 2 5 7 6 2 4 5 3 3-1-4-8 7-7 5-3 3-8 10-5 2-1 0-2-2-6-4-6-4-10 4-4 5-6 3-8-1-2-3-2-8 1zM110 117l-6 7-1 2 0 4-3 4 0 2 0 2 5 4 1 6 4 2 4 0 10 3 2 3 0 2-4 4-7 0-2 4-2 2-15 4-4 4-4 5-5 3 0 2 3 4 1 6 7 8 4 0 8-3 8 0 12-3 8 1 32-3 16 0 8-1 8-1 8-2 5-6 1-5-4-6-4-5-7-4-3-4-2 0-4 3-2-1 1-2-1-3-2-2-6 3-2 0-5-8-1-1-8 1-2 0-2-4-4-2-1-2-1-6-4-4-4 0-6 2-2-1-1-3 3-6 0-2-2-2-2 0-6 2-6 7-2 1-4-2-1-2 0-8-1-2-2-1zM26 148l-1 2 3 4-1 2-4 4-1 2 2 2 6 0 3-4 5 1 6-1-1-2-3-4-6-2-4-4-2-1zM1 216l-1 4 2 2 2-1 0-2-2-4zM138 158l2-1 2 3-2 1-2-1zM156 161l2-1 4 2 1 2 0 2-3 2-4 0-2-2 0-2zM170 166l2 1 0 2-2-1zM175 170l4 0 0 2-1 3-2-1-1-2z"/><path fill="#dcbc75" d="M-2-2l288 0 0 264-288 0 0-6 2 0 1-2-3-2 0-27 6 2 4-1 2-12 2-3 10-4 8 5 2 0 2-4 0-2-2-3-6-1-2-6-4-2-4 1-1 1-1 5-2 2-8 1-6-1 0-15 5 6 3 2 8-2 3-6 1-2-2-2-2-1-6 0-1-1-3-6 2-3 2-1 4 6 6-1 2 0 2 3 2 4 4 1 1-1-1-6 2-5 4-1 6 1 6-6 2 0 2 1 4 6-1 6 1 2 2 1 2-1 4-4 2 2 0 4 2 2 5 2 1 2 0 6 1 2 1 1 6 0 2 1 4 5 10 2 10-4 12-1 8-3 8 2 20-3 30 0 16-2 6-2 3-2 4-4 3-8-6-8 0-2 2-5-5-5-1-2-6-4-8 0 0-5-4-1-4-6-10 1-6 3-2-1-6-9-4 0-10-8-1-4 1-2-6-4 0-6-1-2-11-6-2-2-2-5-2-2-4 0-4-2-2 3 0 8-2 2-8-4-8 2-4-1-4-6-4 0-4 1-2-2-2-5-2 1-3 6-3 1-4-2-7-1-3-4-6 0-5-2 1-8 2-3 8 3 4 0 3-2 0-6-3-4 2-3 6 1 2 4-1 8 1 2 2 0 2-1 5-13-2-2-3-6-6-4-2 0-4 6-6 0-4 1-6 1-4 3-12 4-8 5-2 0-10-8-8 6zM80 63l-2 3 0 1 4-1 1-2-1-1zM87 88l0 2 0 2 3 2 1-2 0-4-1-1zM0 118l4 1 3 3 1 6 2 3 4 1-2 8 7 2-1 2 2 6-2 6-4 2-2 0-4-3-5 1-2 2-1 5-2 1 0-44zM59 120l9 3 2 3 1 10-2 4-3 2-6-4-8 3-2 0-2-3 6-10 2 0 4 1 1-1-1-4-1-2zM120 123l2 1-2 2-1-2zM20 140l2-1 0 1zM108 154l3 0 1 2-3 2-3 5-2 1-2 0-1-4 1-2zM202 159l2 1 0 2-2 1-1-1zM-2 176l2 2-2 1z"/><path fill="#e7cf94" d="M-2-2l273 0 0 2-2 2-5 2-2 2 1 2 7 4 2 0 4-4 6-3 2-3 2-1 0 56-2 1-1 2 3 5 0 150-3 7-1 8 2 2 2 1 0 29-288 0 0-2 4-1 4-5 2 0 6 2 2 0 3-4-4-4 0-2 2-2-1-2-10-1-1 1 0 6-1 1-2-1-2-5-2-1 0-5 1-1-1 0 0-7 4 1 4 5 8-2 4 1 2-2 2-8 2-3 2 1 2 4 4 2 2-1 1-3-4-4 3-2 4-1 10 1 2 0 2-2 2-6-2-3-10 1-2-1 0-3 4-1 2-3-3-8-5 1-2-1-1-2 1-4 0-2-4-4-1-2 1-2 2-1 8 3 3 2 9 8 1 4 5 5 6-2 6 7 0 2-1 4 2 2 2 0 5-2 8 2 8 0 8-4 14-2 8-3 8 1 20-3 34 1 14-2 6-3 7-5 2-6 4-4 0-2-2-2-4-4 1-2 8 3 6-3 4 2 1-2-1-2-3-2-3-7-2-2-5-1-3-3-1 1 2 2-1 2-2 2-2-1-2 0-4-5-6-4-1-6-3-6-2-1-4 4-2 0-4-5-2-1-9-1-3 2-2 4-2 1-2-3-1-6-7-6-8-9-6-3 0-10-4 2-3-2-3-4 2-4 0-4-2-4-5-4-11 1-8 0-4 3-7 0-3-14 2-2 6 0 4 4 6-1 4-1 0-2-1-4-3-3-6 1-3-2-1-2 1-2 7 1 0-1 0-2-5-4-3 0-4 1-6 0-6 4-2-11-2-3-2-1-3 2 0 6-3 8-3-4-1-2 3-2 1-2-1-2-5-3-4 0-2 0-3 7-3 4-2 1-6 0-4 2-6 1-8 4-12 0-2-1-4-5-16 8zM102 78l0 2 2 2 2 0 2-1 0-5-4 1zM258 148l-6 8 0 2 2 2 6-2 2-2 1-2-3-6zM227 152l1 2 0-2zM232 180l-1 4 3 4 3-8-1-2zM233 190l1 4 2 1 3-1-3-5-2-1zM90 64l2 1 1 3 1 4 0 4-2 2-4 0-6 4-2 0-1-2 0-2 4-8 5-5zM2 122l2 0 1 2 4 10-1 6 2 8-1 2-3 1-4 0-4-2 0-23 2-3zM24 189l2-1 2 2-1 2-1 1-2-1-1-2zM-2 195l1 3-1 1z"/><path fill="#f1dfb3" d="M-2-2l268 0-2 2-8 2-2 2-2 6 0 2 2 2 6 1 4 4 12-1 2 0 8-6 0 30-2-4-2 0-8 2-6-2-2 3-2 7 5 10-1 3-3 3 1 2 4 2 6-5 10 8 0 139-3 2-3 5-2 0-1-5-3-2-4 1-1 3 2 12 1 1 5 1 5 6 4 1 0 27-257 0-5-14 1-6 1-12 4 3 2 0 5-3 3-6 2-1 13-1 5-4 20-6 18 0 6-3 4 0 18-6 8 1 20-4 32 2 10-1 12-4 8-4 6 1 6 0 4 4 4 1 8-1 2-2 2-1 6 5 3 6 3 3 2 0 6-7 0-2-1-4-1-2-4-3-2-6-4 2-2 0-3-3 0-2 6-10 1-6 4-1 3 1 3 3 2-3-2-8 3-8-1-4 6-8-1-2-5-3-8 1-4 2-2 2 0 6-1 2-3 3-4-1-1 6-1 3-6-3-4 0-1-2 1-2 3-2-2-2-4-2-1-2 2-1 2-2 12-6 6 0 4-4 0-2-4 0-7-5-1-3-1 3-3 3-2 1-2-2-3 0 2 4-3 5-2 1-4 0-4 0-5 2-7 5-4 1-9-8-3-5-2-1-4 3-2-1-3-2-3-1-6 2-4-2-8 0-3-3-5-6-8-6-1-2 1-10-9-8 0-2 3-6-2-3-3-3 5-6 0-4-4-8-4 0-6 3-2-1-10-5-7-5-7-3-10 1-2-2 1-4-2-2-5-4-7-2-11-2-4 2-3 14-3 3-12 4-8-2-12 3-2 1-2-1 1-4-1-2-4 0-8 5-4 0-6 1zM253 48l-1 2 2 1 2 0 3-1 1-2-2-1-2 0zM230 58l2 10-1 4 1 2 10 5 4-1 2-4-4-6-4-3-4-7-2-1zM251 82l-2 2 1 1 2 1 3-2-2-2zM226 94l-2 6 1 2 7 0 3-2-1-2-2-2-2-1zM238 103l-2 3 0 3 2 1 2 0 2-2-2-4zM268 171l0 3 2 1 1-1-1-3zM276 184l0 2 2 1 2-1 2-2-2-1zM286 45l0 1 0 6-2-2zM278 55l0 1 0 1 0-1zM114 80l3 0-1 2-2-1zM2 125l2 2 3 9-1 10-2 3-2-1-2-1-2-5 3-14zM246 161l2 1 1 6-3 4-4 2-2-3 0-5 1-2zM58 204l2-1 1 1-1 1zM6 259l2 0 3 3-8 0z"/><path fill="#f6eacb" d="M-2-2l249 0-3 5-6 1-2 2 2 8 3 8 2 6-1 8 2 4 1 4 3 4-1 2-1 2-4 3-6-3-6 1-5 3 1 8-6 5-4 7 0 2 2 2 6 2-1 2-5 2-6 1-4 3-1 2 4 6 0 4-4 10-7 1-4 8-4-1-6 4-18 0-3-2-13-11-1-3 1-8-1-4-6-4-1-2 2-6-3-6-1-2 3-6-2-8 1-8-2-3-4 1-3 4-7 2-2 0-10-4-6-4-4-2-12-7-5-5-1-2 2-4-2 0-4 2-6 1-14-4-4 1-2 2-2 16-1 2-3 2-8 2-6-3-10 1-14-7-16 8zM209 40l1 3 3-1-1-2zM223 44l1 2 3-2-3-1zM286 19l0 15-2-1-6 2-2 0-4-5-6 2-4 4-2 0-4-4-4 0-5-4 0-2 3-2 14 0 6-2 3 0 5 3 2 0zM254 56l2 2 0 2-2 2-3-4zM254 62l2 2-1 2-1 3-2 1-2-2zM228 78l2 0 6 4 2 2-2 4-2 1-2 0-6-5-2-2zM274 80l2 0 1 2 3 5 2 0 4 0 0 41-8 2-8-2-4 0-6-12-2-2-2 0-4 3-6-8-2-5 0-2 2-1 2-1 3 4 1 6 4 2 2-1 1-3 0-4 5-7 2-2 4 1 1-2-1-4-1-2 0-2zM276 98l-3 4-3 2-1 2 1 3 2 0 2-5 4-4zM228 106l2 0 1 2 0 2-3 5-4 2-2-2-1-5 1-2zM215 126l5-2 2 2 0 3-2 2-3-1-2-2zM2 132l2 0 1 4-1 8-2 1-2-5zM209 132l1 0 0 1zM283 136l3-1 0 3-2-1zM282 146l4-2 0 32-6-2-2 0-1-4 7-4 0-2-2-2-2 0-4 2-1-10 1-2 5-2zM286 187l0 1 0 3-2-1 1-2zM216 195l6 3 6 1 6 3 6 0 4 2 12 12 4 1 6 6 2 7 2 1 6 1 5 4 5 1 0 25-252 0-4-8-1-10 4-6 1-2 14-11 8 0 4-3 8-1 14-5 26-5 6-3 12-3 8 0 10-2 10-1 30 1 10-1 16-4zM78 222l0 2 2 1 2-1 1-2-1-2z"/><path fill="#f5f0e0" d="M-2-2l74 0 1 4 4 6-1 2 2 1 1-1-1-12 33 0 0 4 1 2 2-1 9-5 118 0-3 1-4 2-4 6-7 1-1 12-4 6 2 2 7 0-1 4-2 2-6-1-4 2-8 0-2 3 0 4 3 6 3 2 4 1 2 8 4 0 2 3-2 2-2 1-4-2-2 1-5 8 1 6-2 1-6-3-4 2-1 4 1 2 6 5 1 5 3 4-1 2-5 0-2 2-3 6-4 4-2 4-3 3-4 2-12 0-4-2-6-5-3-6 0-6 3-5 2-1 6 1 4-2 4-2 2-1 0-2-1-2-7-4-2-5-2-2-6 1-4-2-6 0-2-2-2-12 0-8-2-5-8-2-4 5-2 0-8 1-4-1-15-10-1-2-1-4-1-1-4-1-2-6-2-1-6 0-6 2-4 0-2-1-2-6-2-1-12 5-4 4-1 2 1 6-2 6 0 4-2 2-6 1-4-2-14-2-4-2-4-5-2 0-6 1-6-2-2 1-2 6-2 1zM102 3l-9 5 0 2 3 5 2 0 6-7 1-2-1-2zM197 66l-2 2 0 2 3 2 2 0 2-2 0-2-2-2zM155 84l5-3 2 3 0 3-2 2-5-3zM282 105l2 1 0 2-2 4-2 1-2-1 0-2 0-2zM194 204l22-5 2 0 4 3 16 4 6 4 1 2-1 4 1 2 7 1 6 7 4 1 1 1-2 4 0 2 5 8 8 3 6 0 2 0 2-5 2-1 0 8-4 0-1 5-1 2 3 4-1 4-246 0 0-8-2-6 1-4 4-8 3-3 8-5 6 0 6-2 8 4 10 2 4-3 8-11 16-4 18-8 8 1 10-3 8-1 20 0 10 1z"/><path fill="#f4f5f5" d="M-2-2l71 0 0 6 1 4 0 2-3 4-1 4-2 2-11 6-7 8-3 2 1 4 2 4-2 2-6-1-3-1-5-6-2 0-2 1-2 0-4-3-10 2-8-3-4 3zM131-2l85 0-1 8-3 2-2 6 0 3 2 3 4-4 1 2 0 2-5 4-6 0-4 2-3 14 1 8 2 3 6 4 2 5-2 3-2 1-7-6-3-1-3 1 0 2 1 2-1 2-5 3-1 13-3 6-4 0-6-4-2-2 0-6-2-2-4 0-6 2-6-2-5-8 1-6-2-10-2-2-4-2-6-8-2 0-6 9-6-1-4 2-2-2 0-2-2-2-7-2-1-6-2-2-4-1-1-1 1-4 3-2-1-4 2-4 2-1 6 3 6-2 2-3 1-5 2-2 7-4zM104 24l0 2 2 1 0-1zM172 48l0 2 5 0-2-2zM90 21l0 1-1 0zM188 87l4 1 2 2-1 8-1 4-8 6-1 4 1 2-6 3-8 1-6-3-1-3 1-3 14-9 5-8 3-4zM180 206l36-4 8 5 10 1 4 2 6 10 5 2 2 2-2 4 1 3 2 1 4 1 4 5 3 12 5 0 3 2 0 6 0 4-163 0 1-2-1-3-2 1-1 4-67 0 1-10-2-4 1-4 4-8 8-5 12-2 2 0 10 4 6 5 11 0 7 6 8 4 2-1 2-2 1-3 2-10-1-1-4-1-2-1-2-3 0-4 2-4 7-4 13-6 6 1 16-4 24 0zM96 232l3 2-1 1-3-1zM106 236l2-2 2 2-2 1z"/><path fill="#e2f0ee" d="M-2-2l4 0 65 0-1 10-4 4-2 6-4 2-6-2-2 2-3 6-3 2-8 0-12 3-6 1-6 3-6-2-6-1zM135-2l64 0-2 4-3 4-3 2-1 2 1 4 0 8 4 6-3 4-1 4 3 8-2 4-1 0 1 4-6 4-2 6-1 2-1 8-2 8-2 0-2-2-1-10 6-6 5-12 3-2-9-6-12 1-1-1 3-2 0-2-6-4 0-2 2-6 2-3 1-3-1-2-2-3-8 1-4-3-6-1-4-3-2 0 0 3 4 2 2 2-1 2-3 4-6 4-4 4-4 0-2-1-1-3 1-2 5-4 0-2-6-6-2-4 1-2 6-1 2-3zM206 0l2 1 1 3-3 3-2 0-1-3 1-3zM200 15l3 1 1 2-2 2-2-1-2-3zM146 27l2 0 5 3 2 2 0 2-3 2-4-1-3-5zM158 43l7 1-1 2-2 2-2 0-3-4zM172 107l2 0 4 0 1 3-1 2-2 1-5-1-1-2zM148 206l24 0 8 2 36-3 8 5 10 1 11 13 2 8 2 4 5 2 4 5 1 5-3 6 0 4-1 4-142 0 0-4-2-6 2-4 2-8 4-6 1-8-3-8 9-7 6 0zM62 232l10 3 5 5 3 1 6-1 4 2 7 6-1 4 3 4 0 6-59 0 2-10-2-6 3-8 5-4z"/><path fill="#ceece8" d="M-2-2l65 0 0 6-1 4-4 5-2 1-6 0-10 8-20 6-8 0-4 3-2-1-8-2zM143-2l20 0 3 3 2 1 3-2 0-2 9 0 4 4 0 2-2 2-1 2 0 6 1 2 4 2 3 6-1 4-4 3-8 2-4-1-1-2 1-8-2-7-2-3-2-2-6 1-2-1zM180 21l-3 3 1 2 2 0 2-2 0-2 0-1zM192-2l2 0 1 0-1 1-2 0zM144 208l8-1 18 1 10 2 34-4 4 1 6 6 8 1 6 6 4 8-2 6 1 4 7 4 0 6-4 4 1 6 0 4-127 0-1-8 0-12 7-8 1-14 1-4 2-2zM56 237l8-2 6 1 8 7 6 2 6 3 3 8 0 6-50 0 1-14 4-10 2-1z"/><path fill="#b4e2db" d="M-2-2l61 0 0 2-1 6-6 3-14 10-18 6-4 0-6-1-4 3-2 0-6-2zM150 208l20 2 10 2 12-1 6 0 14-3 4 0 14 14 0 8 2 1 4 1 0 10 3 6 1 10 2 4-118 0-3-10 0-6 1-4 8-12-1-8 1-4 6-6zM62 238l6 0 4 5 16 11-6 8-27 0-2-2-5-2-1-2 2-4-1-4 2-4 2-2 6 0z"/><path fill="#98d7cd" d="M-2-2l4 0 54 0 0 4-2 2-4 2-8 7-6 3-8 3-10 3-10-1-10 1zM148 210l22 2 10 3 4-1 14 0 4-2 12-2 3 4 5 4 4 6 0 2-6 4 0 2 2 2 10 6 5 14 0 8-109 0-3-6-1-6 2-6 3-4 1-4 3-4 0-14 3-4zM56 246l12-1 2 1 3 2 3 5 3 1 0 2-3 1-1 5-17 0 2-8-5-4-1-2z"/><path fill="#79c8bc" d="M-2-2l4 0 52 0-2 4-6 2-8 8-10 4-10 3-10-2-10 2zM138 214l12-3 10 1 10 2 4 2 0 2-6 4-4 6-4 4 0 2 6 0 6 5 4-2 4-4 6-3 1-2-2-8 1-1 6-2 6 0 6-2 6 1 2 2 6 1 1 1-1 3-2 0-2-2-2 0 0 1 0 4 4 1-2 4-4-3-2 0-2 2 1 2 3 2 4 0 16 7 5 15-2 6-101 0-1-4 1-2 3-2-1-1-5-3-1-2 6-4 1-2-1-4 2-6-1-14zM66 261l4 0 1 1-7 0z"/><path fill="#58b0a7" d="M-2-2l32 0 2 2 6 0 4-2 0 2-2 2-4 7-10 5-8 2-14-6-6 3zM139 216l11-3 8 1 3 2 3 4-2 4-4 4-4 8-4 1-4 6-2 0-5-5-2-18zM192 222l4 0 3 2 5 9 8 7 7 2 7 1 2 1 4 12-2 6-89 0 0-4 2-2-3-6 0-2 4-2 4 0 10-4 4 0 4 2 10-3 10-5 4-4 1-2-1-6z"/><path fill="#3b9b93" d="M-2-2l5 0-5 3zM22-2l5 0 3 8-1 2-5 2-3-8zM150 216l6 2 1 2-4 6-5 2-6-2-2-2-1-4 1-2zM196 228l1 2-1 1-1-1zM200 241l6-1 18 7 6 9-2 6-46 0-4-1-9 1 0-4-1-3-2 1-4 5-2-1-3-4 1-3 4-3 4 1 6-4 4 0 4-2 2 1 1 4 1 1 4-3 4-7 4 0z"/><path fill="#23867e" d="M208 246l6 0 8 3 3 5 1 8-30 0 4-6-1-2-3-2 1-2z"/><path fill="#0c7169" d="M210 249l4-1 4 2 2 2 4 10-23 0 3-8z"/><path fill="#015f56" d="M210 253l4 0 1 1-3 6-2 0-3-2 1-3z"/><use href="#st"/><use href="#bn"/><circle cx="141" cy="198" r="2.6" fill="none" stroke="#000" stroke-width="1.2"/><circle cx="183" cy="197" r="2.6" fill="none" stroke="#000" stroke-width="1.2"/></g><rect x="0.5" y="0.3" width="283" height="258.6" fill="none" stroke="#333" stroke-width="1.5"/><path d="M138 106h6M141 103v6" stroke="#444" stroke-width="1.4"/></g><text x="1174" y="362.2" font-size="18.4" text-anchor="middle" textLength="175" lengthAdjust="spacingAndGlyphs">CSU WRF member 3</text><g transform="translate(71 657)"><g clip-path="url(#pc)" fill-rule="evenodd"><rect x="-2" y="-2" width="287" height="263" fill="#6a3d07"/><path fill="#824b09" d="M-2-2l288 0 0 264-288 0zM126 184l-4 2 1 2 3 2 6 2 2 0 3-2 0-2-3-3-4-1zM157 188l0 2 2 0 0-2z"/><path fill="#995d13" d="M-2-2l288 0 0 264-288 0zM134 175l-8 4-2 0-4-1-5 2-2 2 1 6 2 2 6 1 4 2 6 2 18-4 8 3 10-3 1-1 0-2-1-1-8-4-6 0-6-4-8 0-2-1-2-2z"/><path fill="#ad7021" d="M-2-2l288 0 0 264-288 0 0-151 10-1 3-2-1-2-8-4-4-1zM58 152l-3 4 0 4 3 2 4 0 2-2 0-2 0-6-2-1zM65 162l-1 2 1 2 5 0 0-3-2-1zM134 171l-8 3-4-1-8 4-8-1-4 3-4 0-3 3 0 4 3 5 10-2 2 0 2 5 2 2 6-3 6 3 6 0 8 0 10-2 6 1 14 0 8-5 2-4 2 1 4 0 4-1 0-1 10 3 1-2-1-6-2-1-4 2-4 3-2 0-4-4-2 0-4 4-4 0-18-5-6-3-8 0-6-5z"/><path fill="#c28633" d="M-2-2l288 0 0 264-288 0 0-147 12-1 4-1 5-9 2-12 2-2-1-1-2 1 0 2-3 2-2 6-3 2-14-3zM39 106l-5 2-4-1 2 10 6 0 7-5 1-2-1-2-3-2zM20 116l2 3 2 0 2-1-2-3-2 0zM114 130l0 3 2 2 4 1 4-2-1-2-3-2-4-1zM120 144l2 1 4 1 4 5 3-1 1-2-6-5-6 0zM138 144l0 2 4 4 2 1 2-1 0-4-4-2zM62 147l-8 5-3 4 1 6 2 5 2 2 2 1 12-1 3-3 1-6-5-4-4-8zM27 158l-1 2 2 2 2-2 0-2zM180 166l-2 4 1 6-3 3-2 0-16-2-6-5-8 0-6-4-4-1-12 1-8 5-6-2-4 1-4-2-4 0-8 6 2 4-1 2-1 1-3 1 1 8 1 2 9 3 6-2 6 4 4 1 8-2 18 0 10-2 22 1 14-5 6 1 4-2 6 1 4-1 1-3-1-6-2-6-4-2-6 2-3 0-1-2 0-4-1-2-5-4zM26 167l-1 3 1 2 2 0 1-2-1-4z"/><path fill="#cfa256" d="M-2-2l288 0 0 264-288 0 0-44 2-2 3-14-1-1-4 0 0-81 4-2 4 0 6 3 6 0 2 1 2 3 10-1 10 2 7-2 4-4 6-4 0-2-3-4 2-2 2 0 1-2-1-1-4 0-2-1-1-2 0-4-2-2-5 0-4-3-3 1-1 2 2 1 6 2 3 3 1 2-2 1-6-4-2-1-6 2 0-2 3-4-1 0-4-8-4 0-6-4-8 2-2-2-2-6-2-1-10 3zM86 106l-4 10 0 4-6 3-1 3 1 4 4 6 1 4 1 0 2-2 2 0 4 1 8-5 3-4 0-2-1-2-2 0 3-6-1-3-2-1-6 0-4-6 2-4-2-1zM128 114l-10 4-4 4-4 1-2 3-2 4 2 4 0 4 4 2 2 6 2 2 8 3 4 5 10-2 6 4 6 0 1 2 0 2-5 0-6 3-6-2-6 2-10 0-4 2-12-3-4 3-12 3-4 8-2 1-6-2-1 3 1 2 4 1 1 1 1 4 0 6 1 2 7 2 4 2 8 0 8 3 20-4 10 1 10-2 16 0 6 0 14-3 6 1 6-3 6 2 6-3 1-2-2-6 0-6-1-4-8-8-4-2-6-1-1-3 1-4-1-2-5-1-4 1-1 2-1 5-2 0-1-1-1-6-6-2-2-2-2 0-1 4-1 2-4-1-4-5 0-8-4-6-2 0 0 2-2 2-2 0-3-2-5-6-3-16zM53 144l-1 4-2 2-8 2-2 2-1 4 5 3 1 3 7 7 6 4 6-3 6 1 2-1 3-4 5-10 4-2 1-2-1-2-6-6-8 3-6-4-8-2zM24 152l-3 2 0 18 1 4 2 2 4 0 2-1 6-19-4-5-2-1zM17 190l-1 2 1 2 3 1 2 0-2-5zM0 89l4 3 0 3-2 1-4-1 0-6zM46 117l1 1-1 1-1-1zM96 126l2 0-2 1zM158 163l2-1 4 3 6 1 2 2-1 2-6 4-5 1-2-1-2-8z"/><path fill="#dcbc75" d="M-2-2l288 0 0 264-288 0 0-23 4 0 4-2 1-1 1-6 6-4 3-6 0-2-3-2-7-2 1-10 3-4 5-1 3 1 3 4 4-3 2 0 2 4 2 1 2-1 1-1 0-2-5-4-3-6 1-2 6-2 4-3 12 2 5 9 3 1 2 0 4-4 6-5 2 1 2 1 0 2-2 6 0 2 6 2 8-2 4 4 2 1 6-2 10 2 22-4 8 0 20-2 12 1 6-2 14 0 6-2 6 1 8-3 3-4 0-2-3-4 0-10 0-10-1-2-7-5-3 3-3 0-3-2 0-4-1-2-8-2-6-5-4 3-4 1-5-5-9-3-4-7-4-3-4 0-4 1-2-2-2-16-5-6-1-2-2-2-2 6-4 2-2-1 0-5 2-8 4-2 1-2-1-2-4-4-3 0 0 2 0 6-7 9-8 1-6 5-2 0-1-1 0-2 3-4 2-6-2-1-15 5-5 4-2 0-4-2-4 1-6-4-4-2-5-7-1-4-2-2-6 1-10-5-6 2-2-2-1-2 2-2-1-3-2 1-3 4-3 1-2 0-4-5-4-3-6 0-4 0zM76 53l-12 5-6 6-6-2-4 1-4 3-4 5-4 2 0 3 2 1 4-2 10 3 6-3 2 0 2 2 2-1-3-6 1-1 4-1 6 2 6-2 6 1 2 2 4 5 2-1 2-3 1-2-1-1-9-3 0-6-5-6zM134 95l-4 3 3 2 3 0 1-2-1-2zM64 204l-1 2 1 2 2 1 2-1 0-2-1-2-1-1zM66 107l2 0 3 7 0 2-1 2-2-1-3-3 0-4zM0 123l2-1 4 0 6 4 1 4 2 4-4 4 0 2 3 2 4 1 2-5 6-3 1 3-2 6-1 2-4 0-4 8-2 1-4 0-5 3 0 6-3 4 1 6 3 2 2-1 1-5 3-2 4 2 1 2-5 8 1 4-5 5-4 1-2 2-2 4-2 1 0-70zM62 123l6 0 2 1 4 16-4 3-4 0-10-5-6-1-3-3 3-4zM38 137l2-1 2 2-2 3-2-1zM104 146l6 1 3 3 1 4-2 6-3 0-5-6-1-4zM94 159l2 3-1 2-1 0-2 0-1-2 1-2zM38 166l2 1 4 4 3 1 1 2 0 2-6 3-2 0-4-3-1-2 0-2zM64 179l3 1 1 2-1 2-3 0-5-2zM16 184l2-1 1 1-1 1zM0 224l-2 2 0-3z"/><path fill="#e7cf94" d="M-2-2l257 0 1 2 2-2 26 0 2 2 0 194-3 2-1 2 1 2 3 2 0 60-288 0 0-16 4 1 4 2 2 0 2-3 6 2 1-2 3-2 6 3 2-1 1-4 0-8 10-18-1-6 5-6 0-2-3-6 4-4 4 0 4 6 5 4 0 4-4 4 0 2 3 2 2 0 4-2 6 0 6-5 6 3 4-1 8 1 8-4 10 1 20-5 8 0 20-2 12 1 6-1 12 0 8-2 6 0 8-2 4-3 2-3 3-10-5-4-1-2 4-4 7-10-1-2-5-3-6 0-8-2-6-5-4 1-3-1-11-11-2-1-8 5-6-3-6-1-2-1-6-8 0-2 2-4-1-2-2-2-6-4 1-6 4-3 2-5-1-2-4-2-4-12-3-2-8 0-4 3-4-1-3-4-1-8 1-6-1-2-4-1-6 2-1-5-5-1-4-3-8 2-2 0-2-2-3-6-3-2-12 0-12 9-8 3-2 0-4-2-2 0-4 6-4 2 0 4-2 2-6 0-2 0-4 3-2 0-3-3 0-2 2-2-1-4-4-2-6 1-6-3zM269 44l3 2 6 3 0-5-6-2zM264 60l-1 2 1 2 4 0 2-2 0-2-2-1zM272 71l-6 3-1 2 1 1 4-1 2-2zM226 116l-1 2 1 2 4 0 1-2-1-3-2-1zM249 144l-1 2 2 2 4 1 2-3-2-2zM251 192l0 2 1 1 3-1 0-2-1-1-2-1zM47 208l-3 2 0 2 2 2 3-2 1-2-2-2zM16 249l-2 5-3 2-1 2 4 0 4-4 1-2-1-2zM80 74l4 0 1 2 0 4-1 1-2 0-4-3-2 1-1 5 3 6-1 2-7 5-3 1-1-2 0-4-3-6 1-2 4-4 2-5 6 0zM90 86l10-5 6 3 4-1 2 0 2 3 2 4-1 4-1 2-4 3-2-1-1-6-1-2-2-1-6 4-10 5-5-2 0-2 5-2zM58 87l1 1-1 2-1-2zM2 125l2 0 3 1 2 6-1 8 2 6-2 4-4 3-4-2-2-3 1-8 0-8 1-4zM28 212l3 2 2 4 0 2-5 2-2-1-3-5 1-3zM20 231l0 1-1 0zM6 244l2-1 2 1-2 1-2 0z"/><path fill="#f1dfb3" d="M-2-2l252 0 3 8-1 2-6-3-4 1-1 2 1 4 4 5 2 0 4-3 6-1 10-9 2 0 6 4 2 4 3 2 1 4 4-1 0 31-3-8-6-8-3-2-2 0-2 1-2 5-2 1-2-1-4-4 0-2 2-4-2-2-10-2-2 1-2 4-4 2-1 3 5 3 0 3-3 4 1 2 1 2 7 2 2-1 1-7 1-2 2 0 2 6 4 4 1 2-1 2-4 3-3 3 0 4 2 8 0 6 1 4 6 1 8-1 2-3 1-5 0-4-2-4 1-4 6-3 2 0 2 4 0 76-8-1-4 4-2 0-6-1-6 4-10-3-2-2 0-5-2-2 0 1-6 4-2-1-1-1 0-2 3-3 2 0 4 0 1-3-3-4 0-2 4-4 0-4-1-2-5-1-3-1 2-6-4-4-1-2 4-2 8 0 4-7 1-1 1-2-1-2 3-6-1-2-3-1-3 1-1 2 1 4-1 2-3 2-3 0-4-2-2 0-14 16-4-4-2 2-1 10 1 2 5 2 1 2-1 6 1 6-4 3-7 9-1 4-2-1-8 4-4-1-4-5-6 2-2-3 0-4-2-2-4-2-4 1-4 5-2 1-10-2-4-5 3-8-2-10 1-8 0-2-7-10-1-4-1-2-7-6-2-1-4 1-10 1-1-3 1-5 2-2 9-1 0-2-9-6-4 2-2-1-10-4-6-5-2-1-8 3-4 0-2-2-2-6-2-2-4-1-8 0-4-3-1-4-3-1-3 1-2 2-1 4 0 6-1 2-9 6-10 0-4 4-2 0-6-4-1 2-3 2-4-2-10-1-3-1-1-4-2-2-2-4-2-2zM239 54l-7 3-4 0-5 3 0 2 1 4 6 10 2 1 4 0 3-3-3-6 0-4 1-2 6-4 0-2-1-2zM255 84l1 1 1-1-1 0zM266 116l-8 1-2 1 2 2 9-2zM284 6l2-1 0 9-3-4zM22 63l4 3 0 2-2 0-2-1zM94 88l2-1 2 1-2 2zM226 125l4 0 2 3 1 4 0 2-1 1-4 0-2-1-2-8zM4 128l2 4 1 14-1 2-2 1-2 0-1-3-1-12 2-5zM274 144l8 4 2 5 2 2 0 37-8-1-8-6-8 5-4-1-2-3 1-6-3-4 3-6 0-2-3-2-1-2 5-6 2-1 4 0 4-1 1-2 1-6 2-3zM238 151l1 1-1 1-1-1zM230 158l4-2 2 1 2 2 2 1 4-1 2 3 0 2-4 4 1 4-5 4-1 6 1 2 2 0 6-4 2 2 1 4-3 6-2 1-4 1-1 2 3 0 2-1 2 0 4 5 12-4 4 4-2 1-6 0-2 3 4 5 4 2 4-6 6-1 6 2 1 8-1 4 2 2 4-1 0 43-269 0 3-3 4-1 6-6 1-2 2-8 3-8 18-16 8-1 12-5 6 3 4 5 2-1 6-5 8-5 12-1 18-4 8 0 20-3 12 1 24-2 6 1 10-3 4-2 4-4 5-10-1-8 0-4 2-6z"/><path fill="#f6eacb" d="M-2-2l94 0 2 2 2 1 1-3 150 0-2 2-5 1-2 3-1 4-4 4 1 4 3 6-1 8-1 2 1 4-2 8 1 6-2 2-3 0-6-5-2-5-2-1-4 3 0 6 3 6-2 4 1 4-2 2 4 10 0 2-2 2-4 2-3 4-4 2 0 2 2 4 0 8-1 2-4 1 0 1 0 3 2 1 2 0 5 8 0 2-1 8-2 2-5 2-1 4-2 1-2 0-10-7-6-2-8-4-2 0-6 6-8 0-2-2 3-8-3-10 5-10-5-2-2-3-1-1 2-6-2-6-1-1-6 0-2-2-3-3 0-4 4-8-3-7-2-2-2 1-4 2-4 0-8-4-6 2-8-2-3-4-5-2-8 2-2 0-2-3-3-7-2-10-1-1-6-1 2-2 0-2-2-1-4-1-4 1-3 3-3 5-9 5-2 8-5 8-2 2-8-1-4 1-1-2-9-6-4 0-4 1-4-4-4 1-6-4-4 0zM220 22l0 2 1 2 7 7 4 0 2-1-2-1-4-9-4-1zM274 15l3 1 0 2-1 2-6 4-2 0-2-2 0-2zM282 28l4 0 0 6-4-4zM286 67l0 9-2 0 0-6zM284 76l2 1 0 52-4 2-2-1-4-3-9 3-5 3-2-1 3-8 7-3 6 1 2-1 4-2 1-3-1-2-2 0-6 2-2-1-6-7-2 0-4 3-4-4-4-1-1-2 0-2 1-2 2 1 2-1-1-4 1-4 8-1 4-4 12-1 2-2zM3 134l1 0 0 3zM276 154l3 4 7 2 0 19-1 1 1 3 0 7-7-2-5-6-6-4-1-2 0-6 2-6 5-10zM232 162l4 8-2 2-4 1-2-1-1-4 3-5zM232 192l2 1 1 3 2 2 7 2 9 8 2 8 5 8 12 4 7-2 5 4 2 0 0 32-261 0 3-1 3-5 3-3 3-9 4-8 4-6 13-8 6-1 6-3 4-1 2 1 3 4 5 1 2 0 8-7 6-3 12-2 18-6 8 0 20-3 14 2 22-2 8 0 10-3 8-4 6 3 2 0z"/><path fill="#f5f0e0" d="M-2-2l87 0 5 3 1 3-3 7-10 2-2 5-2 1-6 0-4-5-2 1 0 7-8 8-7 4-2 2 3 10-2 4-4 2-3-2-1-5-2-1-4 2-2-1-10-6-8-1-6 1-4-1-4 0zM107-2l111 0 0 2 2 1 2-3 13 0-3 4-6 2 0 2 3 2 0 8-9 1-3 3-1 4 1 4 5 4 0 2-2 1-4 4-2-1 3-4 0-2-1-2-4 0-9 10 0 4 1 6 2 2 6 0 1 2-1 4-6 6-2 0-2-2-2 0-2 1-5 3-1 4-6 1-2 3-1 2 1 1 8 2 2 3 0 6-1 6 0 2 4 2 0 4 3 6-2 6-5 4 0 2 1 6-10-2-4-3-6-1-4 2-2 4-2 1-3-1 0-2 3-4-1-4 2-16-2-6 2-4 0-2-3-6-13-14 0-4 1-6-4-5-6-3-2 1-6 3-2 0-6-3-10 0-12-5-10 0-2-2-1-4 1-4-1-4 1-8 3-4 0-4 6-4 3-7 4-3zM216 6l-4 1-1 1 1 5 2 1 5-4 0-2zM212 70l2 2-2 2-1 0-1-2zM286 85l0 1 0 9-3-1-2-2 2-4zM200 93l2-1 1 2-1 2-3 0zM282 167l4 0 0 8-6 2-2-1 0-2 3-6zM232 199l2 0 7 3 5 4 2 4-1 6 11 12 2 1 6 1 4 2 6 1 6 2 4-1 0 28-250 0 0-2 3-4 0-10 3-6 4-4 6-4 5-6 3-1 8 0 4-1 4 2 10 0 2 0 4-5 4-3 36-12 8 0 18-3 14 2 20-2 10 1 14-3 6 1 6 1z"/><path fill="#f4f5f5" d="M-2-2l69 0 1 4-2 4-6 4-2 6-7 6-1 3-6 1-8 8-4 3-2 0-10-4-12 3-10-1zM74-2l6 0 0 4-4 2-2 0-1-2 0-2zM122-2l4 0-2 2zM135-2l69 0 0 4-4 3 0 7 2 2 4-1 2 11-3 4-2 6-3 2-7 2-1 2 5 4 1 4 3 6 0 2-9-1-6 1-5 10-2 6-7 6-2 1-7-3-3-6-5-4-1-2 2-6 5-4 1-2-1-2-7 1-6-3-2-1-3-5-3-1-2 0-2 1-1 6-1 1-10-2-6 2-9-3-8-4-2-2-1-6 0-2 5-4 2-4-3-8 6-8 2 0 4 1 6 0 4 2 12-1 4-6-5-4zM152 12l0 4 2 2 2-2-1-4-1-2zM149 30l0 2 1 2 2 1 2-3 1-2-3-1zM180 83l2-1 4 2 2 2 1 2-3 6-2 1-4 1-2-1-1-1 1-6zM192 108l2-1 1 1-1 1zM176 112l3 0 0 2-3 2-2-2zM158 204l14 2 32-1 12-2 6 2 8 1 6-2 2 0 4 3 2 3-1 6 0 2 8 10 7 5 6 0 6 4 12 3 4 0 0 22-34 0-2-2-2 0-4 2-141 0-1-1-1 1-58 0-2-14 1-4 2-3 6-2 10-11 4 0 14 4 4-1 10 7 2 1 4-5-5-8 0-2 1-2 2-1 4 0 10-3 12-7 9-3 9 0zM263 252l-2 2 0 2 3 3 2 0 2-5-2-2z"/><path fill="#e2f0ee" d="M-2-2l4 0 59 0-5 15-20 14-30 5-8 0zM159-2l30 0-1 4-3 4 0 2 6 2 5 7 6 4 0 3-2 4-8 3-6-1-4 6-4 3-10-3 0-6-2-2-6-4 0-2 0-6-2-12zM142 9l2-1 2 2-1 2-1 1-2 0-1-1zM116 18l4-2 8 1 1 1-4 8 4 4 1 4-6 8-6 4-6-2-6-10 0-2 6-8 1-4zM142 33l1 1-1 1-1-1zM158 33l4 0 5 3 1 4-1 2-5 3-8 1-3-2zM170 41l2 7 3 4-1 2-6 1-2-1 0-4 3-4 0-4zM160 60l2-1 1 1-1 3-2 0-1-1zM152 206l8-1 10 3 12 0 34-2 22 5 1 1 0 4 6 14 1 2 6 1 7 11-3 3-6 1-2 1-7 13-134 0-3-5-4-2-2 2-1 5-50 0-1-6-1-10 5-3 10-11 2-1 4 2 6 1 4 2 8 2 12 9 6 4 2-1 4-2 6-8 3-6-1-2-4-1-6 2-2-3 0-2 2-3 4 0 2-1 3-6 9-6 8-3 8 0zM280 254l6 0 0 8-17 0 1-2 6-2z"/><path fill="#ceece8" d="M-2-2l57 0 1 8-3 6-19 12-14 4-18 2-4-1zM164-2l14 0 0 13-5 3-1 6-1 2-3 1-4-1-1-4 0-4 1-3 6-3 1-2 0-2-7-4zM182 16l4-1 2 1 0 4-6 0-1-2zM178 26l0 2 0 1-1-3zM111 32l5-3 2 1-1 6 2 2-1 1-8-5zM160 38l0 2-1 0zM148 208l12-2 10 3 16 1 16-2 12 1 9 3 3 2 8 1 3 5 1 4 2 4 2 6 2 2 6 2 1 2-6 4-2 8-4 6-1 4-128 0-1-8 1-2 14-18-1-6-4-6 0-2 1-2 4-4 6-2 10-2zM58 237l2-1 10 1 6 4 4 0 2 1 7 6 3 4 2 6-1 4-43 0-2-6 1-6zM282 258l1 4-7 0 4-4z"/><path fill="#b4e2db" d="M-2-2l54 0 1 8-5 7-7 3-9 6-6 1-6 3-18 1-4-1zM154 208l8 0 8 2 14 3 6-1 8-2 4 0 16 5 6 4 8 1 0 2-1 4 1 2 4 1 2 1 1 4-2 8 0 4 2 6-4 10-119 0-3-4 1-4 4-4 8-14 1-4-1-4-3-6 0-4 3-2 5-2zM225 230l1 2 2 0 1-2-1-2zM66 240l4 1 5 5 5 1 10 7 2 4-2 4-36 0-3-6 0-4 1-2 6 0 4-2-1-6z"/><path fill="#98d7cd" d="M-2-2l52 0 0 6-4 8-6 0-11 8-11 4-16 1-4-1zM152 210l6-2 4 1 8 3 6 1 6 2 10-1 8-2 10 3 3 3-2 6 11 10 6 2 3 0 3-3 2 1-3 4 3 14-3 10-104 0-1-2-2-1-2 3-5 0-1-4 4-7 2-2 6 2 1-1 0-4-3-6 2-10-3-6 1-4 2-1 5-1 5-4zM70 247l6 5 6 0 5 4 2 2-2 4-18 0-1-1-10 1 3-6 5-4 2-4z"/><path fill="#79c8bc" d="M-2-2l48 0 0 2-2 5-6 2-8 9-4 2-10 4-8-2-10 2zM158 210l6 1 5 5-1 4 0 6-1 2-3 3-2 0-4-2-2 1-2 2-1 2 1 2 4 2 2 1 10-5 2-6 4-3 1-7 5 1 6-2 6 0 6-2 4 1 2 2-1 4 1 4 8 6 8 5 8 4 2 2 1 9-3 10-92 0-1-4 1-4-2-6 1-4-3-8 1-8 5-6 2-6 7-4zM76 258l3 0-1 2-2 1-1-1z"/><path fill="#58b0a7" d="M-2-2l35 0 2 4-1 2-6 3-4 7-4 3-6 2-6-4-2 0-8 4zM158 212l4 0 2 2 1 4-2 6-1 1-6 0-12 7-3 0-1-2 3-6 1-6 2-2 4-2zM200 220l4 9 12 7 6 5 7 3 1 4-2 14-79 0-2-12 3-6 2-2 4 0 4 4 4-6 8-2 2-2 2-4 6-1 2-7 2-1 4 0 4 3 2-1 2-4z"/><path fill="#3b9b93" d="M-2-2l4 0-4 2zM9-2l5 0 2 1 2 0 1-1 9 0 0 2-5 6-3 6-2 2-4 0-6-6-2 1-2 3-6 4 0-8 4-4 4-1zM152 215l8-1 2 2 0 5-2 1-10 1-2-3 0-2zM180 236l6-3 4 2 6 1 2 2-2 2 4 0 6-5 2 0 8 4 10 7 1 16-42 0-1-4-4-3-6 1-2 2-1 4-14 0-4-4-1-2 2-4 2-1 6 0 2-1 4-6 4-2 7 0 3 6 4-2 1-2 0-2-6-2-1-2z"/><path fill="#23867e" d="M155 218l3-1 1 1-1 1zM208 239l6 1 8 6 1 2 1 8 1 6-33 0-2-8 3-6 3-3 8-2zM166 257l1 1-1 3-2-1z"/><path fill="#0c7169" d="M214 246l2-1 4 3 3 14-26 0 0-6-1-4 1-4 5-1 10 1z"/><path fill="#015f56" d="M204 251l5 1 2 2 3 6 6 2-19 0 0-8 1-2z"/><use href="#st"/><use href="#bn"/><circle cx="141" cy="198" r="2.6" fill="none" stroke="#000" stroke-width="1.2"/><circle cx="183" cy="197" r="2.6" fill="none" stroke="#000" stroke-width="1.2"/></g><rect x="0.5" y="0.3" width="283" height="258.6" fill="none" stroke="#333" stroke-width="1.5"/><path d="M138 106h6M141 103v6" stroke="#444" stroke-width="1.4"/></g><text x="213" y="650" font-size="18.4" text-anchor="middle" textLength="175" lengthAdjust="spacingAndGlyphs">CSU WRF member 4</text><g transform="translate(551 657)"><g clip-path="url(#pc)" fill-rule="evenodd"><rect x="-2" y="-2" width="287" height="263" fill="#6a3d07"/><path fill="#824b09" d="M-2-2l288 0 0 264-288 0zM150 188l2 1 1-1-1-1z"/><path fill="#995d13" d="M-2-2l288 0 0 264-288 0zM15 98l-1 2 6 9 4 1 4-2-1-4-5-5-4-2zM130 182l-2 1 0 3-2 2-8 1-1 3 1 2 4 1 6-3 2-2 4-1 6 4 12 0 3-1 5-4 0-2-10-3-10-2z"/><path fill="#ad7021" d="M-2-2l288 0 0 264-288 0 0-162 4 1 3 3 3 6 2 2 4 5 4 3 3 0 11-5 10 2 1-1 1-2-2-4-7-6-3-4-2 1-2-2-6-7-2-1-6-1-2-2 0-4-2-2-8 2-4-3zM138 173l-10 4-4 3-8-1-4 2-10 3-4 0-1 2 1 7 4 2 8 0 4 3 6 0 12-4 8 1 16-1 8-5 8 2 2-1 2-2-2-4-2-1-8-2-6 1-14-3zM196 176l-4 1-6 8-4-1-2 1-3 3 1 2 6 2 8-1 6 1 4-2 2-2 0-2-6-9z"/><path fill="#c28633" d="M-2-2l288 0 0 264-288 0 0-156 4 3 6 6 2 7 2 2 8-1 12-4 14 3 2 0 2-2-1-10-8-6-1-2 0-4-2-2-6-2-3-2-1-6-5-4-3-2-4 0-4-2-6 0-8-1zM44 93l-3 5 3 3 4 1 3-2-5-6zM87 106l-1 2 3 6 0 4 1 2 4 1 4 5 2-1 2-3-6-2-2-2-1-4 2-6-1-2-4-1zM121 130l-1 2 0 7 2 4 4-7 1-6-3-2zM68 154l-2 2 0 2 4 6 2 2 6 0 1-2-1-5-6-2zM114 154l-3 2-1 4 2 1 6 0 2-3 0-2-2-2zM175 156l1 3 3-1-1-2zM128 164l3 4 0 2-1 1-6 1-2 2-2 1-14-1-10 3-3 5-1 6-3-4-2 0-1 1-2 7 4 2 4 1 6 4 10-1 4 2 6 1 14-5 8 1 30-2 10 0 18-1 6-2 3-4 0-4-3-4-3-6-1-1-6-3-6 3-2 5-2 1-8-2-4-2-2 0-4 2-3-1-3-4-2-1-6 3-4 0-4-6-2-2-8 0zM72 184l1 2 1 0 2-2-2-1z"/><path fill="#cfa256" d="M-2-2l288 0 0 264-288 0 0-139 4-2 2-1 6 6 8 1 3 1 1 1 3-3 3-2 4 1 4 2 8-2 2 1 3 6 5 0 2-2 0-4 2-4-1-2-2-4-1-2 7-8-1-10-4-2-4 1-2-1-1-4-1-2-8-2-3-4-1-5-6-6-6 1-6 4-2 0-4-3-4 0-6-6-4-2zM100 68l-1 2 1 0 2 0 2-2zM50 78l0 2 2 2 0-3zM98 99l-4 2-8 1-4 2-4 4 2 6-4 4 2 2 6 2 4 4 2 1 2-1 2 1 2 5 4 1 4 2 8 1 2 2 1 4-1 7-6 1-1 2-1 4-7 4 3 4 6 4-8 3-4 0-3-1-9-8 0-6 7-2 1-2 0-6-2-3-10 0-2 3 0 2 1 2-3 2-6-2-4 0-3 2-4 8 1 6 4 5 8 1 3 2 0 2-3 3-8 3-6 16-1 2 1 1 4 0 8-8 2 0 26 9 8 0 12 1 14-4 6 0 14-2 10 1 10-1 6 1 8-2 8 0 10-2 3-2 3-4 0-4-4-7 0-7-2-4-4-1-6-5-8 1-6-9-6-2-4 0-10 12-8 5-4-2-4-5-2-1-6 2-10-3-2-2 0-4 4-5 4-3 6-3 8-1 1-2-5-7-8-5-2-2 1-2 4-4 0-4-7-2-2-2 0-4-2-2-2 0-4-3-6 0-4-1-8 2zM80 131l-2 5 2 2 2 0 1-2 0-4zM148 140l1 4 2 2 5 1 1-1 0-2-2-4-3-1zM32 148l0 3 2 3 4 2 3-2 0-2-1-3-6-1zM51 152l-1 2-2 7 4-1 3-2 1-6-2-2zM44 162l0 4 2 2 1-2 1-4-2-1zM1 202l1 4 3 0 1-2-2-2-2-1zM13 202l-4 2 0 2 3 1 2-1 0-2zM3 224l-3 4 4 3 4 0 3-3 1-2-1-2-3-2-2 0zM112 109l0 1-1 0zM116 113l6 1 2 2 3 6-3 2-4-2-5-6-1-2z"/><path fill="#dcbc75" d="M-2-2l288 0 0 264-278 0 1-2 0-2-7-3-4 0 0-21 2 3 4 1 14-9 4-4 9-3 2-2-2-8-1-1-4-2-6 0-1-1 0-2 2-4-1-2-6-3-6 2-10-5 0-29 4-2 1-1-1-2-4-2 0-33 4-2 4 1 4 5 4 2 6 5 2 1 4-1 8-5 8 0 2 2 0 3 2 3 2 1 4-1 1 1 1 4-6 6-2 0-2-4-4-3-8 0-3 1-3 8-2 2-6-1-3 1 0 2 5 4 0 2-4 6 0 2 2 3 4 3 2 6 2 2 4 0 3-2-1-6-3-4 0-4 2-2 5-3 2 1 3 6 3 2 12 2 2 6-1 6-3 8-5 6 1 2 2 4-1 2-1 2-2 0-8-7-2 0-2 1-2 4 2 2 4 1 8 0 10 3 6-1 1-1-2-4 1-2 3-4 3-1 12 0 14 3 12 1 10-1 14-3 6 0 14-3 10 1 8-1 8 2 8-2 10-1 12-3 7-10-6-12 0-10-3-3-3-1-9-7-6 3-2-2-6-5-2-6-4 0-4-3-2 0-6 2-4-4-8-1-2-2-3-5 0-8-3-5-2-9-3-4 0-6-1-3-4 0-4-2-2 1-2 2-6 0-2 2-4 1-6-1-6-5-2-1-2 0-4 5-2 1-8 0-8-2-6 1-4-6-4 0-3-3 1-2 2-3 4-1-6-2-3-2 0-2 2-4-2 0-1 2-6 3-6 5-1-4 1-6-4-3-4-5-6 1-4-2-4-3-2-4-2-1-2-1-4 1-4 3-4 4-4 1zM92 64l-1 2 1 4 6 7 2 0 4-2 2 0 1 1 0 4 1 3 8 5 2-2-1-4-5-4-1-2 1-8-1-2-7-3-6 1zM18 254l-5 4 3 2 2-1 3-3-1-1zM10 62l2 0 1 4-1 2-2 1-2-1-2-4zM68 99l1 3-1 1-2-1 0-2zM66 109l2 0 2 1 1 4-2 4-5 1-2-3 0-4zM64 129l10-2 2 1-3 14-2 2-5 2-4 0-1-2 1-6 0-6zM108 142l1 2-1 1-3-1zM98 146l4 0-2 4-2-2zM132 150l4 0 4-2 2 0 2 2 1 2-1 2-12 2-3-2 0-2zM-2 209l8 3 1 2-2 4-7 5z"/><path fill="#e7cf94" d="M-2-2l288 0 0 70-3 2-1 2 4 3 0 61-6-1-1 1-1 2 1 4 7 3 0 57-3 2 1 2 2 1 0 55-263 0 3-6-4-6-2-1-4 1-6 4-2 0-1-2 2-4-1-6 1-2 5-6 8-2 12-9 4-5 2-1 28-1 2-2 1-4 5-4 8-1 10 3 6-1 8 1 32-6 12-3 10 2 8-1 8 1 8-2 10 0 12-2 4-3 8-10-1-4-3-6-1-4 1-2 2-2 6-2 1-2-1-3-2-2-6 2-2-1 0-4 5-4 0-2-1-3-1-1-3 1-4 6-2 0-8-3-6-4-2 0-2 2-2 0-6-10-6 0-6-3-6 2-6-4-6 0-2-1-2-4 1-8-4-6 3-8-6-4 0-8-2-2-9-4-3-2 1-4-1-2-4 0-2-1-5-13-3-3-8-2-8 0-8 3-6 12 2 2 6 1 2 1 1 4 0 2-5 6-4 2-2 0-10-2-1-2-1-8-3-8-7-2-2-3-2-1-4 1-4 2-2 0-12-10-2-1-6 1-2-1-1-2 0-6-3-2-4 1-20-2zM252 9l-6 5 0 2 2 3 3-1 3-4-1-4zM236 62l-1 2 3 0-1-2zM224 148l-1 4 1 1 6-2 3 1 3 3 2 0 2-1-4-2-4-4-4-1zM244 150l-4 4 1 2 3 2 2 0 4-4 1-2-3-4zM110 89l1 3-1 1-2-1 0-2zM0 126l4-1 2 1 7 14 0 2-3 4-2 7-2 3-2-1-6-5 0-22zM15 140l5 0 2 2-2 2-2 0-3-2zM8 170l8 9 4 10 4 2 6-2 2 1 0 2-4 4-2 1-2-1-14-7-12 0 0-13 4 1 3-1 1-5zM38 174l2 0 2 2 0 1-2 1-2-2zM47 180l5 0 0 3-4 1-1-2zM8 192l2 1 0 1-2 1-1-1zM37 194l3-2 2 1 0 3-2 1-2 0zM-2 213l3 3 0 2-3 3z"/><path fill="#f1dfb3" d="M-2-2l245 0 1 3 2 0 4-2 2 0 2 3-2 2-6 4-3 6 1 6 1 2 5 4 0 6 6 6 4 3 4 2 6-1 2 2 8 11 3-3-2-6 0-6-2-10 3-4 4 0 0 15-2 1-1 2 3 3 0 11-6-2-2 3-5 9-1 2 2 2-4 4 0 2 4 6 2 0 4-3 6 0 0 15-1 2 1 6-4 4 1 2 3 1 0 17-6 1-4-2-2 0-1 1 0 6-1 3-3 3-3 1-6 0-10-2-6-5-1 2 1 4-2 0-1-2 0-2 1-2 2 0-1-6-1-2-2-1-2 0-4 5-4 1-2-1-6-12-7 0 2 4-1 8 2 3 3 1-1 2-4 0-2 2-8 6-6-2-12-10-2-1-8 2-8-4-6 1-4-3-6-1-2-2-1-12 2-2 5-3 2-3 0-4-5-4-3-4-6-1-4-4-7-3 0-2 1-3 4-1 2-2 1-2-1-2-6 2-4-4-6-2-3-4-7-6-4-5-8-4-2-1-2 1-8 5-10 10-4-2-8 4-2 0-4-2-4-1-10 2-2-1-2-4-4-1-4-3-6-2-2-2-2-6-6-3-6 2-6 1-12-2zM247 40l-1 2 1 4 3 3 5 3 3 7 2-1 2-5 2-2 4 0 1-1-1-3-2-1-4 3-4-2-4-7-4-1zM236 57l-7 3-1 4 2 4-1 4 3 10-2 6 2 4 10 4 0 2-6 7-3 1-9-2-4 4 8 4 3 4 0 6 3 1 3-1 3-6 6-4 2-4 6 1 1-5-1-6 0-2 2-3 2-1 2 1 2 3 3 2 4 0 2-2-3-4 0-4-2-4-6-3-3-5-2-2-3-1-4-1-1-2 4-8 0-2-3-2-4-1zM219 92l-6 2-2 2 0 2 13 1 0-1-3-4zM205 100l-2 2 1 1 2-1 0-2zM267 116l1 2 2 0 0-2 0-1-2 0zM269-2l3 0 10 0-4 8-4 3-3-1-2-2zM264 13l2 0 2 1 0 2-2 2-2 1-3-3zM286 16l0 2 0 3-2-3zM84 84l1 0-1 2-1 0zM249 88l2 0-1 2zM0 128l2-2 2 1 5 9 0 6-3 7-2 2-4-3-2-4 0-12zM272 148l4-1 10 1 0 16-6-2-4 2-4 0-1-2 3-2 1-2-5-1-2-3 0-2zM258 151l2 1 1 2-1 1-3-1 0-2zM232 161l12 2 12 0 2 1 2 2-1 2-8 4-1 2 4 9 2 1 2-2 2-4 2-1 8-3 4-4 2 0 0 12 2 2 2 1 2 0 4-2 0 7-6-3-6 7 3 6-7 4 0 2 1 2 11 1 4 3 0 50-257 0 1-6-3-6 0-2 5-6 0-2-2-6 3-6 5-3 2-1 5 2 0-4 5-1 8 0 6-2 12 1 4 1 1-5 3-3 2 0 2 2 3 1 5-2 6-4 8 0 42-9 12 1 6-1 8 2 10-2 10-1 10-2 9-4 11-7 4 2 2-1 2-2 0-2 0-4 1-2 2-2 0-2-1-1-4 1-6 10-6-6-1-2 2-6 1-1 4-1 2-5zM246 192l0 4 2 3 6 1 3-2 0-4-3-3-4 0zM263 200l0 2 3 2 4 0-4-4zM270 210l-1 2 1 1 0-1zM272 222l0 4 3 4 3 0 2-2 1-4-1-3-6 0z"/><path fill="#f6eacb" d="M-2-2l83 0 1 5 4 5 2-2 0-8 12 0 2 2 3-2 135 0 0 4 2 6-2 4-4 0-8-3-1 1-1 4 2 6 0 6 2 2 6-3 4 6 2-1 1 0-2 6-3 5-6 1-2 2-2 9-2 3-4-10-6 1-2 2-3 11 0 2 7 2 2-1 4-7 0 6-2 2-2 1-1 5-1 2-2 1-6 0-7 3-2 2 0 2 2 4-1 1-4 1-2 2 0 4 2 3 2 1-2 6 0 6 2 3 4-2 4 1 2 12-7 10-3 2-2 0-4-2-4-4-4 0-8 2-12-8-6 0-3-2-1-4 1-2 4-4 5-10-1-2-7-5-3-3-11-8 0-2 4-6 1-4 0-4-2-4-3-2-2 0-4 4-6 1-2-2-4-6-8-4-12-8-6-1-2 1-12 8-6 3-10 6-8-3-6-5-14 0-5-2-2-2-1-6-2-2-10-3-6 3-6 1-12-1zM220 5l0 1 2 0zM100 14l1 2 2 0 0-2-1-1zM236 46l3 0-1 2zM224 77l2 1 0 3-2-1zM274 90l8-1 1 1-3 2-2 0-2 0zM262 101l6 1 2 2 1 4-3 1-8-1-1-4 1-2zM280 114l6 0 0 9-4-3-4-2-1-2zM252 123l10-2 3 1 0 2-3 1-1 3 1 3 5 3 0 2-1 2-6 0-8-4-3-2-1-6zM2 129l2 0 2 5 1 4-1 4-2 4-2 0-4-7 0-3zM284 156l2-4 0 6zM214 198l6 0 6 2 2 0 12-4 2 1 4 6 6 1 1 4 6 4 3 6 2 1 2-1 2 2 1 10-1 4 8 1 6 0 4 2 0 25-252 0 0-6-2-6 5-8 1-6 8-4 6-5 6-1 6-4 10 3 6 3 2 0 6-5 16-9 30-8 20-4 10 1 6 0 10 1 10-2 10 0zM286 221l0 1 0 3 0-1z"/><path fill="#f5f0e0" d="M-2-2l75 0 1 4 4 3 2 3-3 6 1 2 8 4 6-5 2 0 6 6 2 0 4-1 2-2 0-4-4-10 2-2 4-2 1-2 93 0 0 8 8 4 5 8 1 4-3 4 0 2 3 8 0 2-8 5-3 5-5 4-6 7-1 5 1 4 3 4-1 2-3 4-1 4-8 2-1 2 5 1 2 2 1 9 1 4 0 8 6 16-2 2-6-3-12 1-8-3-7-7 2-8 4-2 1-2 0-8 2-4 2-2-2-1-8 3-2-1-4-4-6-3-3-4-1-2 1-2 6-12-5-8-4-2-6 2-2-2 0-3-2-1-8 3-12-5-4-2 2-4-1-2-1-1-16 2-11 7-5 1-4-1-4-6-2 0-4 4-2 6-2 1-4-5-4-8-4-2-5 0 0 2 6 6 1 2-2 2-6 2-6-2-1-2 0-4-3-7-8 0-6-1-8 4-6 0-10-1zM67 30l1 3 2 0 1-3-1-1zM164 69l-3 3 0 2 1 1 2 0 2-3 0-2zM178 117l0 2 0-1zM212-2l2 0 7 0-3 3-4 2-2-1zM223-2l8 0 0 4-1 1-2 0zM254 128l2 0 0 2zM2 132l2 1 2 5-2 3-2 1-3-4 1-2zM200 203l18-3 8 3 12-1 2 2 6 11 2 2 2 1 6-2 7 12-1 4 2 5 2 1 6 0 8 2 6 3 0 19-250 0 0-14 5-6 2-4 9-8 6-1 6-3 2 0 12 6 4 0 6-5 6-3 2-2 6-2 6-4 6 0 4-3 6-3 28-7 4 0 8 1 6 0 10 2 10-3z"/><path fill="#f4f5f5" d="M-2-2l4 0 67 0-3 8-1 10-5 4-2 6-4 3-4 1-6-4-4 2-6 4-12 2-6 3-4 0-14 0zM117 2l6-4 15 0 2 1 4 0 1 1 0 6-2 4 0 4-5 7-2 1-6-4-3 2-3 4 0 2 2 2 4-1 2 1 4 3 5-1 3-6 4-2 0-8 1-4 6-12 44 0 0 2-3 4 1 2 10 8 3 5-1 1-3 1-4 3 0 2 1 8-4 14-6 8-3 8-4 1-1 1 0 8-5 4-2 1-6-3-1-2 2-4 0-4-7-3-8-9-4-3-4-2-4 0-6-4-4-1-3 4-3 1-10-5-1-6 0-2 6-4-1-2-2 1-6-1-2 4-2 1-2-1-2-4 0-2 3-4 3-6 0-2-3-6 4-4zM84 24l8 0 2 2-1 6 0 2 5 2-4 3-2 0-2-3-2-1-4 7-2 1-2 0-5-7 1-2 3-2 2-6zM44 46l3 0-1 2-2 0zM182 100l2 0 2 1 1 5-1 3-2 2-2 0-4-3-1-4 1-2zM200 205l18-3 6 3 8 0 2 1 6 5 8 10 2 1 4 0 2 1 1 3 0 6 7 10 8 0 3 2 1 2 0 4-6 0-2 2 0 4 4 3 1 3-235 0 1-14 5-5 2-5 6-5 12-4 16 7 6 0 4-2 6-2 4-6 6-5 2-1 9 0 1-1 3-5 3-2 12-4 20-4 24 3 12-2zM282 250l4-2 0 8-4-4z"/><path fill="#e2f0ee" d="M-2-2l59 0 0 4 3 4 0 4-2 4-4 4-2 6-2 1-4-3-2 1-12 6-18 6-16-2zM160-2l30 0 0 4-3 2-1 2 0 2 4 4 1 10 6 8-1 4-4-1-1 1 3 4 0 10-4 5-2 5-4 1-6 5-9-4 0-8-8-2-2-2 1 0 1-4-1-2-4-1-4-5 4-14-2-6 0-4 2-5 2-2 4-1 1-2zM122 4l4-1 3 3 1 3 2 1 4-3 2 3-1 4-2 0-3-2-8 3-5-5 1-4zM136 209l22-4 8 2 6 0 8 1 36-4 6 3 8 1 10 6 5 8 1 6 5 6 3 5 2 1 0 2-2 4 0 3 2 2 6 1 1 2-1 2-6 4-1 2-215 0 1-12 5-6 4-6 2-2 12-4 16 7 12 3 4 4 2-1 2-3 2-1 4 3 3-2 0-2-1-4-5-2 0-4 3-4 4-3 8 1 2-1 4-9 4-2z"/><path fill="#ceece8" d="M-2-2l57 0 1 10-1 2-9 8-6 3-6 2-4 3-16 5-16-1zM168-2l13 0-2 8 1 6 5 4 1 6 3 4 0 2-2 4-1 6-4 6 1 6-5 5-2 0-4-7-6-3-2-7-7-2 3-18-2-6 0-2 8-4 2-2 0-2zM169 18l-2 4 1 1 8-1 2-2 0-2-2-1zM136 211l22-5 8 3 6-1 8 2 28-4 18 4 6 5 6 2 4 5 0 2-2 6 1 2 5 4 1 10 3 4 2 4-4 8-152 0-2-1-2 1-50 0 1-12 4-4 5-6 4-2 8-1 8 1 6 3 12 4 6 9 4 2 8 0 2-1 5-9 4-4 1-2-2-4 0-4 4-5 4-11 2-2z"/><path fill="#b4e2db" d="M-2-2l4 0 50 0-1 10-3 3-8 6-8 3-4 3-10 4-8-1-8 2-4-1zM181 28l2 0-1 2zM172 37l3 1 1 2-4 2-2-2 0-2zM138 212l20-4 8 2 6 0 8 1 6 0 20-3 6 1 6 4 8 2 8 6 2 3-1 6 1 3 2 7 3 4 1 6 2 4-1 8-130 0 0-4 11-16 1-6 2-6 0-6 2-8zM54 242l2 0 4 4 2 1 8-4 1 5 3 2 8-5 6 1 2 2 1 4 0 4-3 6-44 0 2-6 0-4z"/><path fill="#98d7cd" d="M-2-2l4 0 46 0-2 10-10 7-14 8-4 1-8-1-6 1-6-2zM150 210l8-1 6 2 14 2 8 0 8-1 10-1 8 2 16 9 2 2 5 16 3 6 3 16-125 0 0-4 1-2 6-6 5-8 2-10 0-8 2-6 2-2zM66 249l2 1 4 3 2 0 10-2 2 0 0 1-2 4-5 6-31 0 2-2z"/><path fill="#79c8bc" d="M-2-2l46 0 0 2-1 6-2 2-17 11-20 2-6-2zM148 212l10-1 11 3 7 3 4-1 8 0 10-2 10 3 5 5 0 4 1 2 8 2 4 5 4 1 3 6 3 4 2 16-119 0 2-6 9-8 6 1 4 3 2-2-4-6 1-6-5-7-1-5 4-8zM181 226l3 5 2-1 1-2-2-2-3-1zM152 230l-2 2 1 2 3 1 4-5-2-1zM167 230l3 6 2-1 1-5-3-1-2 0zM66 254l2 0 4 2 4 0 1 2-2 4-12 0-1-4 1-2z"/><path fill="#58b0a7" d="M3-2l37 0 0 4-1 4-3 3-12 7-8-1-4 1-4 0-6 1-4-1 0-14 2 0zM148 213l8 0 4 3 0 1 1-1 3 0 3 4-1 1-2 0-4-3-2 0-4 5-2 1-6 1-2 1 0 4-2 2-2-1-3-3 0-2 5-8zM191 222l3 3 0 2-2-1-1-2zM204 221l4 3 3 6 11 6 6 9 4 1 2 1 2 15-90 0-2-2 0-4 2-6 0-2-3-4 1-4 2-1 3 1 1 4 2 2 6-3 2-6 2-1 4 2 5 6 5 1 2-1 5-6 9-7 6 1zM130 254l2 0-1 2-2 0zM136 260l2 0 2 2-5 0z"/><path fill="#3b9b93" d="M18-2l6 1 2-1 10 0 0 6-3 4-9 4-2 0-4-2-6 0-2-2 0-2 2-1 4 1 2-2 1-2zM147 218l3-1 1 1-1 2-2 0zM192 236l6 3 14-4 8 3 3 4 2 6 6 4 3 10-80 0-2-4-4 1-1-1-1-2 2-3 6 1 7-6 5 0 10 4 10-12 4-4zM176 253l-2 3 1 2 5 0 1-2z"/><path fill="#23867e" d="M25 4l5-4 1 2-1 2-2 3-2 1-2-2zM206 240l6-2 2 0 6 4 4 8 4 6 1 6-35 0-6-3-3-5 0-4 3-6 4-3 4 3 2 0zM159 256l3-1 4 1 0 4-2 1-4-3z"/><path fill="#0c7169" d="M212 243l4 0 4 3 3 8 1 8-19 0-4-6 0-4 2-4 3-2zM190 251l2-1 2 1 1 1 1 3-3 1-3 0-1-2z"/><path fill="#015f56" d="M210 248l4-1 4 1 2 6-1 8-5 0-1-2-5-2-2-2-1-4 1-2z"/><use href="#st"/><use href="#bn"/><circle cx="141" cy="198" r="2.6" fill="none" stroke="#000" stroke-width="1.2"/><circle cx="162" cy="198" r="2.6" fill="none" stroke="#000" stroke-width="1.2"/><circle cx="183" cy="197" r="2.6" fill="none" stroke="#000" stroke-width="1.2"/><circle cx="12" cy="219" r="2.6" fill="none" stroke="#000" stroke-width="1.2"/><circle cx="15" cy="73" r="2.6" fill="none" stroke="#000" stroke-width="1.2"/></g><rect x="0.5" y="0.3" width="283" height="258.6" fill="none" stroke="#333" stroke-width="1.5"/><path d="M138 106h6M141 103v6" stroke="#444" stroke-width="1.4"/></g><text x="693" y="650" font-size="18.4" text-anchor="middle" textLength="225" lengthAdjust="spacingAndGlyphs">CSU WRF ensemble mean</text><g transform="translate(1032 657)"><g clip-path="url(#pc)" fill-rule="evenodd"><rect width="283" height="259" fill="#fff"/><use href="#st"/></g><rect x="0.5" y="0.3" width="283" height="258.6" fill="none" stroke="#333" stroke-width="1.5"/><path d="M138 106h6M141 103v6" stroke="#444" stroke-width="1.4"/></g><rect x="174.40" y="926.2" width="15.12" height="20.4" fill="#543005"/><rect x="188.52" y="926.2" width="15.12" height="20.4" fill="#6a3d07"/><rect x="202.64" y="926.2" width="15.12" height="20.4" fill="#824b09"/><rect x="216.76" y="926.2" width="15.12" height="20.4" fill="#995d13"/><rect x="230.88" y="926.2" width="15.12" height="20.4" fill="#ad7021"/><rect x="245.00" y="926.2" width="15.12" height="20.4" fill="#c28633"/><rect x="259.12" y="926.2" width="15.12" height="20.4" fill="#cfa256"/><rect x="273.24" y="926.2" width="15.12" height="20.4" fill="#dcbc75"/><rect x="287.36" y="926.2" width="15.12" height="20.4" fill="#e7cf94"/><rect x="301.48" y="926.2" width="15.12" height="20.4" fill="#f1dfb3"/><rect x="315.60" y="926.2" width="15.12" height="20.4" fill="#f6eacb"/><rect x="329.72" y="926.2" width="15.12" height="20.4" fill="#f5f0e0"/><rect x="343.84" y="926.2" width="15.12" height="20.4" fill="#f4f5f5"/><rect x="357.96" y="926.2" width="15.12" height="20.4" fill="#e2f0ee"/><rect x="372.08" y="926.2" width="15.12" height="20.4" fill="#ceece8"/><rect x="386.20" y="926.2" width="15.12" height="20.4" fill="#b4e2db"/><rect x="400.32" y="926.2" width="15.12" height="20.4" fill="#98d7cd"/><rect x="414.44" y="926.2" width="15.12" height="20.4" fill="#79c8bc"/><rect x="428.56" y="926.2" width="15.12" height="20.4" fill="#58b0a7"/><rect x="442.68" y="926.2" width="15.12" height="20.4" fill="#3b9b93"/><rect x="456.80" y="926.2" width="15.12" height="20.4" fill="#23867e"/><rect x="470.92" y="926.2" width="15.12" height="20.4" fill="#0c7169"/><rect x="485.04" y="926.2" width="15.12" height="20.4" fill="#015f56"/><rect x="499.16" y="926.2" width="15.12" height="20.4" fill="#004c42"/><rect x="513.28" y="926.2" width="15.12" height="20.4" fill="#003c30"/><rect x="527.40" y="926.2" width="15.12" height="20.4" fill="#5ea5d5"/><rect x="541.52" y="926.2" width="15.12" height="20.4" fill="#579fd1"/><rect x="555.64" y="926.2" width="15.12" height="20.4" fill="#4f99cd"/><rect x="569.76" y="926.2" width="15.12" height="20.4" fill="#4893c9"/><rect x="583.88" y="926.2" width="15.12" height="20.4" fill="#408cc4"/><rect x="598.00" y="926.2" width="15.12" height="20.4" fill="#3986c0"/><rect x="612.12" y="926.2" width="15.12" height="20.4" fill="#3180bc"/><rect x="626.24" y="926.2" width="15.12" height="20.4" fill="#2a7ab8"/><rect x="640.36" y="926.2" width="15.12" height="20.4" fill="#2671aa"/><rect x="654.48" y="926.2" width="15.12" height="20.4" fill="#21689d"/><rect x="668.60" y="926.2" width="15.12" height="20.4" fill="#1d5f8f"/><rect x="682.72" y="926.2" width="15.12" height="20.4" fill="#185681"/><rect x="696.84" y="926.2" width="15.12" height="20.4" fill="#144d73"/><rect x="710.96" y="926.2" width="15.12" height="20.4" fill="#0f4466"/><rect x="725.08" y="926.2" width="15.12" height="20.4" fill="#0b3b58"/><rect x="739.20" y="926.2" width="15.12" height="20.4" fill="#9b95cd"/><rect x="753.32" y="926.2" width="15.12" height="20.4" fill="#948cc8"/><rect x="767.44" y="926.2" width="15.12" height="20.4" fill="#8d83c2"/><rect x="781.56" y="926.2" width="15.12" height="20.4" fill="#867abd"/><rect x="795.68" y="926.2" width="15.12" height="20.4" fill="#7f70b8"/><rect x="809.80" y="926.2" width="15.12" height="20.4" fill="#7867b3"/><rect x="823.92" y="926.2" width="15.12" height="20.4" fill="#715ead"/><rect x="838.04" y="926.2" width="15.12" height="20.4" fill="#6a55a8"/><rect x="852.16" y="926.2" width="15.12" height="20.4" fill="#644ba2"/><rect x="866.28" y="926.2" width="15.12" height="20.4" fill="#5d419d"/><rect x="880.40" y="926.2" width="15.12" height="20.4" fill="#573797"/><rect x="894.52" y="926.2" width="15.12" height="20.4" fill="#502d91"/><rect x="908.64" y="926.2" width="15.12" height="20.4" fill="#4a238b"/><rect x="922.76" y="926.2" width="15.12" height="20.4" fill="#431986"/><rect x="936.88" y="926.2" width="15.12" height="20.4" fill="#3d0f80"/><rect x="951.00" y="926.2" width="15.12" height="20.4" fill="#9c0080"/><rect x="965.12" y="926.2" width="15.12" height="20.4" fill="#96007f"/><rect x="979.24" y="926.2" width="15.12" height="20.4" fill="#91007e"/><rect x="993.36" y="926.2" width="15.12" height="20.4" fill="#8b007d"/><rect x="1007.48" y="926.2" width="15.12" height="20.4" fill="#85007d"/><rect x="1021.60" y="926.2" width="15.12" height="20.4" fill="#7f007c"/><rect x="1035.72" y="926.2" width="15.12" height="20.4" fill="#7a007b"/><rect x="1049.84" y="926.2" width="15.12" height="20.4" fill="#74007a"/><rect x="1063.96" y="926.2" width="15.12" height="20.4" fill="#6e0078"/><rect x="1078.08" y="926.2" width="15.12" height="20.4" fill="#680075"/><rect x="1092.20" y="926.2" width="15.12" height="20.4" fill="#620073"/><rect x="1106.32" y="926.2" width="15.12" height="20.4" fill="#5c0071"/><rect x="1120.44" y="926.2" width="15.12" height="20.4" fill="#56006f"/><rect x="1134.56" y="926.2" width="15.12" height="20.4" fill="#50006c"/><rect x="1148.68" y="926.2" width="14.12" height="20.4" fill="#4a006a"/><path d="M1162.8 926.2L1212.3 936.4L1162.8 946.6Z" fill="#4a006a"/><path d="M174.4 926.2L1162.8 926.2L1212.3 936.4L1162.8 946.6L174.4 946.6Z" fill="none" stroke="#000" stroke-width="1"/><path d="M174.4 946.6V951.1" stroke="#000" stroke-width="1"/><text x="174.4" y="967.3" font-size="15" text-anchor="middle">0</text><path d="M245.0 946.6V951.1" stroke="#000" stroke-width="1"/><text x="245.0" y="967.3" font-size="15" text-anchor="middle">5</text><path d="M315.6 946.6V951.1" stroke="#000" stroke-width="1"/><text x="315.6" y="967.3" font-size="15" text-anchor="middle">10</text><path d="M386.2 946.6V951.1" stroke="#000" stroke-width="1"/><text x="386.2" y="967.3" font-size="15" text-anchor="middle">15</text><path d="M456.8 946.6V951.1" stroke="#000" stroke-width="1"/><text x="456.8" y="967.3" font-size="15" text-anchor="middle">20</text><path d="M527.4 946.6V951.1" stroke="#000" stroke-width="1"/><text x="527.4" y="967.3" font-size="15" text-anchor="middle">25</text><path d="M598.0 946.6V951.1" stroke="#000" stroke-width="1"/><text x="598.0" y="967.3" font-size="15" text-anchor="middle">30</text><path d="M668.6 946.6V951.1" stroke="#000" stroke-width="1"/><text x="668.6" y="967.3" font-size="15" text-anchor="middle">35</text><path d="M739.2 946.6V951.1" stroke="#000" stroke-width="1"/><text x="739.2" y="967.3" font-size="15" text-anchor="middle">40</text><path d="M809.8 946.6V951.1" stroke="#000" stroke-width="1"/><text x="809.8" y="967.3" font-size="15" text-anchor="middle">45</text><path d="M880.4 946.6V951.1" stroke="#000" stroke-width="1"/><text x="880.4" y="967.3" font-size="15" text-anchor="middle">50</text><path d="M951.0 946.6V951.1" stroke="#000" stroke-width="1"/><text x="951.0" y="967.3" font-size="15" text-anchor="middle">55</text><path d="M1021.6 946.6V951.1" stroke="#000" stroke-width="1"/><text x="1021.6" y="967.3" font-size="15" text-anchor="middle">60</text><path d="M1092.2 946.6V951.1" stroke="#000" stroke-width="1"/><text x="1092.2" y="967.3" font-size="15" text-anchor="middle">65</text><path d="M1162.8 946.6V951.1" stroke="#000" stroke-width="1"/><text x="1162.8" y="967.3" font-size="15" text-anchor="middle">70</text><text x="668.6" y="987.9" font-size="15" text-anchor="middle" textLength="192" lengthAdjust="spacingAndGlyphs">precipitable water (mm)</text></svg></body></html>
